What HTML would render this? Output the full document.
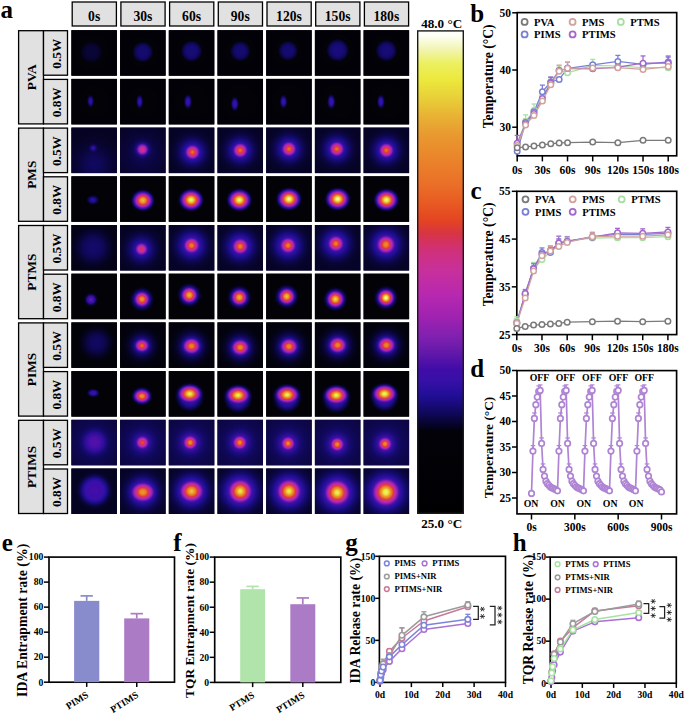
<!DOCTYPE html>
<html><head><meta charset="utf-8"><title>figure</title>
<style>
html,body{margin:0;padding:0;background:#fff;width:685px;height:714px;overflow:hidden}
svg{display:block}
text{font-family:"Liberation Serif",serif;font-weight:bold}
</style></head><body>
<svg width="685" height="714" viewBox="0 0 685 714">
<defs><radialGradient id="g1" gradientUnits="userSpaceOnUse" cx="91.42" cy="52.04" r="26.40"><stop offset="0.000" stop-color="#090537"/><stop offset="0.056" stop-color="#090537"/><stop offset="0.111" stop-color="#090536"/><stop offset="0.167" stop-color="#090535"/><stop offset="0.222" stop-color="#080433"/><stop offset="0.278" stop-color="#07042d"/><stop offset="0.333" stop-color="#050323"/><stop offset="0.389" stop-color="#030211"/><stop offset="0.444" stop-color="#020208"/><stop offset="0.500" stop-color="#020208"/><stop offset="0.556" stop-color="#020207"/><stop offset="0.611" stop-color="#020207"/><stop offset="0.667" stop-color="#010107"/><stop offset="0.722" stop-color="#010107"/><stop offset="0.778" stop-color="#010107"/><stop offset="0.833" stop-color="#010107"/><stop offset="0.889" stop-color="#010107"/><stop offset="0.944" stop-color="#010107"/><stop offset="1.000" stop-color="#010107"/></radialGradient><radialGradient id="g2" gradientUnits="userSpaceOnUse" cx="142.85" cy="52.04" r="21.12"><stop offset="0.000" stop-color="#150a70"/><stop offset="0.056" stop-color="#150a70"/><stop offset="0.111" stop-color="#150a70"/><stop offset="0.167" stop-color="#150a6e"/><stop offset="0.222" stop-color="#140a6b"/><stop offset="0.278" stop-color="#120965"/><stop offset="0.333" stop-color="#0f0859"/><stop offset="0.389" stop-color="#0b0644"/><stop offset="0.444" stop-color="#060429"/><stop offset="0.500" stop-color="#020208"/><stop offset="0.556" stop-color="#020207"/><stop offset="0.611" stop-color="#020207"/><stop offset="0.667" stop-color="#020207"/><stop offset="0.722" stop-color="#010107"/><stop offset="0.778" stop-color="#010107"/><stop offset="0.833" stop-color="#010107"/><stop offset="0.889" stop-color="#010107"/><stop offset="0.944" stop-color="#010107"/><stop offset="1.000" stop-color="#010107"/></radialGradient><radialGradient id="g3" gradientUnits="userSpaceOnUse" cx="191.55" cy="51.13" r="21.56"><stop offset="0.000" stop-color="#170b77"/><stop offset="0.056" stop-color="#170b76"/><stop offset="0.111" stop-color="#170b76"/><stop offset="0.167" stop-color="#170b75"/><stop offset="0.222" stop-color="#160a72"/><stop offset="0.278" stop-color="#140a6b"/><stop offset="0.333" stop-color="#11085f"/><stop offset="0.389" stop-color="#0d064b"/><stop offset="0.444" stop-color="#07042e"/><stop offset="0.500" stop-color="#020208"/><stop offset="0.556" stop-color="#020208"/><stop offset="0.611" stop-color="#020207"/><stop offset="0.667" stop-color="#020207"/><stop offset="0.722" stop-color="#010107"/><stop offset="0.778" stop-color="#010107"/><stop offset="0.833" stop-color="#010107"/><stop offset="0.889" stop-color="#010107"/><stop offset="0.944" stop-color="#010107"/><stop offset="1.000" stop-color="#010107"/></radialGradient><radialGradient id="g4" gradientUnits="userSpaceOnUse" cx="240.25" cy="51.13" r="20.68"><stop offset="0.000" stop-color="#150a70"/><stop offset="0.056" stop-color="#150a70"/><stop offset="0.111" stop-color="#150a70"/><stop offset="0.167" stop-color="#150a6e"/><stop offset="0.222" stop-color="#140a6b"/><stop offset="0.278" stop-color="#120965"/><stop offset="0.333" stop-color="#0f0859"/><stop offset="0.389" stop-color="#0b0644"/><stop offset="0.444" stop-color="#060429"/><stop offset="0.500" stop-color="#020208"/><stop offset="0.556" stop-color="#020207"/><stop offset="0.611" stop-color="#020207"/><stop offset="0.667" stop-color="#020207"/><stop offset="0.722" stop-color="#010107"/><stop offset="0.778" stop-color="#010107"/><stop offset="0.833" stop-color="#010107"/><stop offset="0.889" stop-color="#010107"/><stop offset="0.944" stop-color="#010107"/><stop offset="1.000" stop-color="#010107"/></radialGradient><radialGradient id="g5" gradientUnits="userSpaceOnUse" cx="288.04" cy="50.67" r="20.24"><stop offset="0.000" stop-color="#150a70"/><stop offset="0.056" stop-color="#150a70"/><stop offset="0.111" stop-color="#150a70"/><stop offset="0.167" stop-color="#150a6e"/><stop offset="0.222" stop-color="#140a6b"/><stop offset="0.278" stop-color="#120965"/><stop offset="0.333" stop-color="#0f0859"/><stop offset="0.389" stop-color="#0b0644"/><stop offset="0.444" stop-color="#060429"/><stop offset="0.500" stop-color="#020208"/><stop offset="0.556" stop-color="#020207"/><stop offset="0.611" stop-color="#020207"/><stop offset="0.667" stop-color="#020207"/><stop offset="0.722" stop-color="#010107"/><stop offset="0.778" stop-color="#010107"/><stop offset="0.833" stop-color="#010107"/><stop offset="0.889" stop-color="#010107"/><stop offset="0.944" stop-color="#010107"/><stop offset="1.000" stop-color="#010107"/></radialGradient><radialGradient id="g6" gradientUnits="userSpaceOnUse" cx="337.65" cy="50.22" r="22.66"><stop offset="0.000" stop-color="#190b7b"/><stop offset="0.056" stop-color="#190b7b"/><stop offset="0.111" stop-color="#190b7b"/><stop offset="0.167" stop-color="#180b7a"/><stop offset="0.222" stop-color="#170b76"/><stop offset="0.278" stop-color="#150a70"/><stop offset="0.333" stop-color="#120964"/><stop offset="0.389" stop-color="#0e074f"/><stop offset="0.444" stop-color="#080432"/><stop offset="0.500" stop-color="#02020c"/><stop offset="0.556" stop-color="#020208"/><stop offset="0.611" stop-color="#020207"/><stop offset="0.667" stop-color="#020207"/><stop offset="0.722" stop-color="#010107"/><stop offset="0.778" stop-color="#010107"/><stop offset="0.833" stop-color="#010107"/><stop offset="0.889" stop-color="#010107"/><stop offset="0.944" stop-color="#010107"/><stop offset="1.000" stop-color="#010107"/></radialGradient><radialGradient id="g7" gradientUnits="userSpaceOnUse" cx="386.35" cy="50.67" r="21.56"><stop offset="0.000" stop-color="#170b77"/><stop offset="0.056" stop-color="#170b76"/><stop offset="0.111" stop-color="#170b76"/><stop offset="0.167" stop-color="#170b75"/><stop offset="0.222" stop-color="#160a72"/><stop offset="0.278" stop-color="#140a6b"/><stop offset="0.333" stop-color="#11085f"/><stop offset="0.389" stop-color="#0d064b"/><stop offset="0.444" stop-color="#07042e"/><stop offset="0.500" stop-color="#020208"/><stop offset="0.556" stop-color="#020208"/><stop offset="0.611" stop-color="#020207"/><stop offset="0.667" stop-color="#020207"/><stop offset="0.722" stop-color="#010107"/><stop offset="0.778" stop-color="#010107"/><stop offset="0.833" stop-color="#010107"/><stop offset="0.889" stop-color="#010107"/><stop offset="0.944" stop-color="#010107"/><stop offset="1.000" stop-color="#010107"/></radialGradient><radialGradient id="g8" gradientUnits="userSpaceOnUse" cx="94.15" cy="101.65" r="28.60"><stop offset="0.000" stop-color="#020207"/><stop offset="0.056" stop-color="#020207"/><stop offset="0.111" stop-color="#020207"/><stop offset="0.167" stop-color="#020207"/><stop offset="0.222" stop-color="#020207"/><stop offset="0.278" stop-color="#020207"/><stop offset="0.333" stop-color="#020207"/><stop offset="0.389" stop-color="#020207"/><stop offset="0.444" stop-color="#020207"/><stop offset="0.500" stop-color="#020207"/><stop offset="0.556" stop-color="#010107"/><stop offset="0.611" stop-color="#010107"/><stop offset="0.667" stop-color="#010107"/><stop offset="0.722" stop-color="#010107"/><stop offset="0.778" stop-color="#010107"/><stop offset="0.833" stop-color="#010107"/><stop offset="0.889" stop-color="#010107"/><stop offset="0.944" stop-color="#010107"/><stop offset="1.000" stop-color="#010107"/></radialGradient><radialGradient id="g9" gradientUnits="userSpaceOnUse" cx="90.51" cy="101.20" r="13.44" gradientTransform="translate(90.51 101.20) scale(0.55 1) translate(-90.51 -101.20)"><stop offset="0.000" stop-color="#3310a4"/><stop offset="0.056" stop-color="#320fa3"/><stop offset="0.111" stop-color="#2d0fa0"/><stop offset="0.167" stop-color="#270f9b"/><stop offset="0.222" stop-color="#1f0e92"/><stop offset="0.278" stop-color="#190b7c" stop-opacity="0.97"/><stop offset="0.333" stop-color="#120965" stop-opacity="0.82"/><stop offset="0.389" stop-color="#0d064a" stop-opacity="0.67"/><stop offset="0.444" stop-color="#080430" stop-opacity="0.53"/><stop offset="0.500" stop-color="#040316" stop-opacity="0.40"/><stop offset="0.556" stop-color="#020208" stop-opacity="0.30"/><stop offset="0.611" stop-color="#020208" stop-opacity="0.21"/><stop offset="0.667" stop-color="#020207" stop-opacity="0.15"/><stop offset="0.722" stop-color="#020207" stop-opacity="0.10"/><stop offset="0.778" stop-color="#020207" stop-opacity="0.07"/><stop offset="0.833" stop-color="#020207" stop-opacity="0.04"/><stop offset="0.889" stop-color="#020207" stop-opacity="0.03"/><stop offset="0.944" stop-color="#020207" stop-opacity="0.02"/><stop offset="1.000" stop-color="#020207" stop-opacity="0.01"/></radialGradient><radialGradient id="g10" gradientUnits="userSpaceOnUse" cx="142.85" cy="101.65" r="28.60"><stop offset="0.000" stop-color="#020207"/><stop offset="0.056" stop-color="#020207"/><stop offset="0.111" stop-color="#020207"/><stop offset="0.167" stop-color="#020207"/><stop offset="0.222" stop-color="#020207"/><stop offset="0.278" stop-color="#020207"/><stop offset="0.333" stop-color="#020207"/><stop offset="0.389" stop-color="#020207"/><stop offset="0.444" stop-color="#020207"/><stop offset="0.500" stop-color="#020207"/><stop offset="0.556" stop-color="#010107"/><stop offset="0.611" stop-color="#010107"/><stop offset="0.667" stop-color="#010107"/><stop offset="0.722" stop-color="#010107"/><stop offset="0.778" stop-color="#010107"/><stop offset="0.833" stop-color="#010107"/><stop offset="0.889" stop-color="#010107"/><stop offset="0.944" stop-color="#010107"/><stop offset="1.000" stop-color="#010107"/></radialGradient><radialGradient id="g11" gradientUnits="userSpaceOnUse" cx="139.67" cy="101.65" r="14.40" gradientTransform="translate(139.67 101.65) scale(0.5 1) translate(-139.67 -101.65)"><stop offset="0.000" stop-color="#3a0fa8"/><stop offset="0.056" stop-color="#390fa8"/><stop offset="0.111" stop-color="#3510a6"/><stop offset="0.167" stop-color="#2e0fa1"/><stop offset="0.222" stop-color="#250e9a"/><stop offset="0.278" stop-color="#1d0d8b"/><stop offset="0.333" stop-color="#160a71" stop-opacity="0.88"/><stop offset="0.389" stop-color="#0f0858" stop-opacity="0.72"/><stop offset="0.444" stop-color="#0a053c" stop-opacity="0.57"/><stop offset="0.500" stop-color="#050322" stop-opacity="0.43"/><stop offset="0.556" stop-color="#020208" stop-opacity="0.32"/><stop offset="0.611" stop-color="#020208" stop-opacity="0.23"/><stop offset="0.667" stop-color="#020208" stop-opacity="0.16"/><stop offset="0.722" stop-color="#020207" stop-opacity="0.11"/><stop offset="0.778" stop-color="#020207" stop-opacity="0.07"/><stop offset="0.833" stop-color="#020207" stop-opacity="0.04"/><stop offset="0.889" stop-color="#020207" stop-opacity="0.03"/><stop offset="0.944" stop-color="#020207" stop-opacity="0.02"/><stop offset="1.000" stop-color="#020207" stop-opacity="0.01"/></radialGradient><radialGradient id="g12" gradientUnits="userSpaceOnUse" cx="191.55" cy="101.65" r="28.60"><stop offset="0.000" stop-color="#020207"/><stop offset="0.056" stop-color="#020207"/><stop offset="0.111" stop-color="#020207"/><stop offset="0.167" stop-color="#020207"/><stop offset="0.222" stop-color="#020207"/><stop offset="0.278" stop-color="#020207"/><stop offset="0.333" stop-color="#020207"/><stop offset="0.389" stop-color="#020207"/><stop offset="0.444" stop-color="#020207"/><stop offset="0.500" stop-color="#020207"/><stop offset="0.556" stop-color="#020207"/><stop offset="0.611" stop-color="#010107"/><stop offset="0.667" stop-color="#010107"/><stop offset="0.722" stop-color="#010107"/><stop offset="0.778" stop-color="#010107"/><stop offset="0.833" stop-color="#010107"/><stop offset="0.889" stop-color="#010107"/><stop offset="0.944" stop-color="#010107"/><stop offset="1.000" stop-color="#010107"/></radialGradient><radialGradient id="g13" gradientUnits="userSpaceOnUse" cx="187.91" cy="101.65" r="14.72" gradientTransform="translate(187.91 101.65) scale(0.55 1) translate(-187.91 -101.65)"><stop offset="0.000" stop-color="#3d0ea8"/><stop offset="0.056" stop-color="#3c0ea8"/><stop offset="0.111" stop-color="#3a0fa8"/><stop offset="0.167" stop-color="#3410a5"/><stop offset="0.222" stop-color="#2a0f9e"/><stop offset="0.278" stop-color="#200e95"/><stop offset="0.333" stop-color="#190b7b" stop-opacity="0.91"/><stop offset="0.389" stop-color="#110961" stop-opacity="0.74"/><stop offset="0.444" stop-color="#0c0645" stop-opacity="0.59"/><stop offset="0.500" stop-color="#07042a" stop-opacity="0.45"/><stop offset="0.556" stop-color="#030210" stop-opacity="0.33"/><stop offset="0.611" stop-color="#020208" stop-opacity="0.24"/><stop offset="0.667" stop-color="#020208" stop-opacity="0.17"/><stop offset="0.722" stop-color="#020207" stop-opacity="0.11"/><stop offset="0.778" stop-color="#020207" stop-opacity="0.07"/><stop offset="0.833" stop-color="#020207" stop-opacity="0.05"/><stop offset="0.889" stop-color="#020207" stop-opacity="0.03"/><stop offset="0.944" stop-color="#020207" stop-opacity="0.02"/><stop offset="1.000" stop-color="#020207" stop-opacity="0.01"/></radialGradient><radialGradient id="g14" gradientUnits="userSpaceOnUse" cx="240.25" cy="101.65" r="28.60"><stop offset="0.000" stop-color="#020207"/><stop offset="0.056" stop-color="#020207"/><stop offset="0.111" stop-color="#020207"/><stop offset="0.167" stop-color="#020207"/><stop offset="0.222" stop-color="#020207"/><stop offset="0.278" stop-color="#020207"/><stop offset="0.333" stop-color="#020207"/><stop offset="0.389" stop-color="#020207"/><stop offset="0.444" stop-color="#020207"/><stop offset="0.500" stop-color="#020207"/><stop offset="0.556" stop-color="#020207"/><stop offset="0.611" stop-color="#010107"/><stop offset="0.667" stop-color="#010107"/><stop offset="0.722" stop-color="#010107"/><stop offset="0.778" stop-color="#010107"/><stop offset="0.833" stop-color="#010107"/><stop offset="0.889" stop-color="#010107"/><stop offset="0.944" stop-color="#010107"/><stop offset="1.000" stop-color="#010107"/></radialGradient><radialGradient id="g15" gradientUnits="userSpaceOnUse" cx="234.79" cy="103.93" r="14.72" gradientTransform="translate(234.79 103.93) scale(0.55 1) translate(-234.79 -103.93)"><stop offset="0.000" stop-color="#3d0ea8"/><stop offset="0.056" stop-color="#3c0ea8"/><stop offset="0.111" stop-color="#390fa8"/><stop offset="0.167" stop-color="#3310a4"/><stop offset="0.222" stop-color="#2a0f9d"/><stop offset="0.278" stop-color="#1f0e94"/><stop offset="0.333" stop-color="#180b79" stop-opacity="0.91"/><stop offset="0.389" stop-color="#110860" stop-opacity="0.74"/><stop offset="0.444" stop-color="#0b0642" stop-opacity="0.59"/><stop offset="0.500" stop-color="#060328" stop-opacity="0.45"/><stop offset="0.556" stop-color="#02020c" stop-opacity="0.33"/><stop offset="0.611" stop-color="#020208" stop-opacity="0.24"/><stop offset="0.667" stop-color="#020208" stop-opacity="0.17"/><stop offset="0.722" stop-color="#020207" stop-opacity="0.11"/><stop offset="0.778" stop-color="#020207" stop-opacity="0.07"/><stop offset="0.833" stop-color="#020207" stop-opacity="0.05"/><stop offset="0.889" stop-color="#020207" stop-opacity="0.03"/><stop offset="0.944" stop-color="#020207" stop-opacity="0.02"/><stop offset="1.000" stop-color="#020207" stop-opacity="0.01"/></radialGradient><radialGradient id="g16" gradientUnits="userSpaceOnUse" cx="288.95" cy="101.65" r="28.60"><stop offset="0.000" stop-color="#020207"/><stop offset="0.056" stop-color="#020207"/><stop offset="0.111" stop-color="#020207"/><stop offset="0.167" stop-color="#020207"/><stop offset="0.222" stop-color="#020207"/><stop offset="0.278" stop-color="#020207"/><stop offset="0.333" stop-color="#020207"/><stop offset="0.389" stop-color="#020207"/><stop offset="0.444" stop-color="#020207"/><stop offset="0.500" stop-color="#020207"/><stop offset="0.556" stop-color="#020207"/><stop offset="0.611" stop-color="#010107"/><stop offset="0.667" stop-color="#010107"/><stop offset="0.722" stop-color="#010107"/><stop offset="0.778" stop-color="#010107"/><stop offset="0.833" stop-color="#010107"/><stop offset="0.889" stop-color="#010107"/><stop offset="0.944" stop-color="#010107"/><stop offset="1.000" stop-color="#010107"/></radialGradient><radialGradient id="g17" gradientUnits="userSpaceOnUse" cx="283.49" cy="101.65" r="14.08" gradientTransform="translate(283.49 101.65) scale(0.55 1) translate(-283.49 -101.65)"><stop offset="0.000" stop-color="#3b0fa8"/><stop offset="0.056" stop-color="#3a0fa8"/><stop offset="0.111" stop-color="#3710a7"/><stop offset="0.167" stop-color="#300fa2"/><stop offset="0.222" stop-color="#270f9b"/><stop offset="0.278" stop-color="#1e0d8f"/><stop offset="0.333" stop-color="#170b75" stop-opacity="0.88"/><stop offset="0.389" stop-color="#10085c" stop-opacity="0.72"/><stop offset="0.444" stop-color="#0b0640" stop-opacity="0.57"/><stop offset="0.500" stop-color="#060326" stop-opacity="0.43"/><stop offset="0.556" stop-color="#02020b" stop-opacity="0.32"/><stop offset="0.611" stop-color="#020208" stop-opacity="0.23"/><stop offset="0.667" stop-color="#020208" stop-opacity="0.16"/><stop offset="0.722" stop-color="#020207" stop-opacity="0.11"/><stop offset="0.778" stop-color="#020207" stop-opacity="0.07"/><stop offset="0.833" stop-color="#020207" stop-opacity="0.04"/><stop offset="0.889" stop-color="#020207" stop-opacity="0.03"/><stop offset="0.944" stop-color="#020207" stop-opacity="0.02"/><stop offset="1.000" stop-color="#020207" stop-opacity="0.01"/></radialGradient><radialGradient id="g18" gradientUnits="userSpaceOnUse" cx="337.65" cy="101.65" r="28.60"><stop offset="0.000" stop-color="#020207"/><stop offset="0.056" stop-color="#020207"/><stop offset="0.111" stop-color="#020207"/><stop offset="0.167" stop-color="#020207"/><stop offset="0.222" stop-color="#020207"/><stop offset="0.278" stop-color="#020207"/><stop offset="0.333" stop-color="#020207"/><stop offset="0.389" stop-color="#020207"/><stop offset="0.444" stop-color="#020207"/><stop offset="0.500" stop-color="#020207"/><stop offset="0.556" stop-color="#020207"/><stop offset="0.611" stop-color="#010107"/><stop offset="0.667" stop-color="#010107"/><stop offset="0.722" stop-color="#010107"/><stop offset="0.778" stop-color="#010107"/><stop offset="0.833" stop-color="#010107"/><stop offset="0.889" stop-color="#010107"/><stop offset="0.944" stop-color="#010107"/><stop offset="1.000" stop-color="#010107"/></radialGradient><radialGradient id="g19" gradientUnits="userSpaceOnUse" cx="331.28" cy="101.65" r="14.72" gradientTransform="translate(331.28 101.65) scale(0.55 1) translate(-331.28 -101.65)"><stop offset="0.000" stop-color="#3f0da8"/><stop offset="0.056" stop-color="#3e0da8"/><stop offset="0.111" stop-color="#3b0ea8"/><stop offset="0.167" stop-color="#3610a7"/><stop offset="0.222" stop-color="#2d0fa0"/><stop offset="0.278" stop-color="#220e98"/><stop offset="0.333" stop-color="#1a0c81" stop-opacity="0.91"/><stop offset="0.389" stop-color="#130967" stop-opacity="0.74"/><stop offset="0.444" stop-color="#0d074b" stop-opacity="0.59"/><stop offset="0.500" stop-color="#080430" stop-opacity="0.45"/><stop offset="0.556" stop-color="#040317" stop-opacity="0.33"/><stop offset="0.611" stop-color="#020208" stop-opacity="0.24"/><stop offset="0.667" stop-color="#020208" stop-opacity="0.17"/><stop offset="0.722" stop-color="#020207" stop-opacity="0.11"/><stop offset="0.778" stop-color="#020207" stop-opacity="0.07"/><stop offset="0.833" stop-color="#020207" stop-opacity="0.05"/><stop offset="0.889" stop-color="#020207" stop-opacity="0.03"/><stop offset="0.944" stop-color="#020207" stop-opacity="0.02"/><stop offset="1.000" stop-color="#020207" stop-opacity="0.01"/></radialGradient><radialGradient id="g20" gradientUnits="userSpaceOnUse" cx="386.35" cy="101.65" r="28.60"><stop offset="0.000" stop-color="#020207"/><stop offset="0.056" stop-color="#020207"/><stop offset="0.111" stop-color="#020207"/><stop offset="0.167" stop-color="#020207"/><stop offset="0.222" stop-color="#020207"/><stop offset="0.278" stop-color="#020207"/><stop offset="0.333" stop-color="#020207"/><stop offset="0.389" stop-color="#020207"/><stop offset="0.444" stop-color="#020207"/><stop offset="0.500" stop-color="#020207"/><stop offset="0.556" stop-color="#020207"/><stop offset="0.611" stop-color="#010107"/><stop offset="0.667" stop-color="#010107"/><stop offset="0.722" stop-color="#010107"/><stop offset="0.778" stop-color="#010107"/><stop offset="0.833" stop-color="#010107"/><stop offset="0.889" stop-color="#010107"/><stop offset="0.944" stop-color="#010107"/><stop offset="1.000" stop-color="#010107"/></radialGradient><radialGradient id="g21" gradientUnits="userSpaceOnUse" cx="380.89" cy="101.65" r="14.08" gradientTransform="translate(380.89 101.65) scale(0.55 1) translate(-380.89 -101.65)"><stop offset="0.000" stop-color="#3d0ea8"/><stop offset="0.056" stop-color="#3c0ea8"/><stop offset="0.111" stop-color="#390fa8"/><stop offset="0.167" stop-color="#3410a5"/><stop offset="0.222" stop-color="#2b0f9e"/><stop offset="0.278" stop-color="#200e96"/><stop offset="0.333" stop-color="#190b7d" stop-opacity="0.88"/><stop offset="0.389" stop-color="#120964" stop-opacity="0.72"/><stop offset="0.444" stop-color="#0c0649" stop-opacity="0.57"/><stop offset="0.500" stop-color="#08042f" stop-opacity="0.43"/><stop offset="0.556" stop-color="#040317" stop-opacity="0.32"/><stop offset="0.611" stop-color="#020208" stop-opacity="0.23"/><stop offset="0.667" stop-color="#020208" stop-opacity="0.16"/><stop offset="0.722" stop-color="#020208" stop-opacity="0.11"/><stop offset="0.778" stop-color="#020207" stop-opacity="0.07"/><stop offset="0.833" stop-color="#020207" stop-opacity="0.04"/><stop offset="0.889" stop-color="#020207" stop-opacity="0.03"/><stop offset="0.944" stop-color="#020207" stop-opacity="0.02"/><stop offset="1.000" stop-color="#020207" stop-opacity="0.01"/></radialGradient><radialGradient id="g22" gradientUnits="userSpaceOnUse" cx="94.15" cy="164.00" r="38.40"><stop offset="0.000" stop-color="#11085f"/><stop offset="0.056" stop-color="#11085f"/><stop offset="0.111" stop-color="#10085c"/><stop offset="0.167" stop-color="#0f0858"/><stop offset="0.222" stop-color="#0e0752"/><stop offset="0.278" stop-color="#0d074c"/><stop offset="0.333" stop-color="#0c0645"/><stop offset="0.389" stop-color="#0a053f"/><stop offset="0.444" stop-color="#090539"/><stop offset="0.500" stop-color="#080433"/><stop offset="0.556" stop-color="#07042f"/><stop offset="0.611" stop-color="#07042b"/><stop offset="0.667" stop-color="#060428"/><stop offset="0.722" stop-color="#060326"/><stop offset="0.778" stop-color="#060325"/><stop offset="0.833" stop-color="#050324"/><stop offset="0.889" stop-color="#050323"/><stop offset="0.944" stop-color="#050323"/><stop offset="1.000" stop-color="#050322"/></radialGradient><radialGradient id="g23" gradientUnits="userSpaceOnUse" cx="93.24" cy="148.08" r="8.32"><stop offset="0.000" stop-color="#3a0fa8"/><stop offset="0.056" stop-color="#3a0fa8" stop-opacity="0.98"/><stop offset="0.111" stop-color="#3810a8" stop-opacity="0.94"/><stop offset="0.167" stop-color="#3310a5" stop-opacity="0.87"/><stop offset="0.222" stop-color="#2e0fa0" stop-opacity="0.78"/><stop offset="0.278" stop-color="#270f9b" stop-opacity="0.67"/><stop offset="0.333" stop-color="#200e96" stop-opacity="0.57"/><stop offset="0.389" stop-color="#1c0c87" stop-opacity="0.46"/><stop offset="0.444" stop-color="#180b78" stop-opacity="0.36"/><stop offset="0.500" stop-color="#140a6b" stop-opacity="0.28"/><stop offset="0.556" stop-color="#110861" stop-opacity="0.21"/><stop offset="0.611" stop-color="#0f0857" stop-opacity="0.15"/><stop offset="0.667" stop-color="#0d074e" stop-opacity="0.10"/><stop offset="0.722" stop-color="#0c0648" stop-opacity="0.07"/><stop offset="0.778" stop-color="#0b0644" stop-opacity="0.05"/><stop offset="0.833" stop-color="#0b0640" stop-opacity="0.03"/><stop offset="0.889" stop-color="#0a053e" stop-opacity="0.02"/><stop offset="0.944" stop-color="#0a053d" stop-opacity="0.01"/><stop offset="1.000" stop-color="#0a053c" stop-opacity="0.01"/></radialGradient><radialGradient id="g24" gradientUnits="userSpaceOnUse" cx="142.85" cy="154.90" r="51.20"><stop offset="0.000" stop-color="#0d074b"/><stop offset="0.056" stop-color="#0d074b"/><stop offset="0.111" stop-color="#0c0649"/><stop offset="0.167" stop-color="#0c0646"/><stop offset="0.222" stop-color="#0b0642"/><stop offset="0.278" stop-color="#0a053e"/><stop offset="0.333" stop-color="#090539"/><stop offset="0.389" stop-color="#090535"/><stop offset="0.444" stop-color="#080431"/><stop offset="0.500" stop-color="#07042e"/><stop offset="0.556" stop-color="#07042b"/><stop offset="0.611" stop-color="#060428"/><stop offset="0.667" stop-color="#060326"/><stop offset="0.722" stop-color="#060325"/><stop offset="0.778" stop-color="#050324"/><stop offset="0.833" stop-color="#050323"/><stop offset="0.889" stop-color="#050323"/><stop offset="0.944" stop-color="#050322"/><stop offset="1.000" stop-color="#050322"/></radialGradient><radialGradient id="g25" gradientUnits="userSpaceOnUse" cx="142.40" cy="149.44" r="22.40"><stop offset="0.000" stop-color="#3210a4" stop-opacity="0.78"/><stop offset="0.056" stop-color="#310fa3" stop-opacity="0.77"/><stop offset="0.111" stop-color="#2f0fa1" stop-opacity="0.73"/><stop offset="0.167" stop-color="#2b0f9f" stop-opacity="0.67"/><stop offset="0.222" stop-color="#270f9b" stop-opacity="0.60"/><stop offset="0.278" stop-color="#210e97" stop-opacity="0.52"/><stop offset="0.333" stop-color="#1d0d8b" stop-opacity="0.44"/><stop offset="0.389" stop-color="#190c7e" stop-opacity="0.36"/><stop offset="0.444" stop-color="#160a72" stop-opacity="0.28"/><stop offset="0.500" stop-color="#130967" stop-opacity="0.22"/><stop offset="0.556" stop-color="#10085d" stop-opacity="0.16"/><stop offset="0.611" stop-color="#0e0753" stop-opacity="0.11"/><stop offset="0.667" stop-color="#0d074b" stop-opacity="0.08"/><stop offset="0.722" stop-color="#0b0644" stop-opacity="0.05"/><stop offset="0.778" stop-color="#0a053f" stop-opacity="0.04"/><stop offset="0.833" stop-color="#0a053b" stop-opacity="0.02"/><stop offset="0.889" stop-color="#090537" stop-opacity="0.01"/><stop offset="0.944" stop-color="#090535" stop-opacity="0.01"/><stop offset="1.000" stop-color="#080432" stop-opacity="0.00"/></radialGradient><radialGradient id="g26" gradientUnits="userSpaceOnUse" cx="142.40" cy="149.44" r="10.24"><stop offset="0.000" stop-color="#cf307f"/><stop offset="0.056" stop-color="#ce3082"/><stop offset="0.111" stop-color="#cb308d"/><stop offset="0.167" stop-color="#c72f9c"/><stop offset="0.222" stop-color="#bf2ba7"/><stop offset="0.278" stop-color="#b427b0"/><stop offset="0.333" stop-color="#a223b0"/><stop offset="0.389" stop-color="#8d21b0"/><stop offset="0.444" stop-color="#741dad"/><stop offset="0.500" stop-color="#5c16a8" stop-opacity="0.83"/><stop offset="0.556" stop-color="#460ea8" stop-opacity="0.62"/><stop offset="0.611" stop-color="#3b0fa8" stop-opacity="0.44"/><stop offset="0.667" stop-color="#3210a4" stop-opacity="0.31"/><stop offset="0.722" stop-color="#290f9d" stop-opacity="0.21"/><stop offset="0.778" stop-color="#220e97" stop-opacity="0.14"/><stop offset="0.833" stop-color="#1d0d8d" stop-opacity="0.09"/><stop offset="0.889" stop-color="#1b0c82" stop-opacity="0.05"/><stop offset="0.944" stop-color="#180b79" stop-opacity="0.03"/><stop offset="1.000" stop-color="#160a72" stop-opacity="0.02"/></radialGradient><radialGradient id="g27" gradientUnits="userSpaceOnUse" cx="192.46" cy="152.17" r="25.60"><stop offset="0.000" stop-color="#420da8"/><stop offset="0.056" stop-color="#400ca8"/><stop offset="0.111" stop-color="#3e0da8"/><stop offset="0.167" stop-color="#3b0fa8"/><stop offset="0.222" stop-color="#3510a6"/><stop offset="0.278" stop-color="#2d0f9f"/><stop offset="0.333" stop-color="#230e99"/><stop offset="0.389" stop-color="#1c0d89"/><stop offset="0.444" stop-color="#170b76"/><stop offset="0.500" stop-color="#120965"/><stop offset="0.556" stop-color="#0f0755"/><stop offset="0.611" stop-color="#0c0647"/><stop offset="0.667" stop-color="#0a053c"/><stop offset="0.722" stop-color="#080433"/><stop offset="0.778" stop-color="#07042d"/><stop offset="0.833" stop-color="#060429"/><stop offset="0.889" stop-color="#060326"/><stop offset="0.944" stop-color="#050325"/><stop offset="1.000" stop-color="#050323"/></radialGradient><radialGradient id="g28" gradientUnits="userSpaceOnUse" cx="192.46" cy="152.17" r="11.20"><stop offset="0.000" stop-color="#ea6e27"/><stop offset="0.056" stop-color="#ea6a27"/><stop offset="0.111" stop-color="#e96124"/><stop offset="0.167" stop-color="#e65022"/><stop offset="0.222" stop-color="#dc3a38"/><stop offset="0.278" stop-color="#d13077"/><stop offset="0.333" stop-color="#c7309b"/><stop offset="0.389" stop-color="#ba29ae"/><stop offset="0.444" stop-color="#a424b0"/><stop offset="0.500" stop-color="#8b21b0"/><stop offset="0.556" stop-color="#6f1cac" stop-opacity="0.87"/><stop offset="0.611" stop-color="#5514a8" stop-opacity="0.62"/><stop offset="0.667" stop-color="#3f0ca8" stop-opacity="0.43"/><stop offset="0.722" stop-color="#3810a8" stop-opacity="0.29"/><stop offset="0.778" stop-color="#2e0fa1" stop-opacity="0.19"/><stop offset="0.833" stop-color="#260f9b" stop-opacity="0.12"/><stop offset="0.889" stop-color="#200e94" stop-opacity="0.07"/><stop offset="0.944" stop-color="#1c0c87" stop-opacity="0.04"/><stop offset="1.000" stop-color="#190b7c" stop-opacity="0.03"/></radialGradient><radialGradient id="g29" gradientUnits="userSpaceOnUse" cx="240.25" cy="150.35" r="25.60"><stop offset="0.000" stop-color="#420da8"/><stop offset="0.056" stop-color="#400ca8"/><stop offset="0.111" stop-color="#3e0da8"/><stop offset="0.167" stop-color="#3b0fa8"/><stop offset="0.222" stop-color="#3510a6"/><stop offset="0.278" stop-color="#2d0f9f"/><stop offset="0.333" stop-color="#230e99"/><stop offset="0.389" stop-color="#1c0d89"/><stop offset="0.444" stop-color="#170b76"/><stop offset="0.500" stop-color="#120965"/><stop offset="0.556" stop-color="#0f0755"/><stop offset="0.611" stop-color="#0c0647"/><stop offset="0.667" stop-color="#0a053c"/><stop offset="0.722" stop-color="#080433"/><stop offset="0.778" stop-color="#07042d"/><stop offset="0.833" stop-color="#060429"/><stop offset="0.889" stop-color="#060326"/><stop offset="0.944" stop-color="#050325"/><stop offset="1.000" stop-color="#050323"/></radialGradient><radialGradient id="g30" gradientUnits="userSpaceOnUse" cx="240.25" cy="150.35" r="11.20"><stop offset="0.000" stop-color="#ea6e27"/><stop offset="0.056" stop-color="#ea6a27"/><stop offset="0.111" stop-color="#e96124"/><stop offset="0.167" stop-color="#e65022"/><stop offset="0.222" stop-color="#dc3a38"/><stop offset="0.278" stop-color="#d13077"/><stop offset="0.333" stop-color="#c7309b"/><stop offset="0.389" stop-color="#ba29ae"/><stop offset="0.444" stop-color="#a424b0"/><stop offset="0.500" stop-color="#8b21b0"/><stop offset="0.556" stop-color="#6f1cac" stop-opacity="0.87"/><stop offset="0.611" stop-color="#5514a8" stop-opacity="0.62"/><stop offset="0.667" stop-color="#3f0ca8" stop-opacity="0.43"/><stop offset="0.722" stop-color="#3810a8" stop-opacity="0.29"/><stop offset="0.778" stop-color="#2e0fa1" stop-opacity="0.19"/><stop offset="0.833" stop-color="#260f9b" stop-opacity="0.12"/><stop offset="0.889" stop-color="#200e94" stop-opacity="0.07"/><stop offset="0.944" stop-color="#1c0c87" stop-opacity="0.04"/><stop offset="1.000" stop-color="#190b7c" stop-opacity="0.03"/></radialGradient><radialGradient id="g31" gradientUnits="userSpaceOnUse" cx="288.95" cy="148.99" r="25.60"><stop offset="0.000" stop-color="#420da8"/><stop offset="0.056" stop-color="#400ca8"/><stop offset="0.111" stop-color="#3e0da8"/><stop offset="0.167" stop-color="#3b0fa8"/><stop offset="0.222" stop-color="#3510a6"/><stop offset="0.278" stop-color="#2d0f9f"/><stop offset="0.333" stop-color="#230e99"/><stop offset="0.389" stop-color="#1c0d89"/><stop offset="0.444" stop-color="#170b76"/><stop offset="0.500" stop-color="#120965"/><stop offset="0.556" stop-color="#0f0755"/><stop offset="0.611" stop-color="#0c0647"/><stop offset="0.667" stop-color="#0a053c"/><stop offset="0.722" stop-color="#080433"/><stop offset="0.778" stop-color="#07042d"/><stop offset="0.833" stop-color="#060429"/><stop offset="0.889" stop-color="#060326"/><stop offset="0.944" stop-color="#050325"/><stop offset="1.000" stop-color="#050323"/></radialGradient><radialGradient id="g32" gradientUnits="userSpaceOnUse" cx="288.95" cy="148.99" r="11.20"><stop offset="0.000" stop-color="#ea6e27"/><stop offset="0.056" stop-color="#ea6a27"/><stop offset="0.111" stop-color="#e96124"/><stop offset="0.167" stop-color="#e65022"/><stop offset="0.222" stop-color="#dc3a38"/><stop offset="0.278" stop-color="#d13077"/><stop offset="0.333" stop-color="#c7309b"/><stop offset="0.389" stop-color="#ba29ae"/><stop offset="0.444" stop-color="#a424b0"/><stop offset="0.500" stop-color="#8b21b0"/><stop offset="0.556" stop-color="#6f1cac" stop-opacity="0.87"/><stop offset="0.611" stop-color="#5514a8" stop-opacity="0.62"/><stop offset="0.667" stop-color="#3f0ca8" stop-opacity="0.43"/><stop offset="0.722" stop-color="#3810a8" stop-opacity="0.29"/><stop offset="0.778" stop-color="#2e0fa1" stop-opacity="0.19"/><stop offset="0.833" stop-color="#260f9b" stop-opacity="0.12"/><stop offset="0.889" stop-color="#200e94" stop-opacity="0.07"/><stop offset="0.944" stop-color="#1c0c87" stop-opacity="0.04"/><stop offset="1.000" stop-color="#190b7c" stop-opacity="0.03"/></radialGradient><radialGradient id="g33" gradientUnits="userSpaceOnUse" cx="336.74" cy="148.99" r="25.60"><stop offset="0.000" stop-color="#420da8"/><stop offset="0.056" stop-color="#400ca8"/><stop offset="0.111" stop-color="#3e0da8"/><stop offset="0.167" stop-color="#3b0fa8"/><stop offset="0.222" stop-color="#3510a6"/><stop offset="0.278" stop-color="#2d0f9f"/><stop offset="0.333" stop-color="#230e99"/><stop offset="0.389" stop-color="#1c0d89"/><stop offset="0.444" stop-color="#170b76"/><stop offset="0.500" stop-color="#120965"/><stop offset="0.556" stop-color="#0f0755"/><stop offset="0.611" stop-color="#0c0647"/><stop offset="0.667" stop-color="#0a053c"/><stop offset="0.722" stop-color="#080433"/><stop offset="0.778" stop-color="#07042d"/><stop offset="0.833" stop-color="#060429"/><stop offset="0.889" stop-color="#060326"/><stop offset="0.944" stop-color="#050325"/><stop offset="1.000" stop-color="#050323"/></radialGradient><radialGradient id="g34" gradientUnits="userSpaceOnUse" cx="336.74" cy="148.99" r="11.20"><stop offset="0.000" stop-color="#ea6e27"/><stop offset="0.056" stop-color="#ea6a27"/><stop offset="0.111" stop-color="#e96124"/><stop offset="0.167" stop-color="#e65022"/><stop offset="0.222" stop-color="#dc3a38"/><stop offset="0.278" stop-color="#d13077"/><stop offset="0.333" stop-color="#c7309b"/><stop offset="0.389" stop-color="#ba29ae"/><stop offset="0.444" stop-color="#a424b0"/><stop offset="0.500" stop-color="#8b21b0"/><stop offset="0.556" stop-color="#6f1cac" stop-opacity="0.87"/><stop offset="0.611" stop-color="#5514a8" stop-opacity="0.62"/><stop offset="0.667" stop-color="#3f0ca8" stop-opacity="0.43"/><stop offset="0.722" stop-color="#3810a8" stop-opacity="0.29"/><stop offset="0.778" stop-color="#2e0fa1" stop-opacity="0.19"/><stop offset="0.833" stop-color="#260f9b" stop-opacity="0.12"/><stop offset="0.889" stop-color="#200e94" stop-opacity="0.07"/><stop offset="0.944" stop-color="#1c0c87" stop-opacity="0.04"/><stop offset="1.000" stop-color="#190b7c" stop-opacity="0.03"/></radialGradient><radialGradient id="g35" gradientUnits="userSpaceOnUse" cx="386.35" cy="150.35" r="25.60"><stop offset="0.000" stop-color="#420da8"/><stop offset="0.056" stop-color="#400ca8"/><stop offset="0.111" stop-color="#3e0da8"/><stop offset="0.167" stop-color="#3b0fa8"/><stop offset="0.222" stop-color="#3510a6"/><stop offset="0.278" stop-color="#2d0f9f"/><stop offset="0.333" stop-color="#230e99"/><stop offset="0.389" stop-color="#1c0d89"/><stop offset="0.444" stop-color="#170b76"/><stop offset="0.500" stop-color="#120965"/><stop offset="0.556" stop-color="#0f0755"/><stop offset="0.611" stop-color="#0c0647"/><stop offset="0.667" stop-color="#0a053c"/><stop offset="0.722" stop-color="#080433"/><stop offset="0.778" stop-color="#07042d"/><stop offset="0.833" stop-color="#060429"/><stop offset="0.889" stop-color="#060326"/><stop offset="0.944" stop-color="#050325"/><stop offset="1.000" stop-color="#050323"/></radialGradient><radialGradient id="g36" gradientUnits="userSpaceOnUse" cx="386.35" cy="150.35" r="11.20"><stop offset="0.000" stop-color="#ea6e27"/><stop offset="0.056" stop-color="#ea6a27"/><stop offset="0.111" stop-color="#e96124"/><stop offset="0.167" stop-color="#e65022"/><stop offset="0.222" stop-color="#dc3a38"/><stop offset="0.278" stop-color="#d13077"/><stop offset="0.333" stop-color="#c7309b"/><stop offset="0.389" stop-color="#ba29ae"/><stop offset="0.444" stop-color="#a424b0"/><stop offset="0.500" stop-color="#8b21b0"/><stop offset="0.556" stop-color="#6f1cac" stop-opacity="0.87"/><stop offset="0.611" stop-color="#5514a8" stop-opacity="0.62"/><stop offset="0.667" stop-color="#3f0ca8" stop-opacity="0.43"/><stop offset="0.722" stop-color="#3810a8" stop-opacity="0.29"/><stop offset="0.778" stop-color="#2e0fa1" stop-opacity="0.19"/><stop offset="0.833" stop-color="#260f9b" stop-opacity="0.12"/><stop offset="0.889" stop-color="#200e94" stop-opacity="0.07"/><stop offset="0.944" stop-color="#1c0c87" stop-opacity="0.04"/><stop offset="1.000" stop-color="#190b7c" stop-opacity="0.03"/></radialGradient><radialGradient id="g37" gradientUnits="userSpaceOnUse" cx="92.78" cy="199.96" r="9.60" gradientTransform="translate(92.78 199.96) scale(1.3 1) translate(-92.78 -199.96)"><stop offset="0.000" stop-color="#2c0f9f"/><stop offset="0.056" stop-color="#2b0f9e"/><stop offset="0.111" stop-color="#270f9b"/><stop offset="0.167" stop-color="#210e97"/><stop offset="0.222" stop-color="#1c0c86"/><stop offset="0.278" stop-color="#160a71"/><stop offset="0.333" stop-color="#10085c"/><stop offset="0.389" stop-color="#0b0642"/><stop offset="0.444" stop-color="#06042a"/><stop offset="0.500" stop-color="#030211"/><stop offset="0.556" stop-color="#020208"/><stop offset="0.611" stop-color="#020208"/><stop offset="0.667" stop-color="#020207"/><stop offset="0.722" stop-color="#020207"/><stop offset="0.778" stop-color="#020207"/><stop offset="0.833" stop-color="#020207"/><stop offset="0.889" stop-color="#020207"/><stop offset="0.944" stop-color="#020207"/><stop offset="1.000" stop-color="#020207"/></radialGradient><radialGradient id="g38" gradientUnits="userSpaceOnUse" cx="142.85" cy="200.42" r="25.60"><stop offset="0.000" stop-color="#150a70"/><stop offset="0.056" stop-color="#150a6e"/><stop offset="0.111" stop-color="#130968"/><stop offset="0.167" stop-color="#11085e"/><stop offset="0.222" stop-color="#0e0750"/><stop offset="0.278" stop-color="#0a053f"/><stop offset="0.333" stop-color="#07042d"/><stop offset="0.389" stop-color="#04031a"/><stop offset="0.444" stop-color="#020208"/><stop offset="0.500" stop-color="#020208"/><stop offset="0.556" stop-color="#020208"/><stop offset="0.611" stop-color="#020207"/><stop offset="0.667" stop-color="#020207"/><stop offset="0.722" stop-color="#020207"/><stop offset="0.778" stop-color="#020207"/><stop offset="0.833" stop-color="#020207"/><stop offset="0.889" stop-color="#020207"/><stop offset="0.944" stop-color="#020207"/><stop offset="1.000" stop-color="#020207"/></radialGradient><radialGradient id="g39" gradientUnits="userSpaceOnUse" cx="142.85" cy="200.42" r="13.76" gradientTransform="translate(142.85 200.42) scale(1.1 1) translate(-142.85 -200.42)"><stop offset="0.000" stop-color="#e8bf36"/><stop offset="0.056" stop-color="#e8b735"/><stop offset="0.111" stop-color="#e8a332"/><stop offset="0.167" stop-color="#ea8c2c"/><stop offset="0.222" stop-color="#ea7529"/><stop offset="0.278" stop-color="#e75122"/><stop offset="0.333" stop-color="#d33166"/><stop offset="0.389" stop-color="#c32da1"/><stop offset="0.444" stop-color="#a825b0"/><stop offset="0.500" stop-color="#8020b0"/><stop offset="0.556" stop-color="#5113a8"/><stop offset="0.611" stop-color="#3710a7"/><stop offset="0.667" stop-color="#200e95" stop-opacity="0.71"/><stop offset="0.722" stop-color="#140a6b" stop-opacity="0.48"/><stop offset="0.778" stop-color="#0c0647" stop-opacity="0.31"/><stop offset="0.833" stop-color="#060429" stop-opacity="0.20"/><stop offset="0.889" stop-color="#030210" stop-opacity="0.12"/><stop offset="0.944" stop-color="#020208" stop-opacity="0.07"/><stop offset="1.000" stop-color="#020208" stop-opacity="0.04"/></radialGradient><radialGradient id="g40" gradientUnits="userSpaceOnUse" cx="191.09" cy="199.96" r="25.60"><stop offset="0.000" stop-color="#150a70"/><stop offset="0.056" stop-color="#150a6e"/><stop offset="0.111" stop-color="#130968"/><stop offset="0.167" stop-color="#11085e"/><stop offset="0.222" stop-color="#0e0750"/><stop offset="0.278" stop-color="#0a053f"/><stop offset="0.333" stop-color="#07042d"/><stop offset="0.389" stop-color="#04031a"/><stop offset="0.444" stop-color="#020208"/><stop offset="0.500" stop-color="#020208"/><stop offset="0.556" stop-color="#020208"/><stop offset="0.611" stop-color="#020207"/><stop offset="0.667" stop-color="#020207"/><stop offset="0.722" stop-color="#020207"/><stop offset="0.778" stop-color="#020207"/><stop offset="0.833" stop-color="#020207"/><stop offset="0.889" stop-color="#020207"/><stop offset="0.944" stop-color="#020207"/><stop offset="1.000" stop-color="#020207"/></radialGradient><radialGradient id="g41" gradientUnits="userSpaceOnUse" cx="191.09" cy="199.96" r="14.40" gradientTransform="translate(191.09 199.96) scale(1.12 1) translate(-191.09 -199.96)"><stop offset="0.000" stop-color="#edf174"/><stop offset="0.056" stop-color="#ecef5b"/><stop offset="0.111" stop-color="#ece53c"/><stop offset="0.167" stop-color="#e8c036"/><stop offset="0.222" stop-color="#e9942e"/><stop offset="0.278" stop-color="#ea7429"/><stop offset="0.333" stop-color="#e54822"/><stop offset="0.389" stop-color="#ce3084"/><stop offset="0.444" stop-color="#b929ae"/><stop offset="0.500" stop-color="#9321b0"/><stop offset="0.556" stop-color="#6319a9"/><stop offset="0.611" stop-color="#3c0ea8"/><stop offset="0.667" stop-color="#250e99" stop-opacity="0.82"/><stop offset="0.722" stop-color="#160a71" stop-opacity="0.55"/><stop offset="0.778" stop-color="#0d064a" stop-opacity="0.36"/><stop offset="0.833" stop-color="#060429" stop-opacity="0.23"/><stop offset="0.889" stop-color="#02020c" stop-opacity="0.14"/><stop offset="0.944" stop-color="#020208" stop-opacity="0.08"/><stop offset="1.000" stop-color="#020208" stop-opacity="0.05"/></radialGradient><radialGradient id="g42" gradientUnits="userSpaceOnUse" cx="239.34" cy="199.96" r="25.60"><stop offset="0.000" stop-color="#150a70"/><stop offset="0.056" stop-color="#150a6e"/><stop offset="0.111" stop-color="#130968"/><stop offset="0.167" stop-color="#11085e"/><stop offset="0.222" stop-color="#0e0750"/><stop offset="0.278" stop-color="#0a053f"/><stop offset="0.333" stop-color="#07042d"/><stop offset="0.389" stop-color="#04031a"/><stop offset="0.444" stop-color="#020208"/><stop offset="0.500" stop-color="#020208"/><stop offset="0.556" stop-color="#020208"/><stop offset="0.611" stop-color="#020207"/><stop offset="0.667" stop-color="#020207"/><stop offset="0.722" stop-color="#020207"/><stop offset="0.778" stop-color="#020207"/><stop offset="0.833" stop-color="#020207"/><stop offset="0.889" stop-color="#020207"/><stop offset="0.944" stop-color="#020207"/><stop offset="1.000" stop-color="#020207"/></radialGradient><radialGradient id="g43" gradientUnits="userSpaceOnUse" cx="239.34" cy="199.96" r="14.40" gradientTransform="translate(239.34 199.96) scale(1.12 1) translate(-239.34 -199.96)"><stop offset="0.000" stop-color="#f0f291"/><stop offset="0.056" stop-color="#edf16f"/><stop offset="0.111" stop-color="#ece942"/><stop offset="0.167" stop-color="#e8c737"/><stop offset="0.222" stop-color="#e8972f"/><stop offset="0.278" stop-color="#ea7729"/><stop offset="0.333" stop-color="#e54b22"/><stop offset="0.389" stop-color="#ce3080"/><stop offset="0.444" stop-color="#bb29ac"/><stop offset="0.500" stop-color="#9622b0"/><stop offset="0.556" stop-color="#6419a9"/><stop offset="0.611" stop-color="#3c0ea8"/><stop offset="0.667" stop-color="#250e9a" stop-opacity="0.83"/><stop offset="0.722" stop-color="#160a72" stop-opacity="0.56"/><stop offset="0.778" stop-color="#0d064b" stop-opacity="0.37"/><stop offset="0.833" stop-color="#060429" stop-opacity="0.23"/><stop offset="0.889" stop-color="#03020d" stop-opacity="0.14"/><stop offset="0.944" stop-color="#020208" stop-opacity="0.08"/><stop offset="1.000" stop-color="#020208" stop-opacity="0.05"/></radialGradient><radialGradient id="g44" gradientUnits="userSpaceOnUse" cx="288.95" cy="199.05" r="25.60"><stop offset="0.000" stop-color="#150a70"/><stop offset="0.056" stop-color="#150a6e"/><stop offset="0.111" stop-color="#130968"/><stop offset="0.167" stop-color="#11085e"/><stop offset="0.222" stop-color="#0e0750"/><stop offset="0.278" stop-color="#0a053f"/><stop offset="0.333" stop-color="#07042d"/><stop offset="0.389" stop-color="#04031a"/><stop offset="0.444" stop-color="#020208"/><stop offset="0.500" stop-color="#020208"/><stop offset="0.556" stop-color="#020208"/><stop offset="0.611" stop-color="#020207"/><stop offset="0.667" stop-color="#020207"/><stop offset="0.722" stop-color="#020207"/><stop offset="0.778" stop-color="#020207"/><stop offset="0.833" stop-color="#020207"/><stop offset="0.889" stop-color="#020207"/><stop offset="0.944" stop-color="#020207"/><stop offset="1.000" stop-color="#020207"/></radialGradient><radialGradient id="g45" gradientUnits="userSpaceOnUse" cx="288.95" cy="199.05" r="14.40" gradientTransform="translate(288.95 199.05) scale(1.12 1) translate(-288.95 -199.05)"><stop offset="0.000" stop-color="#f5f7c5"/><stop offset="0.056" stop-color="#f1f4a7"/><stop offset="0.111" stop-color="#ecee55"/><stop offset="0.167" stop-color="#e9d339"/><stop offset="0.222" stop-color="#e8a031"/><stop offset="0.278" stop-color="#ea7c2a"/><stop offset="0.333" stop-color="#e75222"/><stop offset="0.389" stop-color="#d03078"/><stop offset="0.444" stop-color="#bd2aa9"/><stop offset="0.500" stop-color="#9a22b0"/><stop offset="0.556" stop-color="#681aaa"/><stop offset="0.611" stop-color="#3d0da8"/><stop offset="0.667" stop-color="#270f9b" stop-opacity="0.86"/><stop offset="0.722" stop-color="#170b75" stop-opacity="0.58"/><stop offset="0.778" stop-color="#0d074c" stop-opacity="0.38"/><stop offset="0.833" stop-color="#07042a" stop-opacity="0.24"/><stop offset="0.889" stop-color="#03020e" stop-opacity="0.15"/><stop offset="0.944" stop-color="#020208" stop-opacity="0.09"/><stop offset="1.000" stop-color="#020208" stop-opacity="0.05"/></radialGradient><radialGradient id="g46" gradientUnits="userSpaceOnUse" cx="337.65" cy="199.05" r="25.60"><stop offset="0.000" stop-color="#150a70"/><stop offset="0.056" stop-color="#150a6e"/><stop offset="0.111" stop-color="#130968"/><stop offset="0.167" stop-color="#11085e"/><stop offset="0.222" stop-color="#0e0750"/><stop offset="0.278" stop-color="#0a053f"/><stop offset="0.333" stop-color="#07042d"/><stop offset="0.389" stop-color="#04031a"/><stop offset="0.444" stop-color="#020208"/><stop offset="0.500" stop-color="#020208"/><stop offset="0.556" stop-color="#020208"/><stop offset="0.611" stop-color="#020207"/><stop offset="0.667" stop-color="#020207"/><stop offset="0.722" stop-color="#020207"/><stop offset="0.778" stop-color="#020207"/><stop offset="0.833" stop-color="#020207"/><stop offset="0.889" stop-color="#020207"/><stop offset="0.944" stop-color="#020207"/><stop offset="1.000" stop-color="#020207"/></radialGradient><radialGradient id="g47" gradientUnits="userSpaceOnUse" cx="337.65" cy="199.05" r="14.40" gradientTransform="translate(337.65 199.05) scale(1.12 1) translate(-337.65 -199.05)"><stop offset="0.000" stop-color="#f5f7c5"/><stop offset="0.056" stop-color="#f1f4a7"/><stop offset="0.111" stop-color="#ecee55"/><stop offset="0.167" stop-color="#e9d339"/><stop offset="0.222" stop-color="#e8a031"/><stop offset="0.278" stop-color="#ea7c2a"/><stop offset="0.333" stop-color="#e75222"/><stop offset="0.389" stop-color="#d03078"/><stop offset="0.444" stop-color="#bd2aa9"/><stop offset="0.500" stop-color="#9a22b0"/><stop offset="0.556" stop-color="#681aaa"/><stop offset="0.611" stop-color="#3d0da8"/><stop offset="0.667" stop-color="#270f9b" stop-opacity="0.86"/><stop offset="0.722" stop-color="#170b75" stop-opacity="0.58"/><stop offset="0.778" stop-color="#0d074c" stop-opacity="0.38"/><stop offset="0.833" stop-color="#07042a" stop-opacity="0.24"/><stop offset="0.889" stop-color="#03020e" stop-opacity="0.15"/><stop offset="0.944" stop-color="#020208" stop-opacity="0.09"/><stop offset="1.000" stop-color="#020208" stop-opacity="0.05"/></radialGradient><radialGradient id="g48" gradientUnits="userSpaceOnUse" cx="386.35" cy="199.96" r="25.60"><stop offset="0.000" stop-color="#150a70"/><stop offset="0.056" stop-color="#150a6e"/><stop offset="0.111" stop-color="#130968"/><stop offset="0.167" stop-color="#11085e"/><stop offset="0.222" stop-color="#0e0750"/><stop offset="0.278" stop-color="#0a053f"/><stop offset="0.333" stop-color="#07042d"/><stop offset="0.389" stop-color="#04031a"/><stop offset="0.444" stop-color="#020208"/><stop offset="0.500" stop-color="#020208"/><stop offset="0.556" stop-color="#020208"/><stop offset="0.611" stop-color="#020207"/><stop offset="0.667" stop-color="#020207"/><stop offset="0.722" stop-color="#020207"/><stop offset="0.778" stop-color="#020207"/><stop offset="0.833" stop-color="#020207"/><stop offset="0.889" stop-color="#020207"/><stop offset="0.944" stop-color="#020207"/><stop offset="1.000" stop-color="#020207"/></radialGradient><radialGradient id="g49" gradientUnits="userSpaceOnUse" cx="386.35" cy="199.96" r="14.40" gradientTransform="translate(386.35 199.96) scale(1.12 1) translate(-386.35 -199.96)"><stop offset="0.000" stop-color="#f0f291"/><stop offset="0.056" stop-color="#edf16f"/><stop offset="0.111" stop-color="#ece942"/><stop offset="0.167" stop-color="#e8c737"/><stop offset="0.222" stop-color="#e8972f"/><stop offset="0.278" stop-color="#ea7729"/><stop offset="0.333" stop-color="#e54b22"/><stop offset="0.389" stop-color="#ce3080"/><stop offset="0.444" stop-color="#bb29ac"/><stop offset="0.500" stop-color="#9622b0"/><stop offset="0.556" stop-color="#6419a9"/><stop offset="0.611" stop-color="#3c0ea8"/><stop offset="0.667" stop-color="#250e9a" stop-opacity="0.83"/><stop offset="0.722" stop-color="#160a72" stop-opacity="0.56"/><stop offset="0.778" stop-color="#0d064b" stop-opacity="0.37"/><stop offset="0.833" stop-color="#060429" stop-opacity="0.23"/><stop offset="0.889" stop-color="#03020d" stop-opacity="0.14"/><stop offset="0.944" stop-color="#020208" stop-opacity="0.08"/><stop offset="1.000" stop-color="#020208" stop-opacity="0.05"/></radialGradient><radialGradient id="g50" gradientUnits="userSpaceOnUse" cx="93.24" cy="247.29" r="26.40"><stop offset="0.000" stop-color="#130968"/><stop offset="0.056" stop-color="#130968"/><stop offset="0.111" stop-color="#130967"/><stop offset="0.167" stop-color="#130966"/><stop offset="0.222" stop-color="#120964"/><stop offset="0.278" stop-color="#110860"/><stop offset="0.333" stop-color="#10085c"/><stop offset="0.389" stop-color="#0f0754"/><stop offset="0.444" stop-color="#0d074c"/><stop offset="0.500" stop-color="#0b0642"/><stop offset="0.556" stop-color="#090539"/><stop offset="0.611" stop-color="#080430"/><stop offset="0.667" stop-color="#060429"/><stop offset="0.722" stop-color="#050323"/><stop offset="0.778" stop-color="#04031d"/><stop offset="0.833" stop-color="#04031a"/><stop offset="0.889" stop-color="#040317"/><stop offset="0.944" stop-color="#040316"/><stop offset="1.000" stop-color="#040316"/></radialGradient><radialGradient id="g51" gradientUnits="userSpaceOnUse" cx="141.49" cy="249.12" r="25.60"><stop offset="0.000" stop-color="#390fa8"/><stop offset="0.056" stop-color="#3910a8"/><stop offset="0.111" stop-color="#3610a6"/><stop offset="0.167" stop-color="#310fa3"/><stop offset="0.222" stop-color="#2a0f9e"/><stop offset="0.278" stop-color="#230e98"/><stop offset="0.333" stop-color="#1d0d8b"/><stop offset="0.389" stop-color="#180b7a"/><stop offset="0.444" stop-color="#14096a"/><stop offset="0.500" stop-color="#10085c"/><stop offset="0.556" stop-color="#0d074d"/><stop offset="0.611" stop-color="#0b0641"/><stop offset="0.667" stop-color="#090537"/><stop offset="0.722" stop-color="#080430"/><stop offset="0.778" stop-color="#07042b"/><stop offset="0.833" stop-color="#060428"/><stop offset="0.889" stop-color="#060326"/><stop offset="0.944" stop-color="#050324"/><stop offset="1.000" stop-color="#050323"/></radialGradient><radialGradient id="g52" gradientUnits="userSpaceOnUse" cx="141.49" cy="249.12" r="10.24"><stop offset="0.000" stop-color="#d83444"/><stop offset="0.056" stop-color="#d7334c"/><stop offset="0.111" stop-color="#d43262"/><stop offset="0.167" stop-color="#cf3080"/><stop offset="0.222" stop-color="#c93097"/><stop offset="0.278" stop-color="#bf2ca6"/><stop offset="0.333" stop-color="#b127b0"/><stop offset="0.389" stop-color="#9f23b0"/><stop offset="0.444" stop-color="#8620b0"/><stop offset="0.500" stop-color="#6d1bab" stop-opacity="0.93"/><stop offset="0.556" stop-color="#5514a8" stop-opacity="0.69"/><stop offset="0.611" stop-color="#400ca8" stop-opacity="0.49"/><stop offset="0.667" stop-color="#390fa8" stop-opacity="0.34"/><stop offset="0.722" stop-color="#300fa2" stop-opacity="0.23"/><stop offset="0.778" stop-color="#280f9c" stop-opacity="0.15"/><stop offset="0.833" stop-color="#220e97" stop-opacity="0.10"/><stop offset="0.889" stop-color="#1e0d8d" stop-opacity="0.06"/><stop offset="0.944" stop-color="#1b0c83" stop-opacity="0.03"/><stop offset="1.000" stop-color="#180b7a" stop-opacity="0.02"/></radialGradient><radialGradient id="g53" gradientUnits="userSpaceOnUse" cx="191.55" cy="245.47" r="27.20"><stop offset="0.000" stop-color="#5514a8"/><stop offset="0.056" stop-color="#5313a8"/><stop offset="0.111" stop-color="#4d11a8"/><stop offset="0.167" stop-color="#430da8"/><stop offset="0.222" stop-color="#3c0ea8"/><stop offset="0.278" stop-color="#3610a7"/><stop offset="0.333" stop-color="#2b0f9f"/><stop offset="0.389" stop-color="#210e97"/><stop offset="0.444" stop-color="#1a0c82"/><stop offset="0.500" stop-color="#150a6e"/><stop offset="0.556" stop-color="#10085d"/><stop offset="0.611" stop-color="#0d074d"/><stop offset="0.667" stop-color="#0b0640"/><stop offset="0.722" stop-color="#090536"/><stop offset="0.778" stop-color="#07042f"/><stop offset="0.833" stop-color="#07042a"/><stop offset="0.889" stop-color="#060327"/><stop offset="0.944" stop-color="#060325"/><stop offset="1.000" stop-color="#050324"/></radialGradient><radialGradient id="g54" gradientUnits="userSpaceOnUse" cx="191.55" cy="245.47" r="11.52"><stop offset="0.000" stop-color="#ea7e2a"/><stop offset="0.056" stop-color="#ea7c2a"/><stop offset="0.111" stop-color="#ea7429"/><stop offset="0.167" stop-color="#e96525"/><stop offset="0.222" stop-color="#e64f22"/><stop offset="0.278" stop-color="#d83444"/><stop offset="0.333" stop-color="#ce3084"/><stop offset="0.389" stop-color="#c22da2"/><stop offset="0.444" stop-color="#b227b0"/><stop offset="0.500" stop-color="#9c22b0"/><stop offset="0.556" stop-color="#8120b0" stop-opacity="0.92"/><stop offset="0.611" stop-color="#671aaa" stop-opacity="0.66"/><stop offset="0.667" stop-color="#5012a8" stop-opacity="0.46"/><stop offset="0.722" stop-color="#3f0da8" stop-opacity="0.31"/><stop offset="0.778" stop-color="#3910a8" stop-opacity="0.20"/><stop offset="0.833" stop-color="#300fa2" stop-opacity="0.13"/><stop offset="0.889" stop-color="#280f9c" stop-opacity="0.08"/><stop offset="0.944" stop-color="#220e98" stop-opacity="0.05"/><stop offset="1.000" stop-color="#1e0d8e" stop-opacity="0.03"/></radialGradient><radialGradient id="g55" gradientUnits="userSpaceOnUse" cx="240.25" cy="246.38" r="27.20"><stop offset="0.000" stop-color="#5514a8"/><stop offset="0.056" stop-color="#5313a8"/><stop offset="0.111" stop-color="#4d11a8"/><stop offset="0.167" stop-color="#430da8"/><stop offset="0.222" stop-color="#3c0ea8"/><stop offset="0.278" stop-color="#3610a7"/><stop offset="0.333" stop-color="#2b0f9f"/><stop offset="0.389" stop-color="#210e97"/><stop offset="0.444" stop-color="#1a0c82"/><stop offset="0.500" stop-color="#150a6e"/><stop offset="0.556" stop-color="#10085d"/><stop offset="0.611" stop-color="#0d074d"/><stop offset="0.667" stop-color="#0b0640"/><stop offset="0.722" stop-color="#090536"/><stop offset="0.778" stop-color="#07042f"/><stop offset="0.833" stop-color="#07042a"/><stop offset="0.889" stop-color="#060327"/><stop offset="0.944" stop-color="#060325"/><stop offset="1.000" stop-color="#050324"/></radialGradient><radialGradient id="g56" gradientUnits="userSpaceOnUse" cx="240.25" cy="246.38" r="11.52"><stop offset="0.000" stop-color="#ea7e2a"/><stop offset="0.056" stop-color="#ea7c2a"/><stop offset="0.111" stop-color="#ea7429"/><stop offset="0.167" stop-color="#e96525"/><stop offset="0.222" stop-color="#e64f22"/><stop offset="0.278" stop-color="#d83444"/><stop offset="0.333" stop-color="#ce3084"/><stop offset="0.389" stop-color="#c22da2"/><stop offset="0.444" stop-color="#b227b0"/><stop offset="0.500" stop-color="#9c22b0"/><stop offset="0.556" stop-color="#8120b0" stop-opacity="0.92"/><stop offset="0.611" stop-color="#671aaa" stop-opacity="0.66"/><stop offset="0.667" stop-color="#5012a8" stop-opacity="0.46"/><stop offset="0.722" stop-color="#3f0da8" stop-opacity="0.31"/><stop offset="0.778" stop-color="#3910a8" stop-opacity="0.20"/><stop offset="0.833" stop-color="#300fa2" stop-opacity="0.13"/><stop offset="0.889" stop-color="#280f9c" stop-opacity="0.08"/><stop offset="0.944" stop-color="#220e98" stop-opacity="0.05"/><stop offset="1.000" stop-color="#1e0d8e" stop-opacity="0.03"/></radialGradient><radialGradient id="g57" gradientUnits="userSpaceOnUse" cx="288.04" cy="245.47" r="27.20"><stop offset="0.000" stop-color="#5514a8"/><stop offset="0.056" stop-color="#5313a8"/><stop offset="0.111" stop-color="#4d11a8"/><stop offset="0.167" stop-color="#430da8"/><stop offset="0.222" stop-color="#3c0ea8"/><stop offset="0.278" stop-color="#3610a7"/><stop offset="0.333" stop-color="#2b0f9f"/><stop offset="0.389" stop-color="#210e97"/><stop offset="0.444" stop-color="#1a0c82"/><stop offset="0.500" stop-color="#150a6e"/><stop offset="0.556" stop-color="#10085d"/><stop offset="0.611" stop-color="#0d074d"/><stop offset="0.667" stop-color="#0b0640"/><stop offset="0.722" stop-color="#090536"/><stop offset="0.778" stop-color="#07042f"/><stop offset="0.833" stop-color="#07042a"/><stop offset="0.889" stop-color="#060327"/><stop offset="0.944" stop-color="#060325"/><stop offset="1.000" stop-color="#050324"/></radialGradient><radialGradient id="g58" gradientUnits="userSpaceOnUse" cx="288.04" cy="245.47" r="11.52"><stop offset="0.000" stop-color="#ea7e2a"/><stop offset="0.056" stop-color="#ea7c2a"/><stop offset="0.111" stop-color="#ea7429"/><stop offset="0.167" stop-color="#e96525"/><stop offset="0.222" stop-color="#e64f22"/><stop offset="0.278" stop-color="#d83444"/><stop offset="0.333" stop-color="#ce3084"/><stop offset="0.389" stop-color="#c22da2"/><stop offset="0.444" stop-color="#b227b0"/><stop offset="0.500" stop-color="#9c22b0"/><stop offset="0.556" stop-color="#8120b0" stop-opacity="0.92"/><stop offset="0.611" stop-color="#671aaa" stop-opacity="0.66"/><stop offset="0.667" stop-color="#5012a8" stop-opacity="0.46"/><stop offset="0.722" stop-color="#3f0da8" stop-opacity="0.31"/><stop offset="0.778" stop-color="#3910a8" stop-opacity="0.20"/><stop offset="0.833" stop-color="#300fa2" stop-opacity="0.13"/><stop offset="0.889" stop-color="#280f9c" stop-opacity="0.08"/><stop offset="0.944" stop-color="#220e98" stop-opacity="0.05"/><stop offset="1.000" stop-color="#1e0d8e" stop-opacity="0.03"/></radialGradient><radialGradient id="g59" gradientUnits="userSpaceOnUse" cx="335.83" cy="243.66" r="27.20"><stop offset="0.000" stop-color="#5514a8"/><stop offset="0.056" stop-color="#5313a8"/><stop offset="0.111" stop-color="#4d11a8"/><stop offset="0.167" stop-color="#430da8"/><stop offset="0.222" stop-color="#3c0ea8"/><stop offset="0.278" stop-color="#3610a7"/><stop offset="0.333" stop-color="#2b0f9f"/><stop offset="0.389" stop-color="#210e97"/><stop offset="0.444" stop-color="#1a0c82"/><stop offset="0.500" stop-color="#150a6e"/><stop offset="0.556" stop-color="#10085d"/><stop offset="0.611" stop-color="#0d074d"/><stop offset="0.667" stop-color="#0b0640"/><stop offset="0.722" stop-color="#090536"/><stop offset="0.778" stop-color="#07042f"/><stop offset="0.833" stop-color="#07042a"/><stop offset="0.889" stop-color="#060327"/><stop offset="0.944" stop-color="#060325"/><stop offset="1.000" stop-color="#050324"/></radialGradient><radialGradient id="g60" gradientUnits="userSpaceOnUse" cx="335.83" cy="243.66" r="11.52"><stop offset="0.000" stop-color="#ea7e2a"/><stop offset="0.056" stop-color="#ea7c2a"/><stop offset="0.111" stop-color="#ea7429"/><stop offset="0.167" stop-color="#e96525"/><stop offset="0.222" stop-color="#e64f22"/><stop offset="0.278" stop-color="#d83444"/><stop offset="0.333" stop-color="#ce3084"/><stop offset="0.389" stop-color="#c22da2"/><stop offset="0.444" stop-color="#b227b0"/><stop offset="0.500" stop-color="#9c22b0"/><stop offset="0.556" stop-color="#8120b0" stop-opacity="0.92"/><stop offset="0.611" stop-color="#671aaa" stop-opacity="0.66"/><stop offset="0.667" stop-color="#5012a8" stop-opacity="0.46"/><stop offset="0.722" stop-color="#3f0da8" stop-opacity="0.31"/><stop offset="0.778" stop-color="#3910a8" stop-opacity="0.20"/><stop offset="0.833" stop-color="#300fa2" stop-opacity="0.13"/><stop offset="0.889" stop-color="#280f9c" stop-opacity="0.08"/><stop offset="0.944" stop-color="#220e98" stop-opacity="0.05"/><stop offset="1.000" stop-color="#1e0d8e" stop-opacity="0.03"/></radialGradient><radialGradient id="g61" gradientUnits="userSpaceOnUse" cx="385.90" cy="244.56" r="28.80"><stop offset="0.000" stop-color="#5f18a8"/><stop offset="0.056" stop-color="#5d17a8"/><stop offset="0.111" stop-color="#5614a8"/><stop offset="0.167" stop-color="#4c10a8"/><stop offset="0.222" stop-color="#3f0ca8"/><stop offset="0.278" stop-color="#3a0fa8"/><stop offset="0.333" stop-color="#2f0fa2"/><stop offset="0.389" stop-color="#240e99"/><stop offset="0.444" stop-color="#1c0d88"/><stop offset="0.500" stop-color="#160a73"/><stop offset="0.556" stop-color="#110861"/><stop offset="0.611" stop-color="#0e0750"/><stop offset="0.667" stop-color="#0b0642"/><stop offset="0.722" stop-color="#090538"/><stop offset="0.778" stop-color="#080430"/><stop offset="0.833" stop-color="#07042b"/><stop offset="0.889" stop-color="#060327"/><stop offset="0.944" stop-color="#060325"/><stop offset="1.000" stop-color="#050324"/></radialGradient><radialGradient id="g62" gradientUnits="userSpaceOnUse" cx="385.90" cy="244.56" r="13.44"><stop offset="0.000" stop-color="#ea8a2c"/><stop offset="0.056" stop-color="#ea882b"/><stop offset="0.111" stop-color="#ea7f2a"/><stop offset="0.167" stop-color="#ea7228"/><stop offset="0.222" stop-color="#e85d23"/><stop offset="0.278" stop-color="#e1402a"/><stop offset="0.333" stop-color="#d13172"/><stop offset="0.389" stop-color="#c72f9c"/><stop offset="0.444" stop-color="#b828b0"/><stop offset="0.500" stop-color="#a123b0"/><stop offset="0.556" stop-color="#8520b0" stop-opacity="0.96"/><stop offset="0.611" stop-color="#691aaa" stop-opacity="0.69"/><stop offset="0.667" stop-color="#5012a8" stop-opacity="0.48"/><stop offset="0.722" stop-color="#3e0da8" stop-opacity="0.32"/><stop offset="0.778" stop-color="#3710a7" stop-opacity="0.21"/><stop offset="0.833" stop-color="#2d0fa0" stop-opacity="0.13"/><stop offset="0.889" stop-color="#250e99" stop-opacity="0.08"/><stop offset="0.944" stop-color="#1f0d91" stop-opacity="0.05"/><stop offset="1.000" stop-color="#1b0c83" stop-opacity="0.03"/></radialGradient><radialGradient id="g63" gradientUnits="userSpaceOnUse" cx="94.15" cy="298.72" r="26.40"><stop offset="0.000" stop-color="#020208"/><stop offset="0.056" stop-color="#020208"/><stop offset="0.111" stop-color="#020208"/><stop offset="0.167" stop-color="#020208"/><stop offset="0.222" stop-color="#020208"/><stop offset="0.278" stop-color="#020208"/><stop offset="0.333" stop-color="#020208"/><stop offset="0.389" stop-color="#020208"/><stop offset="0.444" stop-color="#020208"/><stop offset="0.500" stop-color="#020207"/><stop offset="0.556" stop-color="#020207"/><stop offset="0.611" stop-color="#020207"/><stop offset="0.667" stop-color="#020207"/><stop offset="0.722" stop-color="#020207"/><stop offset="0.778" stop-color="#020207"/><stop offset="0.833" stop-color="#020207"/><stop offset="0.889" stop-color="#020207"/><stop offset="0.944" stop-color="#020207"/><stop offset="1.000" stop-color="#020207"/></radialGradient><radialGradient id="g64" gradientUnits="userSpaceOnUse" cx="90.97" cy="299.63" r="11.20"><stop offset="0.000" stop-color="#6419a9"/><stop offset="0.056" stop-color="#6118a8"/><stop offset="0.111" stop-color="#5a16a8"/><stop offset="0.167" stop-color="#4e11a8"/><stop offset="0.222" stop-color="#400ca8"/><stop offset="0.278" stop-color="#3910a8"/><stop offset="0.333" stop-color="#2c0f9f"/><stop offset="0.389" stop-color="#200e95" stop-opacity="0.87"/><stop offset="0.444" stop-color="#180b79" stop-opacity="0.69"/><stop offset="0.500" stop-color="#110861" stop-opacity="0.53"/><stop offset="0.556" stop-color="#0c0648" stop-opacity="0.39"/><stop offset="0.611" stop-color="#080432" stop-opacity="0.28"/><stop offset="0.667" stop-color="#050320" stop-opacity="0.19"/><stop offset="0.722" stop-color="#030210" stop-opacity="0.13"/><stop offset="0.778" stop-color="#020208" stop-opacity="0.09"/><stop offset="0.833" stop-color="#020208" stop-opacity="0.05"/><stop offset="0.889" stop-color="#020208" stop-opacity="0.03"/><stop offset="0.944" stop-color="#020208" stop-opacity="0.02"/><stop offset="1.000" stop-color="#020208" stop-opacity="0.01"/></radialGradient><radialGradient id="g65" gradientUnits="userSpaceOnUse" cx="141.94" cy="299.18" r="20.80"><stop offset="0.000" stop-color="#5514a8"/><stop offset="0.056" stop-color="#5313a8"/><stop offset="0.111" stop-color="#4b10a8"/><stop offset="0.167" stop-color="#3f0ca8"/><stop offset="0.222" stop-color="#390fa8"/><stop offset="0.278" stop-color="#2d0fa0"/><stop offset="0.333" stop-color="#200e94"/><stop offset="0.389" stop-color="#170b75"/><stop offset="0.444" stop-color="#0f0857"/><stop offset="0.500" stop-color="#090537"/><stop offset="0.556" stop-color="#04031a"/><stop offset="0.611" stop-color="#020208"/><stop offset="0.667" stop-color="#020208"/><stop offset="0.722" stop-color="#020207"/><stop offset="0.778" stop-color="#020207"/><stop offset="0.833" stop-color="#020207"/><stop offset="0.889" stop-color="#020207"/><stop offset="0.944" stop-color="#020207"/><stop offset="1.000" stop-color="#020207"/></radialGradient><radialGradient id="g66" gradientUnits="userSpaceOnUse" cx="141.94" cy="299.18" r="11.52"><stop offset="0.000" stop-color="#e9932e"/><stop offset="0.056" stop-color="#e9902d"/><stop offset="0.111" stop-color="#ea862b"/><stop offset="0.167" stop-color="#ea7729"/><stop offset="0.222" stop-color="#e96124"/><stop offset="0.278" stop-color="#e24128"/><stop offset="0.333" stop-color="#d03079"/><stop offset="0.389" stop-color="#c32ea1"/><stop offset="0.444" stop-color="#ae26b0"/><stop offset="0.500" stop-color="#9021b0"/><stop offset="0.556" stop-color="#6b1bab"/><stop offset="0.611" stop-color="#480fa8" stop-opacity="0.74"/><stop offset="0.667" stop-color="#3710a7" stop-opacity="0.51"/><stop offset="0.722" stop-color="#250e9a" stop-opacity="0.35"/><stop offset="0.778" stop-color="#1a0c80" stop-opacity="0.23"/><stop offset="0.833" stop-color="#120965" stop-opacity="0.14"/><stop offset="0.889" stop-color="#0d074b" stop-opacity="0.09"/><stop offset="0.944" stop-color="#090535" stop-opacity="0.05"/><stop offset="1.000" stop-color="#050322" stop-opacity="0.03"/></radialGradient><radialGradient id="g67" gradientUnits="userSpaceOnUse" cx="189.28" cy="295.08" r="20.80"><stop offset="0.000" stop-color="#5514a8"/><stop offset="0.056" stop-color="#5313a8"/><stop offset="0.111" stop-color="#4b10a8"/><stop offset="0.167" stop-color="#3f0ca8"/><stop offset="0.222" stop-color="#390fa8"/><stop offset="0.278" stop-color="#2d0fa0"/><stop offset="0.333" stop-color="#200e94"/><stop offset="0.389" stop-color="#170b75"/><stop offset="0.444" stop-color="#0f0857"/><stop offset="0.500" stop-color="#090537"/><stop offset="0.556" stop-color="#04031a"/><stop offset="0.611" stop-color="#020208"/><stop offset="0.667" stop-color="#020208"/><stop offset="0.722" stop-color="#020207"/><stop offset="0.778" stop-color="#020207"/><stop offset="0.833" stop-color="#020207"/><stop offset="0.889" stop-color="#020207"/><stop offset="0.944" stop-color="#020207"/><stop offset="1.000" stop-color="#020207"/></radialGradient><radialGradient id="g68" gradientUnits="userSpaceOnUse" cx="189.28" cy="295.08" r="12.16"><stop offset="0.000" stop-color="#e8af34"/><stop offset="0.056" stop-color="#e8aa33"/><stop offset="0.111" stop-color="#e89a30"/><stop offset="0.167" stop-color="#ea882b"/><stop offset="0.222" stop-color="#ea7429"/><stop offset="0.278" stop-color="#e75522"/><stop offset="0.333" stop-color="#d63351"/><stop offset="0.389" stop-color="#c93097"/><stop offset="0.444" stop-color="#b628b0"/><stop offset="0.500" stop-color="#9722b0"/><stop offset="0.556" stop-color="#6f1cac"/><stop offset="0.611" stop-color="#490fa8" stop-opacity="0.82"/><stop offset="0.667" stop-color="#3610a6" stop-opacity="0.57"/><stop offset="0.722" stop-color="#230e98" stop-opacity="0.38"/><stop offset="0.778" stop-color="#180b78" stop-opacity="0.25"/><stop offset="0.833" stop-color="#10085b" stop-opacity="0.16"/><stop offset="0.889" stop-color="#0a053f" stop-opacity="0.10"/><stop offset="0.944" stop-color="#060428" stop-opacity="0.06"/><stop offset="1.000" stop-color="#030213" stop-opacity="0.03"/></radialGradient><radialGradient id="g69" gradientUnits="userSpaceOnUse" cx="239.34" cy="297.36" r="20.80"><stop offset="0.000" stop-color="#5514a8"/><stop offset="0.056" stop-color="#5313a8"/><stop offset="0.111" stop-color="#4b10a8"/><stop offset="0.167" stop-color="#3f0ca8"/><stop offset="0.222" stop-color="#390fa8"/><stop offset="0.278" stop-color="#2d0fa0"/><stop offset="0.333" stop-color="#200e94"/><stop offset="0.389" stop-color="#170b75"/><stop offset="0.444" stop-color="#0f0857"/><stop offset="0.500" stop-color="#090537"/><stop offset="0.556" stop-color="#04031a"/><stop offset="0.611" stop-color="#020208"/><stop offset="0.667" stop-color="#020208"/><stop offset="0.722" stop-color="#020207"/><stop offset="0.778" stop-color="#020207"/><stop offset="0.833" stop-color="#020207"/><stop offset="0.889" stop-color="#020207"/><stop offset="0.944" stop-color="#020207"/><stop offset="1.000" stop-color="#020207"/></radialGradient><radialGradient id="g70" gradientUnits="userSpaceOnUse" cx="239.34" cy="297.36" r="12.16"><stop offset="0.000" stop-color="#e8af34"/><stop offset="0.056" stop-color="#e8aa33"/><stop offset="0.111" stop-color="#e89a30"/><stop offset="0.167" stop-color="#ea882b"/><stop offset="0.222" stop-color="#ea7429"/><stop offset="0.278" stop-color="#e75522"/><stop offset="0.333" stop-color="#d63351"/><stop offset="0.389" stop-color="#c93097"/><stop offset="0.444" stop-color="#b628b0"/><stop offset="0.500" stop-color="#9722b0"/><stop offset="0.556" stop-color="#6f1cac"/><stop offset="0.611" stop-color="#490fa8" stop-opacity="0.82"/><stop offset="0.667" stop-color="#3610a6" stop-opacity="0.57"/><stop offset="0.722" stop-color="#230e98" stop-opacity="0.38"/><stop offset="0.778" stop-color="#180b78" stop-opacity="0.25"/><stop offset="0.833" stop-color="#10085b" stop-opacity="0.16"/><stop offset="0.889" stop-color="#0a053f" stop-opacity="0.10"/><stop offset="0.944" stop-color="#060428" stop-opacity="0.06"/><stop offset="1.000" stop-color="#030213" stop-opacity="0.03"/></radialGradient><radialGradient id="g71" gradientUnits="userSpaceOnUse" cx="286.68" cy="296.45" r="20.80"><stop offset="0.000" stop-color="#5514a8"/><stop offset="0.056" stop-color="#5313a8"/><stop offset="0.111" stop-color="#4b10a8"/><stop offset="0.167" stop-color="#3f0ca8"/><stop offset="0.222" stop-color="#390fa8"/><stop offset="0.278" stop-color="#2d0fa0"/><stop offset="0.333" stop-color="#200e94"/><stop offset="0.389" stop-color="#170b75"/><stop offset="0.444" stop-color="#0f0857"/><stop offset="0.500" stop-color="#090537"/><stop offset="0.556" stop-color="#04031a"/><stop offset="0.611" stop-color="#020208"/><stop offset="0.667" stop-color="#020208"/><stop offset="0.722" stop-color="#020207"/><stop offset="0.778" stop-color="#020207"/><stop offset="0.833" stop-color="#020207"/><stop offset="0.889" stop-color="#020207"/><stop offset="0.944" stop-color="#020207"/><stop offset="1.000" stop-color="#020207"/></radialGradient><radialGradient id="g72" gradientUnits="userSpaceOnUse" cx="286.68" cy="296.45" r="12.16"><stop offset="0.000" stop-color="#e8c737"/><stop offset="0.056" stop-color="#e8c036"/><stop offset="0.111" stop-color="#e8ab33"/><stop offset="0.167" stop-color="#e9942e"/><stop offset="0.222" stop-color="#ea7d2a"/><stop offset="0.278" stop-color="#e96024"/><stop offset="0.333" stop-color="#dc393a"/><stop offset="0.389" stop-color="#cb308c"/><stop offset="0.444" stop-color="#ba29ad"/><stop offset="0.500" stop-color="#9d22b0"/><stop offset="0.556" stop-color="#751dad"/><stop offset="0.611" stop-color="#4e11a8" stop-opacity="0.87"/><stop offset="0.667" stop-color="#3810a8" stop-opacity="0.61"/><stop offset="0.722" stop-color="#240e99" stop-opacity="0.41"/><stop offset="0.778" stop-color="#180b7a" stop-opacity="0.27"/><stop offset="0.833" stop-color="#10085d" stop-opacity="0.17"/><stop offset="0.889" stop-color="#0b0640" stop-opacity="0.10"/><stop offset="0.944" stop-color="#060429" stop-opacity="0.06"/><stop offset="1.000" stop-color="#030214" stop-opacity="0.04"/></radialGradient><radialGradient id="g73" gradientUnits="userSpaceOnUse" cx="335.38" cy="299.18" r="20.80"><stop offset="0.000" stop-color="#5514a8"/><stop offset="0.056" stop-color="#5313a8"/><stop offset="0.111" stop-color="#4b10a8"/><stop offset="0.167" stop-color="#3f0ca8"/><stop offset="0.222" stop-color="#390fa8"/><stop offset="0.278" stop-color="#2d0fa0"/><stop offset="0.333" stop-color="#200e94"/><stop offset="0.389" stop-color="#170b75"/><stop offset="0.444" stop-color="#0f0857"/><stop offset="0.500" stop-color="#090537"/><stop offset="0.556" stop-color="#04031a"/><stop offset="0.611" stop-color="#020208"/><stop offset="0.667" stop-color="#020208"/><stop offset="0.722" stop-color="#020207"/><stop offset="0.778" stop-color="#020207"/><stop offset="0.833" stop-color="#020207"/><stop offset="0.889" stop-color="#020207"/><stop offset="0.944" stop-color="#020207"/><stop offset="1.000" stop-color="#020207"/></radialGradient><radialGradient id="g74" gradientUnits="userSpaceOnUse" cx="335.38" cy="299.18" r="12.80"><stop offset="0.000" stop-color="#eadc3a"/><stop offset="0.056" stop-color="#e9d539"/><stop offset="0.111" stop-color="#e8c036"/><stop offset="0.167" stop-color="#e8a031"/><stop offset="0.222" stop-color="#ea862b"/><stop offset="0.278" stop-color="#e96a26"/><stop offset="0.333" stop-color="#e24128"/><stop offset="0.389" stop-color="#cd3084"/><stop offset="0.444" stop-color="#bc2aaa"/><stop offset="0.500" stop-color="#9f23b0"/><stop offset="0.556" stop-color="#751dad"/><stop offset="0.611" stop-color="#4c10a8" stop-opacity="0.92"/><stop offset="0.667" stop-color="#3610a6" stop-opacity="0.64"/><stop offset="0.722" stop-color="#210e97" stop-opacity="0.43"/><stop offset="0.778" stop-color="#160a72" stop-opacity="0.28"/><stop offset="0.833" stop-color="#0e0751" stop-opacity="0.18"/><stop offset="0.889" stop-color="#080534" stop-opacity="0.11"/><stop offset="0.944" stop-color="#04031c" stop-opacity="0.06"/><stop offset="1.000" stop-color="#020208" stop-opacity="0.04"/></radialGradient><radialGradient id="g75" gradientUnits="userSpaceOnUse" cx="385.90" cy="297.81" r="20.80"><stop offset="0.000" stop-color="#5514a8"/><stop offset="0.056" stop-color="#5313a8"/><stop offset="0.111" stop-color="#4b10a8"/><stop offset="0.167" stop-color="#3f0ca8"/><stop offset="0.222" stop-color="#390fa8"/><stop offset="0.278" stop-color="#2d0fa0"/><stop offset="0.333" stop-color="#200e94"/><stop offset="0.389" stop-color="#170b75"/><stop offset="0.444" stop-color="#0f0857"/><stop offset="0.500" stop-color="#090537"/><stop offset="0.556" stop-color="#04031a"/><stop offset="0.611" stop-color="#020208"/><stop offset="0.667" stop-color="#020208"/><stop offset="0.722" stop-color="#020207"/><stop offset="0.778" stop-color="#020207"/><stop offset="0.833" stop-color="#020207"/><stop offset="0.889" stop-color="#020207"/><stop offset="0.944" stop-color="#020207"/><stop offset="1.000" stop-color="#020207"/></radialGradient><radialGradient id="g76" gradientUnits="userSpaceOnUse" cx="385.90" cy="297.81" r="12.16"><stop offset="0.000" stop-color="#f5f7c5"/><stop offset="0.056" stop-color="#f2f4aa"/><stop offset="0.111" stop-color="#ecee59"/><stop offset="0.167" stop-color="#ead93a"/><stop offset="0.222" stop-color="#e8a933"/><stop offset="0.278" stop-color="#ea842b"/><stop offset="0.333" stop-color="#e96124"/><stop offset="0.389" stop-color="#d73447"/><stop offset="0.444" stop-color="#c8309b"/><stop offset="0.500" stop-color="#af26b0"/><stop offset="0.556" stop-color="#8a21b0"/><stop offset="0.611" stop-color="#5f18a8"/><stop offset="0.667" stop-color="#3d0ea8" stop-opacity="0.74"/><stop offset="0.722" stop-color="#2a0f9e" stop-opacity="0.50"/><stop offset="0.778" stop-color="#1b0c83" stop-opacity="0.33"/><stop offset="0.833" stop-color="#120963" stop-opacity="0.21"/><stop offset="0.889" stop-color="#0b0644" stop-opacity="0.13"/><stop offset="0.944" stop-color="#07042b" stop-opacity="0.08"/><stop offset="1.000" stop-color="#040315" stop-opacity="0.04"/></radialGradient><radialGradient id="g77" gradientUnits="userSpaceOnUse" cx="96.43" cy="342.88" r="22.00"><stop offset="0.000" stop-color="#11085f"/><stop offset="0.056" stop-color="#11085f"/><stop offset="0.111" stop-color="#11085f"/><stop offset="0.167" stop-color="#10085e"/><stop offset="0.222" stop-color="#10085b"/><stop offset="0.278" stop-color="#0f0857"/><stop offset="0.333" stop-color="#0e0751"/><stop offset="0.389" stop-color="#0d064a"/><stop offset="0.444" stop-color="#0b0641"/><stop offset="0.500" stop-color="#090538"/><stop offset="0.556" stop-color="#07042f"/><stop offset="0.611" stop-color="#060326"/><stop offset="0.667" stop-color="#04031d"/><stop offset="0.722" stop-color="#040316"/><stop offset="0.778" stop-color="#030210"/><stop offset="0.833" stop-color="#03020d"/><stop offset="0.889" stop-color="#02020a"/><stop offset="0.944" stop-color="#020209"/><stop offset="1.000" stop-color="#020209"/></radialGradient><radialGradient id="g78" gradientUnits="userSpaceOnUse" cx="141.94" cy="345.61" r="22.40"><stop offset="0.000" stop-color="#3310a4"/><stop offset="0.056" stop-color="#320fa3"/><stop offset="0.111" stop-color="#2f0fa1"/><stop offset="0.167" stop-color="#2a0f9d"/><stop offset="0.222" stop-color="#230e98"/><stop offset="0.278" stop-color="#1d0d8d"/><stop offset="0.333" stop-color="#190b7b"/><stop offset="0.389" stop-color="#140969"/><stop offset="0.444" stop-color="#0f0859"/><stop offset="0.500" stop-color="#0c0647"/><stop offset="0.556" stop-color="#090538"/><stop offset="0.611" stop-color="#07042c"/><stop offset="0.667" stop-color="#050323"/><stop offset="0.722" stop-color="#04031a"/><stop offset="0.778" stop-color="#030214"/><stop offset="0.833" stop-color="#03020f"/><stop offset="0.889" stop-color="#03020d"/><stop offset="0.944" stop-color="#02020b"/><stop offset="1.000" stop-color="#02020a"/></radialGradient><radialGradient id="g79" gradientUnits="userSpaceOnUse" cx="141.94" cy="345.61" r="10.24" gradientTransform="translate(141.94 345.61) scale(1.1 1) translate(-141.94 -345.61)"><stop offset="0.000" stop-color="#e96926"/><stop offset="0.056" stop-color="#e96525"/><stop offset="0.111" stop-color="#e85b23"/><stop offset="0.167" stop-color="#e54822"/><stop offset="0.222" stop-color="#d7334c"/><stop offset="0.278" stop-color="#cd3085"/><stop offset="0.333" stop-color="#c22da3"/><stop offset="0.389" stop-color="#b026b0"/><stop offset="0.444" stop-color="#9622b0"/><stop offset="0.500" stop-color="#771eae"/><stop offset="0.556" stop-color="#5715a8" stop-opacity="0.92"/><stop offset="0.611" stop-color="#3e0da8" stop-opacity="0.66"/><stop offset="0.667" stop-color="#3310a4" stop-opacity="0.46"/><stop offset="0.722" stop-color="#260f9b" stop-opacity="0.31"/><stop offset="0.778" stop-color="#1d0d8c" stop-opacity="0.20"/><stop offset="0.833" stop-color="#180b79" stop-opacity="0.13"/><stop offset="0.889" stop-color="#14096a" stop-opacity="0.08"/><stop offset="0.944" stop-color="#10085e" stop-opacity="0.05"/><stop offset="1.000" stop-color="#0e0752" stop-opacity="0.03"/></radialGradient><radialGradient id="g80" gradientUnits="userSpaceOnUse" cx="191.55" cy="346.06" r="24.00"><stop offset="0.000" stop-color="#3d0ea8"/><stop offset="0.056" stop-color="#3c0ea8"/><stop offset="0.111" stop-color="#3a0fa8"/><stop offset="0.167" stop-color="#3610a6"/><stop offset="0.222" stop-color="#2e0fa1"/><stop offset="0.278" stop-color="#260e9a"/><stop offset="0.333" stop-color="#1e0d8e"/><stop offset="0.389" stop-color="#180b79"/><stop offset="0.444" stop-color="#130965"/><stop offset="0.500" stop-color="#0e0752"/><stop offset="0.556" stop-color="#0b0640"/><stop offset="0.611" stop-color="#080432"/><stop offset="0.667" stop-color="#060327"/><stop offset="0.722" stop-color="#04031e"/><stop offset="0.778" stop-color="#040316"/><stop offset="0.833" stop-color="#030211"/><stop offset="0.889" stop-color="#03020d"/><stop offset="0.944" stop-color="#02020b"/><stop offset="1.000" stop-color="#02020a"/></radialGradient><radialGradient id="g81" gradientUnits="userSpaceOnUse" cx="191.55" cy="346.06" r="12.16" gradientTransform="translate(191.55 346.06) scale(1.1 1) translate(-191.55 -346.06)"><stop offset="0.000" stop-color="#ea862b"/><stop offset="0.056" stop-color="#ea832b"/><stop offset="0.111" stop-color="#ea7b2a"/><stop offset="0.167" stop-color="#ea6c27"/><stop offset="0.222" stop-color="#e75322"/><stop offset="0.278" stop-color="#d83443"/><stop offset="0.333" stop-color="#cc3088"/><stop offset="0.389" stop-color="#be2ba7"/><stop offset="0.444" stop-color="#a825b0"/><stop offset="0.500" stop-color="#8a21b0"/><stop offset="0.556" stop-color="#681aaa"/><stop offset="0.611" stop-color="#480fa8" stop-opacity="0.74"/><stop offset="0.667" stop-color="#3910a8" stop-opacity="0.51"/><stop offset="0.722" stop-color="#2a0f9e" stop-opacity="0.35"/><stop offset="0.778" stop-color="#1f0e91" stop-opacity="0.23"/><stop offset="0.833" stop-color="#190b7b" stop-opacity="0.14"/><stop offset="0.889" stop-color="#140969" stop-opacity="0.09"/><stop offset="0.944" stop-color="#10085b" stop-opacity="0.05"/><stop offset="1.000" stop-color="#0d074d" stop-opacity="0.03"/></radialGradient><radialGradient id="g82" gradientUnits="userSpaceOnUse" cx="240.25" cy="347.43" r="24.00"><stop offset="0.000" stop-color="#3d0ea8"/><stop offset="0.056" stop-color="#3c0ea8"/><stop offset="0.111" stop-color="#3a0fa8"/><stop offset="0.167" stop-color="#3610a6"/><stop offset="0.222" stop-color="#2e0fa1"/><stop offset="0.278" stop-color="#260e9a"/><stop offset="0.333" stop-color="#1e0d8e"/><stop offset="0.389" stop-color="#180b79"/><stop offset="0.444" stop-color="#130965"/><stop offset="0.500" stop-color="#0e0752"/><stop offset="0.556" stop-color="#0b0640"/><stop offset="0.611" stop-color="#080432"/><stop offset="0.667" stop-color="#060327"/><stop offset="0.722" stop-color="#04031e"/><stop offset="0.778" stop-color="#040316"/><stop offset="0.833" stop-color="#030211"/><stop offset="0.889" stop-color="#03020d"/><stop offset="0.944" stop-color="#02020b"/><stop offset="1.000" stop-color="#02020a"/></radialGradient><radialGradient id="g83" gradientUnits="userSpaceOnUse" cx="240.25" cy="347.43" r="12.16" gradientTransform="translate(240.25 347.43) scale(1.1 1) translate(-240.25 -347.43)"><stop offset="0.000" stop-color="#ea862b"/><stop offset="0.056" stop-color="#ea832b"/><stop offset="0.111" stop-color="#ea7b2a"/><stop offset="0.167" stop-color="#ea6c27"/><stop offset="0.222" stop-color="#e75322"/><stop offset="0.278" stop-color="#d83443"/><stop offset="0.333" stop-color="#cc3088"/><stop offset="0.389" stop-color="#be2ba7"/><stop offset="0.444" stop-color="#a825b0"/><stop offset="0.500" stop-color="#8a21b0"/><stop offset="0.556" stop-color="#681aaa"/><stop offset="0.611" stop-color="#480fa8" stop-opacity="0.74"/><stop offset="0.667" stop-color="#3910a8" stop-opacity="0.51"/><stop offset="0.722" stop-color="#2a0f9e" stop-opacity="0.35"/><stop offset="0.778" stop-color="#1f0e91" stop-opacity="0.23"/><stop offset="0.833" stop-color="#190b7b" stop-opacity="0.14"/><stop offset="0.889" stop-color="#140969" stop-opacity="0.09"/><stop offset="0.944" stop-color="#10085b" stop-opacity="0.05"/><stop offset="1.000" stop-color="#0d074d" stop-opacity="0.03"/></radialGradient><radialGradient id="g84" gradientUnits="userSpaceOnUse" cx="288.95" cy="346.52" r="24.00"><stop offset="0.000" stop-color="#3d0ea8"/><stop offset="0.056" stop-color="#3c0ea8"/><stop offset="0.111" stop-color="#3a0fa8"/><stop offset="0.167" stop-color="#3610a6"/><stop offset="0.222" stop-color="#2e0fa1"/><stop offset="0.278" stop-color="#260e9a"/><stop offset="0.333" stop-color="#1e0d8e"/><stop offset="0.389" stop-color="#180b79"/><stop offset="0.444" stop-color="#130965"/><stop offset="0.500" stop-color="#0e0752"/><stop offset="0.556" stop-color="#0b0640"/><stop offset="0.611" stop-color="#080432"/><stop offset="0.667" stop-color="#060327"/><stop offset="0.722" stop-color="#04031e"/><stop offset="0.778" stop-color="#040316"/><stop offset="0.833" stop-color="#030211"/><stop offset="0.889" stop-color="#03020d"/><stop offset="0.944" stop-color="#02020b"/><stop offset="1.000" stop-color="#02020a"/></radialGradient><radialGradient id="g85" gradientUnits="userSpaceOnUse" cx="288.95" cy="346.52" r="12.16" gradientTransform="translate(288.95 346.52) scale(1.1 1) translate(-288.95 -346.52)"><stop offset="0.000" stop-color="#ea862b"/><stop offset="0.056" stop-color="#ea832b"/><stop offset="0.111" stop-color="#ea7b2a"/><stop offset="0.167" stop-color="#ea6c27"/><stop offset="0.222" stop-color="#e75322"/><stop offset="0.278" stop-color="#d83443"/><stop offset="0.333" stop-color="#cc3088"/><stop offset="0.389" stop-color="#be2ba7"/><stop offset="0.444" stop-color="#a825b0"/><stop offset="0.500" stop-color="#8a21b0"/><stop offset="0.556" stop-color="#681aaa"/><stop offset="0.611" stop-color="#480fa8" stop-opacity="0.74"/><stop offset="0.667" stop-color="#3910a8" stop-opacity="0.51"/><stop offset="0.722" stop-color="#2a0f9e" stop-opacity="0.35"/><stop offset="0.778" stop-color="#1f0e91" stop-opacity="0.23"/><stop offset="0.833" stop-color="#190b7b" stop-opacity="0.14"/><stop offset="0.889" stop-color="#140969" stop-opacity="0.09"/><stop offset="0.944" stop-color="#10085b" stop-opacity="0.05"/><stop offset="1.000" stop-color="#0d074d" stop-opacity="0.03"/></radialGradient><radialGradient id="g86" gradientUnits="userSpaceOnUse" cx="337.65" cy="345.15" r="24.00"><stop offset="0.000" stop-color="#3d0ea8"/><stop offset="0.056" stop-color="#3c0ea8"/><stop offset="0.111" stop-color="#3a0fa8"/><stop offset="0.167" stop-color="#3610a6"/><stop offset="0.222" stop-color="#2e0fa1"/><stop offset="0.278" stop-color="#260e9a"/><stop offset="0.333" stop-color="#1e0d8e"/><stop offset="0.389" stop-color="#180b79"/><stop offset="0.444" stop-color="#130965"/><stop offset="0.500" stop-color="#0e0752"/><stop offset="0.556" stop-color="#0b0640"/><stop offset="0.611" stop-color="#080432"/><stop offset="0.667" stop-color="#060327"/><stop offset="0.722" stop-color="#04031e"/><stop offset="0.778" stop-color="#040316"/><stop offset="0.833" stop-color="#030211"/><stop offset="0.889" stop-color="#03020d"/><stop offset="0.944" stop-color="#02020b"/><stop offset="1.000" stop-color="#02020a"/></radialGradient><radialGradient id="g87" gradientUnits="userSpaceOnUse" cx="337.65" cy="345.15" r="12.16" gradientTransform="translate(337.65 345.15) scale(1.1 1) translate(-337.65 -345.15)"><stop offset="0.000" stop-color="#ea862b"/><stop offset="0.056" stop-color="#ea832b"/><stop offset="0.111" stop-color="#ea7b2a"/><stop offset="0.167" stop-color="#ea6c27"/><stop offset="0.222" stop-color="#e75322"/><stop offset="0.278" stop-color="#d83443"/><stop offset="0.333" stop-color="#cc3088"/><stop offset="0.389" stop-color="#be2ba7"/><stop offset="0.444" stop-color="#a825b0"/><stop offset="0.500" stop-color="#8a21b0"/><stop offset="0.556" stop-color="#681aaa"/><stop offset="0.611" stop-color="#480fa8" stop-opacity="0.74"/><stop offset="0.667" stop-color="#3910a8" stop-opacity="0.51"/><stop offset="0.722" stop-color="#2a0f9e" stop-opacity="0.35"/><stop offset="0.778" stop-color="#1f0e91" stop-opacity="0.23"/><stop offset="0.833" stop-color="#190b7b" stop-opacity="0.14"/><stop offset="0.889" stop-color="#140969" stop-opacity="0.09"/><stop offset="0.944" stop-color="#10085b" stop-opacity="0.05"/><stop offset="1.000" stop-color="#0d074d" stop-opacity="0.03"/></radialGradient><radialGradient id="g88" gradientUnits="userSpaceOnUse" cx="386.35" cy="345.15" r="24.00"><stop offset="0.000" stop-color="#3d0ea8"/><stop offset="0.056" stop-color="#3c0ea8"/><stop offset="0.111" stop-color="#3a0fa8"/><stop offset="0.167" stop-color="#3610a6"/><stop offset="0.222" stop-color="#2e0fa1"/><stop offset="0.278" stop-color="#260e9a"/><stop offset="0.333" stop-color="#1e0d8e"/><stop offset="0.389" stop-color="#180b79"/><stop offset="0.444" stop-color="#130965"/><stop offset="0.500" stop-color="#0e0752"/><stop offset="0.556" stop-color="#0b0640"/><stop offset="0.611" stop-color="#080432"/><stop offset="0.667" stop-color="#060327"/><stop offset="0.722" stop-color="#04031e"/><stop offset="0.778" stop-color="#040316"/><stop offset="0.833" stop-color="#030211"/><stop offset="0.889" stop-color="#03020d"/><stop offset="0.944" stop-color="#02020b"/><stop offset="1.000" stop-color="#02020a"/></radialGradient><radialGradient id="g89" gradientUnits="userSpaceOnUse" cx="386.35" cy="345.15" r="12.16" gradientTransform="translate(386.35 345.15) scale(1.1 1) translate(-386.35 -345.15)"><stop offset="0.000" stop-color="#ea862b"/><stop offset="0.056" stop-color="#ea832b"/><stop offset="0.111" stop-color="#ea7b2a"/><stop offset="0.167" stop-color="#ea6c27"/><stop offset="0.222" stop-color="#e75322"/><stop offset="0.278" stop-color="#d83443"/><stop offset="0.333" stop-color="#cc3088"/><stop offset="0.389" stop-color="#be2ba7"/><stop offset="0.444" stop-color="#a825b0"/><stop offset="0.500" stop-color="#8a21b0"/><stop offset="0.556" stop-color="#681aaa"/><stop offset="0.611" stop-color="#480fa8" stop-opacity="0.74"/><stop offset="0.667" stop-color="#3910a8" stop-opacity="0.51"/><stop offset="0.722" stop-color="#2a0f9e" stop-opacity="0.35"/><stop offset="0.778" stop-color="#1f0e91" stop-opacity="0.23"/><stop offset="0.833" stop-color="#190b7b" stop-opacity="0.14"/><stop offset="0.889" stop-color="#140969" stop-opacity="0.09"/><stop offset="0.944" stop-color="#10085b" stop-opacity="0.05"/><stop offset="1.000" stop-color="#0d074d" stop-opacity="0.03"/></radialGradient><radialGradient id="g90" gradientUnits="userSpaceOnUse" cx="93.24" cy="392.94" r="7.68" gradientTransform="translate(93.24 392.94) scale(1.5 1) translate(-93.24 -392.94)"><stop offset="0.000" stop-color="#420da8"/><stop offset="0.056" stop-color="#400ca8"/><stop offset="0.111" stop-color="#3d0da8"/><stop offset="0.167" stop-color="#3910a8"/><stop offset="0.222" stop-color="#2f0fa1"/><stop offset="0.278" stop-color="#230e99"/><stop offset="0.333" stop-color="#1a0c81"/><stop offset="0.389" stop-color="#130966"/><stop offset="0.444" stop-color="#0c0648"/><stop offset="0.500" stop-color="#07042b"/><stop offset="0.556" stop-color="#030210"/><stop offset="0.611" stop-color="#020208"/><stop offset="0.667" stop-color="#020208"/><stop offset="0.722" stop-color="#020207"/><stop offset="0.778" stop-color="#020207"/><stop offset="0.833" stop-color="#020207"/><stop offset="0.889" stop-color="#020207"/><stop offset="0.944" stop-color="#020207"/><stop offset="1.000" stop-color="#020207"/></radialGradient><radialGradient id="g91" gradientUnits="userSpaceOnUse" cx="141.94" cy="396.12" r="19.20"><stop offset="0.000" stop-color="#2c0f9f"/><stop offset="0.056" stop-color="#2b0f9e"/><stop offset="0.111" stop-color="#270f9b"/><stop offset="0.167" stop-color="#210e97"/><stop offset="0.222" stop-color="#1c0c86"/><stop offset="0.278" stop-color="#160a71"/><stop offset="0.333" stop-color="#10085c"/><stop offset="0.389" stop-color="#0b0642"/><stop offset="0.444" stop-color="#06042a"/><stop offset="0.500" stop-color="#030211"/><stop offset="0.556" stop-color="#020208"/><stop offset="0.611" stop-color="#020208"/><stop offset="0.667" stop-color="#020207"/><stop offset="0.722" stop-color="#020207"/><stop offset="0.778" stop-color="#020207"/><stop offset="0.833" stop-color="#020207"/><stop offset="0.889" stop-color="#020207"/><stop offset="0.944" stop-color="#020207"/><stop offset="1.000" stop-color="#020207"/></radialGradient><radialGradient id="g92" gradientUnits="userSpaceOnUse" cx="141.94" cy="396.12" r="10.88" gradientTransform="translate(141.94 396.12) scale(1.2 1) translate(-141.94 -396.12)"><stop offset="0.000" stop-color="#ea8f2d"/><stop offset="0.056" stop-color="#ea8b2c"/><stop offset="0.111" stop-color="#ea812a"/><stop offset="0.167" stop-color="#ea7128"/><stop offset="0.222" stop-color="#e85722"/><stop offset="0.278" stop-color="#d83445"/><stop offset="0.333" stop-color="#cb308f"/><stop offset="0.389" stop-color="#ba29ad"/><stop offset="0.444" stop-color="#9c22b0"/><stop offset="0.500" stop-color="#731dad"/><stop offset="0.556" stop-color="#4910a8"/><stop offset="0.611" stop-color="#3410a5" stop-opacity="0.82"/><stop offset="0.667" stop-color="#1f0e93" stop-opacity="0.57"/><stop offset="0.722" stop-color="#140a6b" stop-opacity="0.38"/><stop offset="0.778" stop-color="#0c0649" stop-opacity="0.25"/><stop offset="0.833" stop-color="#07042b" stop-opacity="0.16"/><stop offset="0.889" stop-color="#030212" stop-opacity="0.10"/><stop offset="0.944" stop-color="#020208" stop-opacity="0.06"/><stop offset="1.000" stop-color="#020208" stop-opacity="0.03"/></radialGradient><radialGradient id="g93" gradientUnits="userSpaceOnUse" cx="189.73" cy="397.49" r="24.00"><stop offset="0.000" stop-color="#681aaa"/><stop offset="0.056" stop-color="#6519a9"/><stop offset="0.111" stop-color="#5d17a8"/><stop offset="0.167" stop-color="#4f12a8"/><stop offset="0.222" stop-color="#3f0da8"/><stop offset="0.278" stop-color="#3610a7"/><stop offset="0.333" stop-color="#270f9b"/><stop offset="0.389" stop-color="#1b0c84"/><stop offset="0.444" stop-color="#120964"/><stop offset="0.500" stop-color="#0b0642"/><stop offset="0.556" stop-color="#050324"/><stop offset="0.611" stop-color="#020208"/><stop offset="0.667" stop-color="#020208"/><stop offset="0.722" stop-color="#020208"/><stop offset="0.778" stop-color="#020207"/><stop offset="0.833" stop-color="#020207"/><stop offset="0.889" stop-color="#020207"/><stop offset="0.944" stop-color="#020207"/><stop offset="1.000" stop-color="#020207"/></radialGradient><radialGradient id="g94" gradientUnits="userSpaceOnUse" cx="189.73" cy="393.85" r="12.80" gradientTransform="translate(189.73 393.85) scale(1.3 1) translate(-189.73 -393.85)"><stop offset="0.000" stop-color="#eced50"/><stop offset="0.056" stop-color="#ecea46"/><stop offset="0.111" stop-color="#eada3a"/><stop offset="0.167" stop-color="#e8b735"/><stop offset="0.222" stop-color="#e9922e"/><stop offset="0.278" stop-color="#ea7629"/><stop offset="0.333" stop-color="#e65022"/><stop offset="0.389" stop-color="#d2316e"/><stop offset="0.444" stop-color="#c12da3"/><stop offset="0.500" stop-color="#a724b0"/><stop offset="0.556" stop-color="#8120b0"/><stop offset="0.611" stop-color="#5614a8" stop-opacity="0.99"/><stop offset="0.667" stop-color="#3a0fa8" stop-opacity="0.68"/><stop offset="0.722" stop-color="#270f9b" stop-opacity="0.46"/><stop offset="0.778" stop-color="#1a0c80" stop-opacity="0.30"/><stop offset="0.833" stop-color="#110961" stop-opacity="0.19"/><stop offset="0.889" stop-color="#0b0644" stop-opacity="0.12"/><stop offset="0.944" stop-color="#07042d" stop-opacity="0.07"/><stop offset="1.000" stop-color="#040318" stop-opacity="0.04"/></radialGradient><radialGradient id="g95" gradientUnits="userSpaceOnUse" cx="237.98" cy="398.86" r="24.00"><stop offset="0.000" stop-color="#681aaa"/><stop offset="0.056" stop-color="#6519a9"/><stop offset="0.111" stop-color="#5d17a8"/><stop offset="0.167" stop-color="#4f12a8"/><stop offset="0.222" stop-color="#3f0da8"/><stop offset="0.278" stop-color="#3610a7"/><stop offset="0.333" stop-color="#270f9b"/><stop offset="0.389" stop-color="#1b0c84"/><stop offset="0.444" stop-color="#120964"/><stop offset="0.500" stop-color="#0b0642"/><stop offset="0.556" stop-color="#050324"/><stop offset="0.611" stop-color="#020208"/><stop offset="0.667" stop-color="#020208"/><stop offset="0.722" stop-color="#020208"/><stop offset="0.778" stop-color="#020207"/><stop offset="0.833" stop-color="#020207"/><stop offset="0.889" stop-color="#020207"/><stop offset="0.944" stop-color="#020207"/><stop offset="1.000" stop-color="#020207"/></radialGradient><radialGradient id="g96" gradientUnits="userSpaceOnUse" cx="237.98" cy="395.22" r="12.80" gradientTransform="translate(237.98 395.22) scale(1.3 1) translate(-237.98 -395.22)"><stop offset="0.000" stop-color="#eced50"/><stop offset="0.056" stop-color="#ecea46"/><stop offset="0.111" stop-color="#eada3a"/><stop offset="0.167" stop-color="#e8b735"/><stop offset="0.222" stop-color="#e9922e"/><stop offset="0.278" stop-color="#ea7629"/><stop offset="0.333" stop-color="#e65022"/><stop offset="0.389" stop-color="#d2316e"/><stop offset="0.444" stop-color="#c12da3"/><stop offset="0.500" stop-color="#a724b0"/><stop offset="0.556" stop-color="#8120b0"/><stop offset="0.611" stop-color="#5614a8" stop-opacity="0.99"/><stop offset="0.667" stop-color="#3a0fa8" stop-opacity="0.68"/><stop offset="0.722" stop-color="#270f9b" stop-opacity="0.46"/><stop offset="0.778" stop-color="#1a0c80" stop-opacity="0.30"/><stop offset="0.833" stop-color="#110961" stop-opacity="0.19"/><stop offset="0.889" stop-color="#0b0644" stop-opacity="0.12"/><stop offset="0.944" stop-color="#07042d" stop-opacity="0.07"/><stop offset="1.000" stop-color="#040318" stop-opacity="0.04"/></radialGradient><radialGradient id="g97" gradientUnits="userSpaceOnUse" cx="287.13" cy="398.40" r="24.00"><stop offset="0.000" stop-color="#681aaa"/><stop offset="0.056" stop-color="#6519a9"/><stop offset="0.111" stop-color="#5d17a8"/><stop offset="0.167" stop-color="#4f12a8"/><stop offset="0.222" stop-color="#3f0da8"/><stop offset="0.278" stop-color="#3610a7"/><stop offset="0.333" stop-color="#270f9b"/><stop offset="0.389" stop-color="#1b0c84"/><stop offset="0.444" stop-color="#120964"/><stop offset="0.500" stop-color="#0b0642"/><stop offset="0.556" stop-color="#050324"/><stop offset="0.611" stop-color="#020208"/><stop offset="0.667" stop-color="#020208"/><stop offset="0.722" stop-color="#020208"/><stop offset="0.778" stop-color="#020207"/><stop offset="0.833" stop-color="#020207"/><stop offset="0.889" stop-color="#020207"/><stop offset="0.944" stop-color="#020207"/><stop offset="1.000" stop-color="#020207"/></radialGradient><radialGradient id="g98" gradientUnits="userSpaceOnUse" cx="287.13" cy="394.76" r="12.80" gradientTransform="translate(287.13 394.76) scale(1.3 1) translate(-287.13 -394.76)"><stop offset="0.000" stop-color="#eced50"/><stop offset="0.056" stop-color="#ecea46"/><stop offset="0.111" stop-color="#eada3a"/><stop offset="0.167" stop-color="#e8b735"/><stop offset="0.222" stop-color="#e9922e"/><stop offset="0.278" stop-color="#ea7629"/><stop offset="0.333" stop-color="#e65022"/><stop offset="0.389" stop-color="#d2316e"/><stop offset="0.444" stop-color="#c12da3"/><stop offset="0.500" stop-color="#a724b0"/><stop offset="0.556" stop-color="#8120b0"/><stop offset="0.611" stop-color="#5614a8" stop-opacity="0.99"/><stop offset="0.667" stop-color="#3a0fa8" stop-opacity="0.68"/><stop offset="0.722" stop-color="#270f9b" stop-opacity="0.46"/><stop offset="0.778" stop-color="#1a0c80" stop-opacity="0.30"/><stop offset="0.833" stop-color="#110961" stop-opacity="0.19"/><stop offset="0.889" stop-color="#0b0644" stop-opacity="0.12"/><stop offset="0.944" stop-color="#07042d" stop-opacity="0.07"/><stop offset="1.000" stop-color="#040318" stop-opacity="0.04"/></radialGradient><radialGradient id="g99" gradientUnits="userSpaceOnUse" cx="336.28" cy="398.86" r="24.00"><stop offset="0.000" stop-color="#681aaa"/><stop offset="0.056" stop-color="#6519a9"/><stop offset="0.111" stop-color="#5d17a8"/><stop offset="0.167" stop-color="#4f12a8"/><stop offset="0.222" stop-color="#3f0da8"/><stop offset="0.278" stop-color="#3610a7"/><stop offset="0.333" stop-color="#270f9b"/><stop offset="0.389" stop-color="#1b0c84"/><stop offset="0.444" stop-color="#120964"/><stop offset="0.500" stop-color="#0b0642"/><stop offset="0.556" stop-color="#050324"/><stop offset="0.611" stop-color="#020208"/><stop offset="0.667" stop-color="#020208"/><stop offset="0.722" stop-color="#020208"/><stop offset="0.778" stop-color="#020207"/><stop offset="0.833" stop-color="#020207"/><stop offset="0.889" stop-color="#020207"/><stop offset="0.944" stop-color="#020207"/><stop offset="1.000" stop-color="#020207"/></radialGradient><radialGradient id="g100" gradientUnits="userSpaceOnUse" cx="336.28" cy="395.22" r="12.80" gradientTransform="translate(336.28 395.22) scale(1.3 1) translate(-336.28 -395.22)"><stop offset="0.000" stop-color="#eced50"/><stop offset="0.056" stop-color="#ecea46"/><stop offset="0.111" stop-color="#eada3a"/><stop offset="0.167" stop-color="#e8b735"/><stop offset="0.222" stop-color="#e9922e"/><stop offset="0.278" stop-color="#ea7629"/><stop offset="0.333" stop-color="#e65022"/><stop offset="0.389" stop-color="#d2316e"/><stop offset="0.444" stop-color="#c12da3"/><stop offset="0.500" stop-color="#a724b0"/><stop offset="0.556" stop-color="#8120b0"/><stop offset="0.611" stop-color="#5614a8" stop-opacity="0.99"/><stop offset="0.667" stop-color="#3a0fa8" stop-opacity="0.68"/><stop offset="0.722" stop-color="#270f9b" stop-opacity="0.46"/><stop offset="0.778" stop-color="#1a0c80" stop-opacity="0.30"/><stop offset="0.833" stop-color="#110961" stop-opacity="0.19"/><stop offset="0.889" stop-color="#0b0644" stop-opacity="0.12"/><stop offset="0.944" stop-color="#07042d" stop-opacity="0.07"/><stop offset="1.000" stop-color="#040318" stop-opacity="0.04"/></radialGradient><radialGradient id="g101" gradientUnits="userSpaceOnUse" cx="384.53" cy="397.49" r="24.00"><stop offset="0.000" stop-color="#681aaa"/><stop offset="0.056" stop-color="#6519a9"/><stop offset="0.111" stop-color="#5d17a8"/><stop offset="0.167" stop-color="#4f12a8"/><stop offset="0.222" stop-color="#3f0da8"/><stop offset="0.278" stop-color="#3610a7"/><stop offset="0.333" stop-color="#270f9b"/><stop offset="0.389" stop-color="#1b0c84"/><stop offset="0.444" stop-color="#120964"/><stop offset="0.500" stop-color="#0b0642"/><stop offset="0.556" stop-color="#050324"/><stop offset="0.611" stop-color="#020208"/><stop offset="0.667" stop-color="#020208"/><stop offset="0.722" stop-color="#020208"/><stop offset="0.778" stop-color="#020207"/><stop offset="0.833" stop-color="#020207"/><stop offset="0.889" stop-color="#020207"/><stop offset="0.944" stop-color="#020207"/><stop offset="1.000" stop-color="#020207"/></radialGradient><radialGradient id="g102" gradientUnits="userSpaceOnUse" cx="384.53" cy="393.85" r="12.80" gradientTransform="translate(384.53 393.85) scale(1.3 1) translate(-384.53 -393.85)"><stop offset="0.000" stop-color="#edf16e"/><stop offset="0.056" stop-color="#ecef5a"/><stop offset="0.111" stop-color="#ece73c"/><stop offset="0.167" stop-color="#e8c537"/><stop offset="0.222" stop-color="#e89930"/><stop offset="0.278" stop-color="#ea7b2a"/><stop offset="0.333" stop-color="#e85722"/><stop offset="0.389" stop-color="#d43260"/><stop offset="0.444" stop-color="#c42ea0"/><stop offset="0.500" stop-color="#aa25b0"/><stop offset="0.556" stop-color="#8420b0"/><stop offset="0.611" stop-color="#5915a8"/><stop offset="0.667" stop-color="#3b0ea8" stop-opacity="0.71"/><stop offset="0.722" stop-color="#280f9c" stop-opacity="0.48"/><stop offset="0.778" stop-color="#1a0c81" stop-opacity="0.31"/><stop offset="0.833" stop-color="#120962" stop-opacity="0.20"/><stop offset="0.889" stop-color="#0c0645" stop-opacity="0.12"/><stop offset="0.944" stop-color="#07042d" stop-opacity="0.07"/><stop offset="1.000" stop-color="#040318" stop-opacity="0.04"/></radialGradient><radialGradient id="g103" gradientUnits="userSpaceOnUse" cx="94.15" cy="442.55" r="51.20"><stop offset="0.000" stop-color="#130968"/><stop offset="0.056" stop-color="#130967"/><stop offset="0.111" stop-color="#120965"/><stop offset="0.167" stop-color="#120962"/><stop offset="0.222" stop-color="#11085e"/><stop offset="0.278" stop-color="#10085a"/><stop offset="0.333" stop-color="#0e0754"/><stop offset="0.389" stop-color="#0d074f"/><stop offset="0.444" stop-color="#0d064a"/><stop offset="0.500" stop-color="#0c0645"/><stop offset="0.556" stop-color="#0b0641"/><stop offset="0.611" stop-color="#0a053e"/><stop offset="0.667" stop-color="#0a053c"/><stop offset="0.722" stop-color="#0a053a"/><stop offset="0.778" stop-color="#090539"/><stop offset="0.833" stop-color="#090538"/><stop offset="0.889" stop-color="#090538"/><stop offset="0.944" stop-color="#090537"/><stop offset="1.000" stop-color="#090537"/></radialGradient><radialGradient id="g104" gradientUnits="userSpaceOnUse" cx="94.61" cy="442.10" r="22.00"><stop offset="0.000" stop-color="#5012a8"/><stop offset="0.056" stop-color="#5012a8"/><stop offset="0.111" stop-color="#4f12a8"/><stop offset="0.167" stop-color="#4d11a8"/><stop offset="0.222" stop-color="#4a10a8"/><stop offset="0.278" stop-color="#440ea8" stop-opacity="0.99"/><stop offset="0.333" stop-color="#3f0da8" stop-opacity="0.91"/><stop offset="0.389" stop-color="#3b0fa8" stop-opacity="0.81"/><stop offset="0.444" stop-color="#3510a6" stop-opacity="0.70"/><stop offset="0.500" stop-color="#2d0fa0" stop-opacity="0.57"/><stop offset="0.556" stop-color="#240e99" stop-opacity="0.45"/><stop offset="0.611" stop-color="#1d0d8c" stop-opacity="0.33"/><stop offset="0.667" stop-color="#190b7c" stop-opacity="0.23"/><stop offset="0.722" stop-color="#150a6e" stop-opacity="0.15"/><stop offset="0.778" stop-color="#120963" stop-opacity="0.09"/><stop offset="0.833" stop-color="#10085b" stop-opacity="0.05"/><stop offset="0.889" stop-color="#0f0754" stop-opacity="0.03"/><stop offset="0.944" stop-color="#0e074f" stop-opacity="0.01"/><stop offset="1.000" stop-color="#0d074c" stop-opacity="0.01"/></radialGradient><radialGradient id="g105" gradientUnits="userSpaceOnUse" cx="142.85" cy="442.55" r="51.20"><stop offset="0.000" stop-color="#130968"/><stop offset="0.056" stop-color="#130967"/><stop offset="0.111" stop-color="#120965"/><stop offset="0.167" stop-color="#120962"/><stop offset="0.222" stop-color="#11085e"/><stop offset="0.278" stop-color="#10085a"/><stop offset="0.333" stop-color="#0e0754"/><stop offset="0.389" stop-color="#0d074f"/><stop offset="0.444" stop-color="#0d064a"/><stop offset="0.500" stop-color="#0c0645"/><stop offset="0.556" stop-color="#0b0641"/><stop offset="0.611" stop-color="#0a053e"/><stop offset="0.667" stop-color="#0a053c"/><stop offset="0.722" stop-color="#0a053a"/><stop offset="0.778" stop-color="#090539"/><stop offset="0.833" stop-color="#090538"/><stop offset="0.889" stop-color="#090538"/><stop offset="0.944" stop-color="#090537"/><stop offset="1.000" stop-color="#090537"/></radialGradient><radialGradient id="g106" gradientUnits="userSpaceOnUse" cx="142.40" cy="442.55" r="25.60"><stop offset="0.000" stop-color="#5012a8"/><stop offset="0.056" stop-color="#4f12a8"/><stop offset="0.111" stop-color="#4a10a8"/><stop offset="0.167" stop-color="#430da8" stop-opacity="0.96"/><stop offset="0.222" stop-color="#3d0da8" stop-opacity="0.86"/><stop offset="0.278" stop-color="#390fa8" stop-opacity="0.75"/><stop offset="0.333" stop-color="#320fa3" stop-opacity="0.63"/><stop offset="0.389" stop-color="#2a0f9d" stop-opacity="0.51"/><stop offset="0.444" stop-color="#220e97" stop-opacity="0.40"/><stop offset="0.500" stop-color="#1d0d8a" stop-opacity="0.31"/><stop offset="0.556" stop-color="#190b7c" stop-opacity="0.23"/><stop offset="0.611" stop-color="#160a70" stop-opacity="0.16"/><stop offset="0.667" stop-color="#130967" stop-opacity="0.11"/><stop offset="0.722" stop-color="#11085f" stop-opacity="0.08"/><stop offset="0.778" stop-color="#0f0858" stop-opacity="0.05"/><stop offset="0.833" stop-color="#0e0752" stop-opacity="0.03"/><stop offset="0.889" stop-color="#0d074d" stop-opacity="0.02"/><stop offset="0.944" stop-color="#0c0649" stop-opacity="0.01"/><stop offset="1.000" stop-color="#0c0646" stop-opacity="0.01"/></radialGradient><radialGradient id="g107" gradientUnits="userSpaceOnUse" cx="142.40" cy="442.55" r="9.60"><stop offset="0.000" stop-color="#e75522"/><stop offset="0.056" stop-color="#e75222"/><stop offset="0.111" stop-color="#e54922"/><stop offset="0.167" stop-color="#dd3a37"/><stop offset="0.222" stop-color="#d33263"/><stop offset="0.278" stop-color="#cc308a"/><stop offset="0.333" stop-color="#c32da1"/><stop offset="0.389" stop-color="#b728b0"/><stop offset="0.444" stop-color="#a424b0"/><stop offset="0.500" stop-color="#9021b0" stop-opacity="0.99"/><stop offset="0.556" stop-color="#7a1faf" stop-opacity="0.73"/><stop offset="0.611" stop-color="#6619a9" stop-opacity="0.53"/><stop offset="0.667" stop-color="#5413a8" stop-opacity="0.37"/><stop offset="0.722" stop-color="#450ea8" stop-opacity="0.25"/><stop offset="0.778" stop-color="#3e0da8" stop-opacity="0.16"/><stop offset="0.833" stop-color="#3a0fa8" stop-opacity="0.10"/><stop offset="0.889" stop-color="#3610a6" stop-opacity="0.06"/><stop offset="0.944" stop-color="#310fa3" stop-opacity="0.04"/><stop offset="1.000" stop-color="#2d0fa0" stop-opacity="0.02"/></radialGradient><radialGradient id="g108" gradientUnits="userSpaceOnUse" cx="191.55" cy="442.55" r="51.20"><stop offset="0.000" stop-color="#130968"/><stop offset="0.056" stop-color="#130967"/><stop offset="0.111" stop-color="#120965"/><stop offset="0.167" stop-color="#120962"/><stop offset="0.222" stop-color="#11085e"/><stop offset="0.278" stop-color="#10085a"/><stop offset="0.333" stop-color="#0e0754"/><stop offset="0.389" stop-color="#0d074f"/><stop offset="0.444" stop-color="#0d064a"/><stop offset="0.500" stop-color="#0c0645"/><stop offset="0.556" stop-color="#0b0641"/><stop offset="0.611" stop-color="#0a053e"/><stop offset="0.667" stop-color="#0a053c"/><stop offset="0.722" stop-color="#0a053a"/><stop offset="0.778" stop-color="#090539"/><stop offset="0.833" stop-color="#090538"/><stop offset="0.889" stop-color="#090538"/><stop offset="0.944" stop-color="#090537"/><stop offset="1.000" stop-color="#090537"/></radialGradient><radialGradient id="g109" gradientUnits="userSpaceOnUse" cx="190.19" cy="442.55" r="25.60"><stop offset="0.000" stop-color="#6419a9"/><stop offset="0.056" stop-color="#6218a8"/><stop offset="0.111" stop-color="#5c17a8"/><stop offset="0.167" stop-color="#5413a8"/><stop offset="0.222" stop-color="#480fa8"/><stop offset="0.278" stop-color="#3e0da8" stop-opacity="0.90"/><stop offset="0.333" stop-color="#3910a8" stop-opacity="0.75"/><stop offset="0.389" stop-color="#300fa2" stop-opacity="0.61"/><stop offset="0.444" stop-color="#270f9b" stop-opacity="0.48"/><stop offset="0.500" stop-color="#1f0e93" stop-opacity="0.37"/><stop offset="0.556" stop-color="#1b0c83" stop-opacity="0.27"/><stop offset="0.611" stop-color="#170b75" stop-opacity="0.20"/><stop offset="0.667" stop-color="#14096a" stop-opacity="0.14"/><stop offset="0.722" stop-color="#110961" stop-opacity="0.09"/><stop offset="0.778" stop-color="#10085a" stop-opacity="0.06"/><stop offset="0.833" stop-color="#0e0753" stop-opacity="0.04"/><stop offset="0.889" stop-color="#0d074e" stop-opacity="0.02"/><stop offset="0.944" stop-color="#0d064a" stop-opacity="0.01"/><stop offset="1.000" stop-color="#0c0647" stop-opacity="0.01"/></radialGradient><radialGradient id="g110" gradientUnits="userSpaceOnUse" cx="190.19" cy="442.55" r="9.60"><stop offset="0.000" stop-color="#ea8c2c"/><stop offset="0.056" stop-color="#ea8a2c"/><stop offset="0.111" stop-color="#ea822b"/><stop offset="0.167" stop-color="#ea7529"/><stop offset="0.222" stop-color="#e96124"/><stop offset="0.278" stop-color="#e54722"/><stop offset="0.333" stop-color="#d4325e"/><stop offset="0.389" stop-color="#ca3092"/><stop offset="0.444" stop-color="#be2ba8"/><stop offset="0.500" stop-color="#ac25b0"/><stop offset="0.556" stop-color="#9722b0" stop-opacity="0.96"/><stop offset="0.611" stop-color="#8120b0" stop-opacity="0.69"/><stop offset="0.667" stop-color="#6b1bab" stop-opacity="0.48"/><stop offset="0.722" stop-color="#5916a8" stop-opacity="0.32"/><stop offset="0.778" stop-color="#4b10a8" stop-opacity="0.21"/><stop offset="0.833" stop-color="#400ca8" stop-opacity="0.13"/><stop offset="0.889" stop-color="#3c0ea8" stop-opacity="0.08"/><stop offset="0.944" stop-color="#3910a8" stop-opacity="0.05"/><stop offset="1.000" stop-color="#3410a5" stop-opacity="0.03"/></radialGradient><radialGradient id="g111" gradientUnits="userSpaceOnUse" cx="240.25" cy="442.55" r="51.20"><stop offset="0.000" stop-color="#130968"/><stop offset="0.056" stop-color="#130967"/><stop offset="0.111" stop-color="#120965"/><stop offset="0.167" stop-color="#120962"/><stop offset="0.222" stop-color="#11085e"/><stop offset="0.278" stop-color="#10085a"/><stop offset="0.333" stop-color="#0e0754"/><stop offset="0.389" stop-color="#0d074f"/><stop offset="0.444" stop-color="#0d064a"/><stop offset="0.500" stop-color="#0c0645"/><stop offset="0.556" stop-color="#0b0641"/><stop offset="0.611" stop-color="#0a053e"/><stop offset="0.667" stop-color="#0a053c"/><stop offset="0.722" stop-color="#0a053a"/><stop offset="0.778" stop-color="#090539"/><stop offset="0.833" stop-color="#090538"/><stop offset="0.889" stop-color="#090538"/><stop offset="0.944" stop-color="#090537"/><stop offset="1.000" stop-color="#090537"/></radialGradient><radialGradient id="g112" gradientUnits="userSpaceOnUse" cx="239.80" cy="442.55" r="25.60"><stop offset="0.000" stop-color="#6419a9"/><stop offset="0.056" stop-color="#6218a8"/><stop offset="0.111" stop-color="#5c17a8"/><stop offset="0.167" stop-color="#5413a8"/><stop offset="0.222" stop-color="#480fa8"/><stop offset="0.278" stop-color="#3e0da8" stop-opacity="0.90"/><stop offset="0.333" stop-color="#3910a8" stop-opacity="0.75"/><stop offset="0.389" stop-color="#300fa2" stop-opacity="0.61"/><stop offset="0.444" stop-color="#270f9b" stop-opacity="0.48"/><stop offset="0.500" stop-color="#1f0e94" stop-opacity="0.37"/><stop offset="0.556" stop-color="#1b0c83" stop-opacity="0.27"/><stop offset="0.611" stop-color="#170b75" stop-opacity="0.20"/><stop offset="0.667" stop-color="#14096a" stop-opacity="0.14"/><stop offset="0.722" stop-color="#110961" stop-opacity="0.09"/><stop offset="0.778" stop-color="#10085a" stop-opacity="0.06"/><stop offset="0.833" stop-color="#0e0753" stop-opacity="0.04"/><stop offset="0.889" stop-color="#0d074e" stop-opacity="0.02"/><stop offset="0.944" stop-color="#0d064a" stop-opacity="0.01"/><stop offset="1.000" stop-color="#0c0647" stop-opacity="0.01"/></radialGradient><radialGradient id="g113" gradientUnits="userSpaceOnUse" cx="239.80" cy="442.55" r="9.60"><stop offset="0.000" stop-color="#ea8c2c"/><stop offset="0.056" stop-color="#ea8a2c"/><stop offset="0.111" stop-color="#ea822b"/><stop offset="0.167" stop-color="#ea7529"/><stop offset="0.222" stop-color="#e96124"/><stop offset="0.278" stop-color="#e54722"/><stop offset="0.333" stop-color="#d4325e"/><stop offset="0.389" stop-color="#ca3092"/><stop offset="0.444" stop-color="#be2ba8"/><stop offset="0.500" stop-color="#ac25b0"/><stop offset="0.556" stop-color="#9822b0" stop-opacity="0.96"/><stop offset="0.611" stop-color="#8120b0" stop-opacity="0.69"/><stop offset="0.667" stop-color="#6b1bab" stop-opacity="0.48"/><stop offset="0.722" stop-color="#5916a8" stop-opacity="0.32"/><stop offset="0.778" stop-color="#4b10a8" stop-opacity="0.21"/><stop offset="0.833" stop-color="#400ca8" stop-opacity="0.13"/><stop offset="0.889" stop-color="#3c0ea8" stop-opacity="0.08"/><stop offset="0.944" stop-color="#3910a8" stop-opacity="0.05"/><stop offset="1.000" stop-color="#3410a5" stop-opacity="0.03"/></radialGradient><radialGradient id="g114" gradientUnits="userSpaceOnUse" cx="288.95" cy="442.55" r="51.20"><stop offset="0.000" stop-color="#130968"/><stop offset="0.056" stop-color="#130967"/><stop offset="0.111" stop-color="#120965"/><stop offset="0.167" stop-color="#120962"/><stop offset="0.222" stop-color="#11085e"/><stop offset="0.278" stop-color="#10085a"/><stop offset="0.333" stop-color="#0e0754"/><stop offset="0.389" stop-color="#0d074f"/><stop offset="0.444" stop-color="#0d064a"/><stop offset="0.500" stop-color="#0c0645"/><stop offset="0.556" stop-color="#0b0641"/><stop offset="0.611" stop-color="#0a053e"/><stop offset="0.667" stop-color="#0a053c"/><stop offset="0.722" stop-color="#0a053a"/><stop offset="0.778" stop-color="#090539"/><stop offset="0.833" stop-color="#090538"/><stop offset="0.889" stop-color="#090538"/><stop offset="0.944" stop-color="#090537"/><stop offset="1.000" stop-color="#090537"/></radialGradient><radialGradient id="g115" gradientUnits="userSpaceOnUse" cx="288.04" cy="443.46" r="25.60"><stop offset="0.000" stop-color="#6419a9"/><stop offset="0.056" stop-color="#6218a8"/><stop offset="0.111" stop-color="#5c17a8"/><stop offset="0.167" stop-color="#5413a8"/><stop offset="0.222" stop-color="#480fa8"/><stop offset="0.278" stop-color="#3e0da8" stop-opacity="0.90"/><stop offset="0.333" stop-color="#3910a8" stop-opacity="0.75"/><stop offset="0.389" stop-color="#300fa2" stop-opacity="0.61"/><stop offset="0.444" stop-color="#270f9b" stop-opacity="0.48"/><stop offset="0.500" stop-color="#1f0e93" stop-opacity="0.37"/><stop offset="0.556" stop-color="#1b0c83" stop-opacity="0.27"/><stop offset="0.611" stop-color="#170b75" stop-opacity="0.20"/><stop offset="0.667" stop-color="#14096a" stop-opacity="0.14"/><stop offset="0.722" stop-color="#110961" stop-opacity="0.09"/><stop offset="0.778" stop-color="#10085a" stop-opacity="0.06"/><stop offset="0.833" stop-color="#0e0753" stop-opacity="0.04"/><stop offset="0.889" stop-color="#0d074e" stop-opacity="0.02"/><stop offset="0.944" stop-color="#0d064a" stop-opacity="0.01"/><stop offset="1.000" stop-color="#0c0647" stop-opacity="0.01"/></radialGradient><radialGradient id="g116" gradientUnits="userSpaceOnUse" cx="288.04" cy="443.46" r="9.28"><stop offset="0.000" stop-color="#ea8c2c"/><stop offset="0.056" stop-color="#ea8a2c"/><stop offset="0.111" stop-color="#ea822b"/><stop offset="0.167" stop-color="#ea7529"/><stop offset="0.222" stop-color="#e96224"/><stop offset="0.278" stop-color="#e54722"/><stop offset="0.333" stop-color="#d4325d"/><stop offset="0.389" stop-color="#ca3091"/><stop offset="0.444" stop-color="#be2ba8"/><stop offset="0.500" stop-color="#ad26b0"/><stop offset="0.556" stop-color="#9922b0" stop-opacity="0.96"/><stop offset="0.611" stop-color="#8220b0" stop-opacity="0.69"/><stop offset="0.667" stop-color="#6d1bab" stop-opacity="0.48"/><stop offset="0.722" stop-color="#5c16a8" stop-opacity="0.32"/><stop offset="0.778" stop-color="#4d11a8" stop-opacity="0.21"/><stop offset="0.833" stop-color="#410da8" stop-opacity="0.13"/><stop offset="0.889" stop-color="#3d0ea8" stop-opacity="0.08"/><stop offset="0.944" stop-color="#3a0fa8" stop-opacity="0.05"/><stop offset="1.000" stop-color="#3610a7" stop-opacity="0.03"/></radialGradient><radialGradient id="g117" gradientUnits="userSpaceOnUse" cx="337.65" cy="442.55" r="51.20"><stop offset="0.000" stop-color="#130968"/><stop offset="0.056" stop-color="#130967"/><stop offset="0.111" stop-color="#120965"/><stop offset="0.167" stop-color="#120962"/><stop offset="0.222" stop-color="#11085e"/><stop offset="0.278" stop-color="#10085a"/><stop offset="0.333" stop-color="#0e0754"/><stop offset="0.389" stop-color="#0d074f"/><stop offset="0.444" stop-color="#0d064a"/><stop offset="0.500" stop-color="#0c0645"/><stop offset="0.556" stop-color="#0b0641"/><stop offset="0.611" stop-color="#0a053e"/><stop offset="0.667" stop-color="#0a053c"/><stop offset="0.722" stop-color="#0a053a"/><stop offset="0.778" stop-color="#090539"/><stop offset="0.833" stop-color="#090538"/><stop offset="0.889" stop-color="#090538"/><stop offset="0.944" stop-color="#090537"/><stop offset="1.000" stop-color="#090537"/></radialGradient><radialGradient id="g118" gradientUnits="userSpaceOnUse" cx="337.19" cy="444.37" r="25.60"><stop offset="0.000" stop-color="#6419a9"/><stop offset="0.056" stop-color="#6218a8"/><stop offset="0.111" stop-color="#5c17a8"/><stop offset="0.167" stop-color="#5313a8"/><stop offset="0.222" stop-color="#480fa8"/><stop offset="0.278" stop-color="#3e0da8" stop-opacity="0.90"/><stop offset="0.333" stop-color="#3910a8" stop-opacity="0.75"/><stop offset="0.389" stop-color="#300fa2" stop-opacity="0.61"/><stop offset="0.444" stop-color="#270f9b" stop-opacity="0.48"/><stop offset="0.500" stop-color="#1f0e93" stop-opacity="0.37"/><stop offset="0.556" stop-color="#1b0c83" stop-opacity="0.27"/><stop offset="0.611" stop-color="#170b75" stop-opacity="0.20"/><stop offset="0.667" stop-color="#14096a" stop-opacity="0.14"/><stop offset="0.722" stop-color="#110961" stop-opacity="0.09"/><stop offset="0.778" stop-color="#10085a" stop-opacity="0.06"/><stop offset="0.833" stop-color="#0e0753" stop-opacity="0.04"/><stop offset="0.889" stop-color="#0d074e" stop-opacity="0.02"/><stop offset="0.944" stop-color="#0d064a" stop-opacity="0.01"/><stop offset="1.000" stop-color="#0c0647" stop-opacity="0.01"/></radialGradient><radialGradient id="g119" gradientUnits="userSpaceOnUse" cx="337.19" cy="444.37" r="9.28"><stop offset="0.000" stop-color="#ea8c2c"/><stop offset="0.056" stop-color="#ea8a2c"/><stop offset="0.111" stop-color="#ea822b"/><stop offset="0.167" stop-color="#ea7529"/><stop offset="0.222" stop-color="#e96224"/><stop offset="0.278" stop-color="#e54722"/><stop offset="0.333" stop-color="#d4325d"/><stop offset="0.389" stop-color="#ca3091"/><stop offset="0.444" stop-color="#be2ba8"/><stop offset="0.500" stop-color="#ac26b0"/><stop offset="0.556" stop-color="#9922b0" stop-opacity="0.96"/><stop offset="0.611" stop-color="#8220b0" stop-opacity="0.69"/><stop offset="0.667" stop-color="#6d1bab" stop-opacity="0.48"/><stop offset="0.722" stop-color="#5b16a8" stop-opacity="0.32"/><stop offset="0.778" stop-color="#4d11a8" stop-opacity="0.21"/><stop offset="0.833" stop-color="#410ca8" stop-opacity="0.13"/><stop offset="0.889" stop-color="#3d0ea8" stop-opacity="0.08"/><stop offset="0.944" stop-color="#3a0fa8" stop-opacity="0.05"/><stop offset="1.000" stop-color="#3610a7" stop-opacity="0.03"/></radialGradient><radialGradient id="g120" gradientUnits="userSpaceOnUse" cx="386.35" cy="442.55" r="51.20"><stop offset="0.000" stop-color="#130968"/><stop offset="0.056" stop-color="#130967"/><stop offset="0.111" stop-color="#120965"/><stop offset="0.167" stop-color="#120962"/><stop offset="0.222" stop-color="#11085e"/><stop offset="0.278" stop-color="#10085a"/><stop offset="0.333" stop-color="#0e0754"/><stop offset="0.389" stop-color="#0d074f"/><stop offset="0.444" stop-color="#0d064a"/><stop offset="0.500" stop-color="#0c0645"/><stop offset="0.556" stop-color="#0b0641"/><stop offset="0.611" stop-color="#0a053e"/><stop offset="0.667" stop-color="#0a053c"/><stop offset="0.722" stop-color="#0a053a"/><stop offset="0.778" stop-color="#090539"/><stop offset="0.833" stop-color="#090538"/><stop offset="0.889" stop-color="#090538"/><stop offset="0.944" stop-color="#090537"/><stop offset="1.000" stop-color="#090537"/></radialGradient><radialGradient id="g121" gradientUnits="userSpaceOnUse" cx="384.99" cy="443.92" r="25.60"><stop offset="0.000" stop-color="#6319a9"/><stop offset="0.056" stop-color="#6218a8"/><stop offset="0.111" stop-color="#5c17a8"/><stop offset="0.167" stop-color="#5313a8"/><stop offset="0.222" stop-color="#480fa8"/><stop offset="0.278" stop-color="#3e0da8" stop-opacity="0.90"/><stop offset="0.333" stop-color="#3910a8" stop-opacity="0.75"/><stop offset="0.389" stop-color="#300fa2" stop-opacity="0.61"/><stop offset="0.444" stop-color="#270f9b" stop-opacity="0.48"/><stop offset="0.500" stop-color="#1f0e93" stop-opacity="0.37"/><stop offset="0.556" stop-color="#1b0c83" stop-opacity="0.27"/><stop offset="0.611" stop-color="#170b75" stop-opacity="0.20"/><stop offset="0.667" stop-color="#14096a" stop-opacity="0.14"/><stop offset="0.722" stop-color="#110961" stop-opacity="0.09"/><stop offset="0.778" stop-color="#10085a" stop-opacity="0.06"/><stop offset="0.833" stop-color="#0e0753" stop-opacity="0.04"/><stop offset="0.889" stop-color="#0d074e" stop-opacity="0.02"/><stop offset="0.944" stop-color="#0d064a" stop-opacity="0.01"/><stop offset="1.000" stop-color="#0c0647" stop-opacity="0.01"/></radialGradient><radialGradient id="g122" gradientUnits="userSpaceOnUse" cx="384.99" cy="443.92" r="9.28"><stop offset="0.000" stop-color="#ea8c2c"/><stop offset="0.056" stop-color="#ea8a2c"/><stop offset="0.111" stop-color="#ea822b"/><stop offset="0.167" stop-color="#ea7529"/><stop offset="0.222" stop-color="#e96224"/><stop offset="0.278" stop-color="#e54722"/><stop offset="0.333" stop-color="#d4325d"/><stop offset="0.389" stop-color="#ca3091"/><stop offset="0.444" stop-color="#be2ba8"/><stop offset="0.500" stop-color="#ac26b0"/><stop offset="0.556" stop-color="#9922b0" stop-opacity="0.96"/><stop offset="0.611" stop-color="#8220b0" stop-opacity="0.69"/><stop offset="0.667" stop-color="#6d1bab" stop-opacity="0.48"/><stop offset="0.722" stop-color="#5b16a8" stop-opacity="0.32"/><stop offset="0.778" stop-color="#4d11a8" stop-opacity="0.21"/><stop offset="0.833" stop-color="#410ca8" stop-opacity="0.13"/><stop offset="0.889" stop-color="#3d0ea8" stop-opacity="0.08"/><stop offset="0.944" stop-color="#3a0fa8" stop-opacity="0.05"/><stop offset="1.000" stop-color="#3610a7" stop-opacity="0.03"/></radialGradient><radialGradient id="g123" gradientUnits="userSpaceOnUse" cx="94.61" cy="490.34" r="24.20"><stop offset="0.000" stop-color="#420da8"/><stop offset="0.056" stop-color="#420da8"/><stop offset="0.111" stop-color="#420da8"/><stop offset="0.167" stop-color="#410ca8"/><stop offset="0.222" stop-color="#3f0ca8"/><stop offset="0.278" stop-color="#3e0da8"/><stop offset="0.333" stop-color="#3b0fa8"/><stop offset="0.389" stop-color="#3410a5"/><stop offset="0.444" stop-color="#290f9d"/><stop offset="0.500" stop-color="#1e0d8d"/><stop offset="0.556" stop-color="#150a6f"/><stop offset="0.611" stop-color="#0e0753"/><stop offset="0.667" stop-color="#0a053b"/><stop offset="0.722" stop-color="#07042c"/><stop offset="0.778" stop-color="#060325"/><stop offset="0.833" stop-color="#050323"/><stop offset="0.889" stop-color="#050322"/><stop offset="0.944" stop-color="#050322"/><stop offset="1.000" stop-color="#050322"/></radialGradient><radialGradient id="g124" gradientUnits="userSpaceOnUse" cx="142.85" cy="492.16" r="28.80"><stop offset="0.000" stop-color="#681aaa"/><stop offset="0.056" stop-color="#6619a9"/><stop offset="0.111" stop-color="#5f18a8"/><stop offset="0.167" stop-color="#5414a8"/><stop offset="0.222" stop-color="#460ea8"/><stop offset="0.278" stop-color="#3c0ea8"/><stop offset="0.333" stop-color="#3310a5"/><stop offset="0.389" stop-color="#280f9c"/><stop offset="0.444" stop-color="#1e0d8e"/><stop offset="0.500" stop-color="#180b77"/><stop offset="0.556" stop-color="#120964"/><stop offset="0.611" stop-color="#0e0753"/><stop offset="0.667" stop-color="#0b0644"/><stop offset="0.722" stop-color="#090539"/><stop offset="0.778" stop-color="#080431"/><stop offset="0.833" stop-color="#07042b"/><stop offset="0.889" stop-color="#060428"/><stop offset="0.944" stop-color="#060325"/><stop offset="1.000" stop-color="#050324"/></radialGradient><radialGradient id="g125" gradientUnits="userSpaceOnUse" cx="142.85" cy="492.16" r="14.40" gradientTransform="translate(142.85 492.16) scale(1.2 1) translate(-142.85 -492.16)"><stop offset="0.000" stop-color="#e8972f"/><stop offset="0.056" stop-color="#e9942e"/><stop offset="0.111" stop-color="#ea8a2c"/><stop offset="0.167" stop-color="#ea7c2a"/><stop offset="0.222" stop-color="#e96826"/><stop offset="0.278" stop-color="#e54b22"/><stop offset="0.333" stop-color="#d4325d"/><stop offset="0.389" stop-color="#c93097"/><stop offset="0.444" stop-color="#b929ae"/><stop offset="0.500" stop-color="#a123b0"/><stop offset="0.556" stop-color="#8320b0"/><stop offset="0.611" stop-color="#6319a9" stop-opacity="0.72"/><stop offset="0.667" stop-color="#470fa8" stop-opacity="0.50"/><stop offset="0.722" stop-color="#3a0fa8" stop-opacity="0.34"/><stop offset="0.778" stop-color="#2e0fa0" stop-opacity="0.22"/><stop offset="0.833" stop-color="#230e98" stop-opacity="0.14"/><stop offset="0.889" stop-color="#1c0d89" stop-opacity="0.09"/><stop offset="0.944" stop-color="#180b78" stop-opacity="0.05"/><stop offset="1.000" stop-color="#140a6b" stop-opacity="0.03"/></radialGradient><radialGradient id="g126" gradientUnits="userSpaceOnUse" cx="191.55" cy="491.25" r="30.40"><stop offset="0.000" stop-color="#7b1faf"/><stop offset="0.056" stop-color="#781eae"/><stop offset="0.111" stop-color="#701cac"/><stop offset="0.167" stop-color="#6519a9"/><stop offset="0.222" stop-color="#5514a8"/><stop offset="0.278" stop-color="#430da8"/><stop offset="0.333" stop-color="#3a0fa8"/><stop offset="0.389" stop-color="#2e0fa1"/><stop offset="0.444" stop-color="#220e97"/><stop offset="0.500" stop-color="#1a0c81"/><stop offset="0.556" stop-color="#140a6b"/><stop offset="0.611" stop-color="#0f0859"/><stop offset="0.667" stop-color="#0c0648"/><stop offset="0.722" stop-color="#0a053c"/><stop offset="0.778" stop-color="#080433"/><stop offset="0.833" stop-color="#07042d"/><stop offset="0.889" stop-color="#060429"/><stop offset="0.944" stop-color="#060326"/><stop offset="1.000" stop-color="#050324"/></radialGradient><radialGradient id="g127" gradientUnits="userSpaceOnUse" cx="191.55" cy="491.25" r="15.36" gradientTransform="translate(191.55 491.25) scale(1.1 1) translate(-191.55 -491.25)"><stop offset="0.000" stop-color="#e8c737"/><stop offset="0.056" stop-color="#e8c036"/><stop offset="0.111" stop-color="#e8ad34"/><stop offset="0.167" stop-color="#e9962f"/><stop offset="0.222" stop-color="#ea822b"/><stop offset="0.278" stop-color="#e96926"/><stop offset="0.333" stop-color="#e44622"/><stop offset="0.389" stop-color="#d13171"/><stop offset="0.444" stop-color="#c42e9f"/><stop offset="0.500" stop-color="#b227b0"/><stop offset="0.556" stop-color="#9722b0"/><stop offset="0.611" stop-color="#781eae" stop-opacity="0.80"/><stop offset="0.667" stop-color="#5a16a8" stop-opacity="0.56"/><stop offset="0.722" stop-color="#410ca8" stop-opacity="0.38"/><stop offset="0.778" stop-color="#3810a8" stop-opacity="0.25"/><stop offset="0.833" stop-color="#2c0f9f" stop-opacity="0.16"/><stop offset="0.889" stop-color="#220e98" stop-opacity="0.10"/><stop offset="0.944" stop-color="#1c0d89" stop-opacity="0.06"/><stop offset="1.000" stop-color="#180b79" stop-opacity="0.03"/></radialGradient><radialGradient id="g128" gradientUnits="userSpaceOnUse" cx="240.25" cy="491.25" r="32.00"><stop offset="0.000" stop-color="#8b21b0"/><stop offset="0.056" stop-color="#8821b0"/><stop offset="0.111" stop-color="#8120b0"/><stop offset="0.167" stop-color="#751dad"/><stop offset="0.222" stop-color="#6419a9"/><stop offset="0.278" stop-color="#5012a8"/><stop offset="0.333" stop-color="#3e0da8"/><stop offset="0.389" stop-color="#3510a5"/><stop offset="0.444" stop-color="#270f9b"/><stop offset="0.500" stop-color="#1d0d8a"/><stop offset="0.556" stop-color="#160a72"/><stop offset="0.611" stop-color="#11085f"/><stop offset="0.667" stop-color="#0d074d"/><stop offset="0.722" stop-color="#0a053f"/><stop offset="0.778" stop-color="#090535"/><stop offset="0.833" stop-color="#07042e"/><stop offset="0.889" stop-color="#060429"/><stop offset="0.944" stop-color="#060326"/><stop offset="1.000" stop-color="#050324"/></radialGradient><radialGradient id="g129" gradientUnits="userSpaceOnUse" cx="240.25" cy="491.25" r="16.64"><stop offset="0.000" stop-color="#ece83e"/><stop offset="0.056" stop-color="#ebe33b"/><stop offset="0.111" stop-color="#e9d239"/><stop offset="0.167" stop-color="#e8b234"/><stop offset="0.222" stop-color="#e9932e"/><stop offset="0.278" stop-color="#ea7a29"/><stop offset="0.333" stop-color="#e85c23"/><stop offset="0.389" stop-color="#d93542"/><stop offset="0.444" stop-color="#cb308d"/><stop offset="0.500" stop-color="#bc2aaa"/><stop offset="0.556" stop-color="#a524b0"/><stop offset="0.611" stop-color="#8821b0" stop-opacity="0.85"/><stop offset="0.667" stop-color="#6a1aaa" stop-opacity="0.59"/><stop offset="0.722" stop-color="#4f12a8" stop-opacity="0.40"/><stop offset="0.778" stop-color="#3d0ea8" stop-opacity="0.26"/><stop offset="0.833" stop-color="#3410a5" stop-opacity="0.17"/><stop offset="0.889" stop-color="#290f9d" stop-opacity="0.10"/><stop offset="0.944" stop-color="#200e96" stop-opacity="0.06"/><stop offset="1.000" stop-color="#1c0c86" stop-opacity="0.03"/></radialGradient><radialGradient id="g130" gradientUnits="userSpaceOnUse" cx="288.95" cy="491.25" r="32.00"><stop offset="0.000" stop-color="#8b21b0"/><stop offset="0.056" stop-color="#8821b0"/><stop offset="0.111" stop-color="#8120b0"/><stop offset="0.167" stop-color="#751dad"/><stop offset="0.222" stop-color="#6419a9"/><stop offset="0.278" stop-color="#5012a8"/><stop offset="0.333" stop-color="#3e0da8"/><stop offset="0.389" stop-color="#3510a5"/><stop offset="0.444" stop-color="#270f9b"/><stop offset="0.500" stop-color="#1d0d8a"/><stop offset="0.556" stop-color="#160a72"/><stop offset="0.611" stop-color="#11085f"/><stop offset="0.667" stop-color="#0d074d"/><stop offset="0.722" stop-color="#0a053f"/><stop offset="0.778" stop-color="#090535"/><stop offset="0.833" stop-color="#07042e"/><stop offset="0.889" stop-color="#060429"/><stop offset="0.944" stop-color="#060326"/><stop offset="1.000" stop-color="#050324"/></radialGradient><radialGradient id="g131" gradientUnits="userSpaceOnUse" cx="288.95" cy="491.25" r="16.64"><stop offset="0.000" stop-color="#eceb48"/><stop offset="0.056" stop-color="#ece93f"/><stop offset="0.111" stop-color="#ead83a"/><stop offset="0.167" stop-color="#e8b935"/><stop offset="0.222" stop-color="#e8972f"/><stop offset="0.278" stop-color="#ea7d2a"/><stop offset="0.333" stop-color="#e95f24"/><stop offset="0.389" stop-color="#db383c"/><stop offset="0.444" stop-color="#cc308a"/><stop offset="0.500" stop-color="#bd2aa9"/><stop offset="0.556" stop-color="#a624b0"/><stop offset="0.611" stop-color="#8921b0" stop-opacity="0.87"/><stop offset="0.667" stop-color="#6b1bab" stop-opacity="0.61"/><stop offset="0.722" stop-color="#4f12a8" stop-opacity="0.41"/><stop offset="0.778" stop-color="#3d0da8" stop-opacity="0.27"/><stop offset="0.833" stop-color="#3410a5" stop-opacity="0.17"/><stop offset="0.889" stop-color="#290f9d" stop-opacity="0.10"/><stop offset="0.944" stop-color="#200e96" stop-opacity="0.06"/><stop offset="1.000" stop-color="#1c0c86" stop-opacity="0.04"/></radialGradient><radialGradient id="g132" gradientUnits="userSpaceOnUse" cx="337.19" cy="492.62" r="33.60"><stop offset="0.000" stop-color="#8b21b0"/><stop offset="0.056" stop-color="#8821b0"/><stop offset="0.111" stop-color="#8120b0"/><stop offset="0.167" stop-color="#751dad"/><stop offset="0.222" stop-color="#6419a9"/><stop offset="0.278" stop-color="#5012a8"/><stop offset="0.333" stop-color="#3e0da8"/><stop offset="0.389" stop-color="#3510a5"/><stop offset="0.444" stop-color="#270f9b"/><stop offset="0.500" stop-color="#1d0d8a"/><stop offset="0.556" stop-color="#160a72"/><stop offset="0.611" stop-color="#11085f"/><stop offset="0.667" stop-color="#0d074d"/><stop offset="0.722" stop-color="#0a053f"/><stop offset="0.778" stop-color="#090535"/><stop offset="0.833" stop-color="#07042e"/><stop offset="0.889" stop-color="#060429"/><stop offset="0.944" stop-color="#060326"/><stop offset="1.000" stop-color="#050324"/></radialGradient><radialGradient id="g133" gradientUnits="userSpaceOnUse" cx="337.19" cy="492.62" r="17.60"><stop offset="0.000" stop-color="#eced53"/><stop offset="0.056" stop-color="#eceb49"/><stop offset="0.111" stop-color="#ebde3b"/><stop offset="0.167" stop-color="#e8c036"/><stop offset="0.222" stop-color="#e89a30"/><stop offset="0.278" stop-color="#ea802a"/><stop offset="0.333" stop-color="#e96224"/><stop offset="0.389" stop-color="#dd3a37"/><stop offset="0.444" stop-color="#cd3088"/><stop offset="0.500" stop-color="#be2ba8"/><stop offset="0.556" stop-color="#a624b0"/><stop offset="0.611" stop-color="#8921b0" stop-opacity="0.89"/><stop offset="0.667" stop-color="#6b1bab" stop-opacity="0.62"/><stop offset="0.722" stop-color="#4f12a8" stop-opacity="0.42"/><stop offset="0.778" stop-color="#3d0ea8" stop-opacity="0.27"/><stop offset="0.833" stop-color="#3410a5" stop-opacity="0.17"/><stop offset="0.889" stop-color="#290f9d" stop-opacity="0.11"/><stop offset="0.944" stop-color="#200e96" stop-opacity="0.06"/><stop offset="1.000" stop-color="#1b0c84" stop-opacity="0.04"/></radialGradient><radialGradient id="g134" gradientUnits="userSpaceOnUse" cx="385.90" cy="492.16" r="35.20"><stop offset="0.000" stop-color="#8b21b0"/><stop offset="0.056" stop-color="#8821b0"/><stop offset="0.111" stop-color="#8120b0"/><stop offset="0.167" stop-color="#751dad"/><stop offset="0.222" stop-color="#6419a9"/><stop offset="0.278" stop-color="#5012a8"/><stop offset="0.333" stop-color="#3e0da8"/><stop offset="0.389" stop-color="#3510a5"/><stop offset="0.444" stop-color="#270f9b"/><stop offset="0.500" stop-color="#1d0d8a"/><stop offset="0.556" stop-color="#160a72"/><stop offset="0.611" stop-color="#11085f"/><stop offset="0.667" stop-color="#0d074d"/><stop offset="0.722" stop-color="#0a053f"/><stop offset="0.778" stop-color="#090535"/><stop offset="0.833" stop-color="#07042e"/><stop offset="0.889" stop-color="#060429"/><stop offset="0.944" stop-color="#060326"/><stop offset="1.000" stop-color="#050324"/></radialGradient><radialGradient id="g135" gradientUnits="userSpaceOnUse" cx="385.90" cy="492.16" r="19.20"><stop offset="0.000" stop-color="#eef174"/><stop offset="0.056" stop-color="#ecef5d"/><stop offset="0.111" stop-color="#ece940"/><stop offset="0.167" stop-color="#e8cd38"/><stop offset="0.222" stop-color="#e8a332"/><stop offset="0.278" stop-color="#ea842b"/><stop offset="0.333" stop-color="#e96626"/><stop offset="0.389" stop-color="#e03e2f"/><stop offset="0.444" stop-color="#cd3085"/><stop offset="0.500" stop-color="#be2ba8"/><stop offset="0.556" stop-color="#a624b0"/><stop offset="0.611" stop-color="#8821b0" stop-opacity="0.92"/><stop offset="0.667" stop-color="#671aaa" stop-opacity="0.64"/><stop offset="0.722" stop-color="#4b10a8" stop-opacity="0.43"/><stop offset="0.778" stop-color="#3b0ea8" stop-opacity="0.28"/><stop offset="0.833" stop-color="#300fa2" stop-opacity="0.18"/><stop offset="0.889" stop-color="#250e9a" stop-opacity="0.11"/><stop offset="0.944" stop-color="#1d0d8c" stop-opacity="0.06"/><stop offset="1.000" stop-color="#190b7b" stop-opacity="0.04"/></radialGradient><linearGradient id="cbar" x1="0" y1="0" x2="0" y2="1"><stop offset="0.0000" stop-color="#fffffa"/><stop offset="0.0100" stop-color="#fdfff5"/><stop offset="0.0390" stop-color="#f2f4b0"/><stop offset="0.0670" stop-color="#ecf060"/><stop offset="0.1020" stop-color="#ece83c"/><stop offset="0.1440" stop-color="#e8cc38"/><stop offset="0.1790" stop-color="#e8b034"/><stop offset="0.2140" stop-color="#e89a30"/><stop offset="0.2460" stop-color="#ea8c2c"/><stop offset="0.3160" stop-color="#ea7028"/><stop offset="0.3610" stop-color="#e85822"/><stop offset="0.3930" stop-color="#e44422"/><stop offset="0.4200" stop-color="#d83444"/><stop offset="0.4550" stop-color="#d0307a"/><stop offset="0.4950" stop-color="#c8309a"/><stop offset="0.5470" stop-color="#b828b0"/><stop offset="0.5980" stop-color="#9c22b0"/><stop offset="0.6340" stop-color="#8020b0"/><stop offset="0.6690" stop-color="#6018a8"/><stop offset="0.7020" stop-color="#400ca8"/><stop offset="0.7230" stop-color="#3810a8"/><stop offset="0.7570" stop-color="#200e96"/><stop offset="0.7920" stop-color="#10085c"/><stop offset="0.8200" stop-color="#050322"/><stop offset="0.8300" stop-color="#020208"/><stop offset="1.0000" stop-color="#000003"/></linearGradient></defs>
<text x="0.50" y="18.40" font-size="25" text-anchor="start" fill="#000" >a</text>
<rect x="72.20" y="2.00" width="44.20" height="24.00" fill="#e0e1e0" stroke="#000" stroke-width="1.3" />
<text x="94.15" y="20.50" font-size="13.6" text-anchor="middle" fill="#000" >0s</text>
<rect x="120.90" y="2.00" width="44.20" height="24.00" fill="#e0e1e0" stroke="#000" stroke-width="1.3" />
<text x="142.85" y="20.50" font-size="13.6" text-anchor="middle" fill="#000" >30s</text>
<rect x="169.60" y="2.00" width="44.20" height="24.00" fill="#e0e1e0" stroke="#000" stroke-width="1.3" />
<text x="191.55" y="20.50" font-size="13.6" text-anchor="middle" fill="#000" >60s</text>
<rect x="218.30" y="2.00" width="44.20" height="24.00" fill="#e0e1e0" stroke="#000" stroke-width="1.3" />
<text x="240.25" y="20.50" font-size="13.6" text-anchor="middle" fill="#000" >90s</text>
<rect x="267.00" y="2.00" width="44.20" height="24.00" fill="#e0e1e0" stroke="#000" stroke-width="1.3" />
<text x="288.95" y="20.50" font-size="13.6" text-anchor="middle" fill="#000" >120s</text>
<rect x="315.70" y="2.00" width="44.20" height="24.00" fill="#e0e1e0" stroke="#000" stroke-width="1.3" />
<text x="337.65" y="20.50" font-size="13.6" text-anchor="middle" fill="#000" >150s</text>
<rect x="364.40" y="2.00" width="44.20" height="24.00" fill="#e0e1e0" stroke="#000" stroke-width="1.3" />
<text x="386.35" y="20.50" font-size="13.6" text-anchor="middle" fill="#000" >180s</text>
<rect x="18.60" y="30.70" width="24.90" height="93.20" fill="#e0e1e0" stroke="#000" stroke-width="1.3" />
<text x="31.80" y="77.30" font-size="13.4" text-anchor="middle" transform="rotate(-90 31.80 77.30)" dy="4.6">PVA</text>
<rect x="43.50" y="30.70" width="24.00" height="44.50" fill="#e0e1e0" stroke="#000" stroke-width="1.3" />
<text x="56.60" y="53.65" font-size="13.3" text-anchor="middle" transform="rotate(-90 56.60 53.65)" dy="4.6">0.5W</text>
<rect x="43.50" y="79.40" width="24.00" height="44.50" fill="#e0e1e0" stroke="#000" stroke-width="1.3" />
<text x="56.60" y="102.35" font-size="13.3" text-anchor="middle" transform="rotate(-90 56.60 102.35)" dy="4.6">0.8W</text>
<rect x="18.60" y="128.10" width="24.90" height="93.20" fill="#e0e1e0" stroke="#000" stroke-width="1.3" />
<text x="31.80" y="174.70" font-size="13.4" text-anchor="middle" transform="rotate(-90 31.80 174.70)" dy="4.6">PMS</text>
<rect x="43.50" y="128.10" width="24.00" height="44.50" fill="#e0e1e0" stroke="#000" stroke-width="1.3" />
<text x="56.60" y="151.05" font-size="13.3" text-anchor="middle" transform="rotate(-90 56.60 151.05)" dy="4.6">0.5W</text>
<rect x="43.50" y="176.80" width="24.00" height="44.50" fill="#e0e1e0" stroke="#000" stroke-width="1.3" />
<text x="56.60" y="199.75" font-size="13.3" text-anchor="middle" transform="rotate(-90 56.60 199.75)" dy="4.6">0.8W</text>
<rect x="18.60" y="225.50" width="24.90" height="93.20" fill="#e0e1e0" stroke="#000" stroke-width="1.3" />
<text x="31.80" y="272.10" font-size="13.4" text-anchor="middle" transform="rotate(-90 31.80 272.10)" dy="4.6">PTMS</text>
<rect x="43.50" y="225.50" width="24.00" height="44.50" fill="#e0e1e0" stroke="#000" stroke-width="1.3" />
<text x="56.60" y="248.45" font-size="13.3" text-anchor="middle" transform="rotate(-90 56.60 248.45)" dy="4.6">0.5W</text>
<rect x="43.50" y="274.20" width="24.00" height="44.50" fill="#e0e1e0" stroke="#000" stroke-width="1.3" />
<text x="56.60" y="297.15" font-size="13.3" text-anchor="middle" transform="rotate(-90 56.60 297.15)" dy="4.6">0.8W</text>
<rect x="18.60" y="322.90" width="24.90" height="93.20" fill="#e0e1e0" stroke="#000" stroke-width="1.3" />
<text x="31.80" y="369.50" font-size="13.4" text-anchor="middle" transform="rotate(-90 31.80 369.50)" dy="4.6">PIMS</text>
<rect x="43.50" y="322.90" width="24.00" height="44.50" fill="#e0e1e0" stroke="#000" stroke-width="1.3" />
<text x="56.60" y="345.85" font-size="13.3" text-anchor="middle" transform="rotate(-90 56.60 345.85)" dy="4.6">0.5W</text>
<rect x="43.50" y="371.60" width="24.00" height="44.50" fill="#e0e1e0" stroke="#000" stroke-width="1.3" />
<text x="56.60" y="394.55" font-size="13.3" text-anchor="middle" transform="rotate(-90 56.60 394.55)" dy="4.6">0.8W</text>
<rect x="18.60" y="420.30" width="24.90" height="93.20" fill="#e0e1e0" stroke="#000" stroke-width="1.3" />
<text x="31.80" y="466.90" font-size="13.4" text-anchor="middle" transform="rotate(-90 31.80 466.90)" dy="4.6">PTIMS</text>
<rect x="43.50" y="420.30" width="24.00" height="44.50" fill="#e0e1e0" stroke="#000" stroke-width="1.3" />
<text x="56.60" y="443.25" font-size="13.3" text-anchor="middle" transform="rotate(-90 56.60 443.25)" dy="4.6">0.5W</text>
<rect x="43.50" y="469.00" width="24.00" height="44.50" fill="#e0e1e0" stroke="#000" stroke-width="1.3" />
<text x="56.60" y="491.95" font-size="13.3" text-anchor="middle" transform="rotate(-90 56.60 491.95)" dy="4.6">0.8W</text>
<rect x="71.40" y="30.20" width="45.5" height="45.5" fill="#010107"/>
<rect x="71.40" y="30.20" width="45.5" height="45.5" fill="url(#g1)"/>
<rect x="120.10" y="30.20" width="45.5" height="45.5" fill="#010107"/>
<rect x="120.10" y="30.20" width="45.5" height="45.5" fill="url(#g2)"/>
<rect x="168.80" y="30.20" width="45.5" height="45.5" fill="#010107"/>
<rect x="168.80" y="30.20" width="45.5" height="45.5" fill="url(#g3)"/>
<rect x="217.50" y="30.20" width="45.5" height="45.5" fill="#010107"/>
<rect x="217.50" y="30.20" width="45.5" height="45.5" fill="url(#g4)"/>
<rect x="266.20" y="30.20" width="45.5" height="45.5" fill="#010107"/>
<rect x="266.20" y="30.20" width="45.5" height="45.5" fill="url(#g5)"/>
<rect x="314.90" y="30.20" width="45.5" height="45.5" fill="#010107"/>
<rect x="314.90" y="30.20" width="45.5" height="45.5" fill="url(#g6)"/>
<rect x="363.60" y="30.20" width="45.5" height="45.5" fill="#010107"/>
<rect x="363.60" y="30.20" width="45.5" height="45.5" fill="url(#g7)"/>
<rect x="71.40" y="78.90" width="45.5" height="45.5" fill="#010107"/>
<rect x="71.40" y="78.90" width="45.5" height="45.5" fill="url(#g8)"/>
<rect x="71.40" y="78.90" width="45.5" height="45.5" fill="url(#g9)"/>
<rect x="120.10" y="78.90" width="45.5" height="45.5" fill="#010107"/>
<rect x="120.10" y="78.90" width="45.5" height="45.5" fill="url(#g10)"/>
<rect x="120.10" y="78.90" width="45.5" height="45.5" fill="url(#g11)"/>
<rect x="168.80" y="78.90" width="45.5" height="45.5" fill="#010107"/>
<rect x="168.80" y="78.90" width="45.5" height="45.5" fill="url(#g12)"/>
<rect x="168.80" y="78.90" width="45.5" height="45.5" fill="url(#g13)"/>
<rect x="217.50" y="78.90" width="45.5" height="45.5" fill="#010107"/>
<rect x="217.50" y="78.90" width="45.5" height="45.5" fill="url(#g14)"/>
<rect x="217.50" y="78.90" width="45.5" height="45.5" fill="url(#g15)"/>
<rect x="266.20" y="78.90" width="45.5" height="45.5" fill="#010107"/>
<rect x="266.20" y="78.90" width="45.5" height="45.5" fill="url(#g16)"/>
<rect x="266.20" y="78.90" width="45.5" height="45.5" fill="url(#g17)"/>
<rect x="314.90" y="78.90" width="45.5" height="45.5" fill="#010107"/>
<rect x="314.90" y="78.90" width="45.5" height="45.5" fill="url(#g18)"/>
<rect x="314.90" y="78.90" width="45.5" height="45.5" fill="url(#g19)"/>
<rect x="363.60" y="78.90" width="45.5" height="45.5" fill="#010107"/>
<rect x="363.60" y="78.90" width="45.5" height="45.5" fill="url(#g20)"/>
<rect x="363.60" y="78.90" width="45.5" height="45.5" fill="url(#g21)"/>
<rect x="71.40" y="127.60" width="45.5" height="45.5" fill="#050322"/>
<rect x="71.40" y="127.60" width="45.5" height="45.5" fill="url(#g22)"/>
<rect x="71.40" y="127.60" width="45.5" height="45.5" fill="url(#g23)"/>
<rect x="120.10" y="127.60" width="45.5" height="45.5" fill="#050322"/>
<rect x="120.10" y="127.60" width="45.5" height="45.5" fill="url(#g24)"/>
<rect x="120.10" y="127.60" width="45.5" height="45.5" fill="url(#g25)"/>
<rect x="120.10" y="127.60" width="45.5" height="45.5" fill="url(#g26)"/>
<rect x="168.80" y="127.60" width="45.5" height="45.5" fill="#050322"/>
<rect x="168.80" y="127.60" width="45.5" height="45.5" fill="url(#g27)"/>
<rect x="168.80" y="127.60" width="45.5" height="45.5" fill="url(#g28)"/>
<rect x="217.50" y="127.60" width="45.5" height="45.5" fill="#050322"/>
<rect x="217.50" y="127.60" width="45.5" height="45.5" fill="url(#g29)"/>
<rect x="217.50" y="127.60" width="45.5" height="45.5" fill="url(#g30)"/>
<rect x="266.20" y="127.60" width="45.5" height="45.5" fill="#050322"/>
<rect x="266.20" y="127.60" width="45.5" height="45.5" fill="url(#g31)"/>
<rect x="266.20" y="127.60" width="45.5" height="45.5" fill="url(#g32)"/>
<rect x="314.90" y="127.60" width="45.5" height="45.5" fill="#050322"/>
<rect x="314.90" y="127.60" width="45.5" height="45.5" fill="url(#g33)"/>
<rect x="314.90" y="127.60" width="45.5" height="45.5" fill="url(#g34)"/>
<rect x="363.60" y="127.60" width="45.5" height="45.5" fill="#050322"/>
<rect x="363.60" y="127.60" width="45.5" height="45.5" fill="url(#g35)"/>
<rect x="363.60" y="127.60" width="45.5" height="45.5" fill="url(#g36)"/>
<rect x="71.40" y="176.30" width="45.5" height="45.5" fill="#020207"/>
<rect x="71.40" y="176.30" width="45.5" height="45.5" fill="url(#g37)"/>
<rect x="120.10" y="176.30" width="45.5" height="45.5" fill="#020207"/>
<rect x="120.10" y="176.30" width="45.5" height="45.5" fill="url(#g38)"/>
<rect x="120.10" y="176.30" width="45.5" height="45.5" fill="url(#g39)"/>
<rect x="168.80" y="176.30" width="45.5" height="45.5" fill="#020207"/>
<rect x="168.80" y="176.30" width="45.5" height="45.5" fill="url(#g40)"/>
<rect x="168.80" y="176.30" width="45.5" height="45.5" fill="url(#g41)"/>
<rect x="217.50" y="176.30" width="45.5" height="45.5" fill="#020207"/>
<rect x="217.50" y="176.30" width="45.5" height="45.5" fill="url(#g42)"/>
<rect x="217.50" y="176.30" width="45.5" height="45.5" fill="url(#g43)"/>
<rect x="266.20" y="176.30" width="45.5" height="45.5" fill="#020207"/>
<rect x="266.20" y="176.30" width="45.5" height="45.5" fill="url(#g44)"/>
<rect x="266.20" y="176.30" width="45.5" height="45.5" fill="url(#g45)"/>
<rect x="314.90" y="176.30" width="45.5" height="45.5" fill="#020207"/>
<rect x="314.90" y="176.30" width="45.5" height="45.5" fill="url(#g46)"/>
<rect x="314.90" y="176.30" width="45.5" height="45.5" fill="url(#g47)"/>
<rect x="363.60" y="176.30" width="45.5" height="45.5" fill="#020207"/>
<rect x="363.60" y="176.30" width="45.5" height="45.5" fill="url(#g48)"/>
<rect x="363.60" y="176.30" width="45.5" height="45.5" fill="url(#g49)"/>
<rect x="71.40" y="225.00" width="45.5" height="45.5" fill="#030215"/>
<rect x="71.40" y="225.00" width="45.5" height="45.5" fill="url(#g50)"/>
<rect x="120.10" y="225.00" width="45.5" height="45.5" fill="#050322"/>
<rect x="120.10" y="225.00" width="45.5" height="45.5" fill="url(#g51)"/>
<rect x="120.10" y="225.00" width="45.5" height="45.5" fill="url(#g52)"/>
<rect x="168.80" y="225.00" width="45.5" height="45.5" fill="#050322"/>
<rect x="168.80" y="225.00" width="45.5" height="45.5" fill="url(#g53)"/>
<rect x="168.80" y="225.00" width="45.5" height="45.5" fill="url(#g54)"/>
<rect x="217.50" y="225.00" width="45.5" height="45.5" fill="#050322"/>
<rect x="217.50" y="225.00" width="45.5" height="45.5" fill="url(#g55)"/>
<rect x="217.50" y="225.00" width="45.5" height="45.5" fill="url(#g56)"/>
<rect x="266.20" y="225.00" width="45.5" height="45.5" fill="#050322"/>
<rect x="266.20" y="225.00" width="45.5" height="45.5" fill="url(#g57)"/>
<rect x="266.20" y="225.00" width="45.5" height="45.5" fill="url(#g58)"/>
<rect x="314.90" y="225.00" width="45.5" height="45.5" fill="#050322"/>
<rect x="314.90" y="225.00" width="45.5" height="45.5" fill="url(#g59)"/>
<rect x="314.90" y="225.00" width="45.5" height="45.5" fill="url(#g60)"/>
<rect x="363.60" y="225.00" width="45.5" height="45.5" fill="#050322"/>
<rect x="363.60" y="225.00" width="45.5" height="45.5" fill="url(#g61)"/>
<rect x="363.60" y="225.00" width="45.5" height="45.5" fill="url(#g62)"/>
<rect x="71.40" y="273.70" width="45.5" height="45.5" fill="#020207"/>
<rect x="71.40" y="273.70" width="45.5" height="45.5" fill="url(#g63)"/>
<rect x="71.40" y="273.70" width="45.5" height="45.5" fill="url(#g64)"/>
<rect x="120.10" y="273.70" width="45.5" height="45.5" fill="#020207"/>
<rect x="120.10" y="273.70" width="45.5" height="45.5" fill="url(#g65)"/>
<rect x="120.10" y="273.70" width="45.5" height="45.5" fill="url(#g66)"/>
<rect x="168.80" y="273.70" width="45.5" height="45.5" fill="#020207"/>
<rect x="168.80" y="273.70" width="45.5" height="45.5" fill="url(#g67)"/>
<rect x="168.80" y="273.70" width="45.5" height="45.5" fill="url(#g68)"/>
<rect x="217.50" y="273.70" width="45.5" height="45.5" fill="#020207"/>
<rect x="217.50" y="273.70" width="45.5" height="45.5" fill="url(#g69)"/>
<rect x="217.50" y="273.70" width="45.5" height="45.5" fill="url(#g70)"/>
<rect x="266.20" y="273.70" width="45.5" height="45.5" fill="#020207"/>
<rect x="266.20" y="273.70" width="45.5" height="45.5" fill="url(#g71)"/>
<rect x="266.20" y="273.70" width="45.5" height="45.5" fill="url(#g72)"/>
<rect x="314.90" y="273.70" width="45.5" height="45.5" fill="#020207"/>
<rect x="314.90" y="273.70" width="45.5" height="45.5" fill="url(#g73)"/>
<rect x="314.90" y="273.70" width="45.5" height="45.5" fill="url(#g74)"/>
<rect x="363.60" y="273.70" width="45.5" height="45.5" fill="#020207"/>
<rect x="363.60" y="273.70" width="45.5" height="45.5" fill="url(#g75)"/>
<rect x="363.60" y="273.70" width="45.5" height="45.5" fill="url(#g76)"/>
<rect x="71.40" y="322.40" width="45.5" height="45.5" fill="#020208"/>
<rect x="71.40" y="322.40" width="45.5" height="45.5" fill="url(#g77)"/>
<rect x="120.10" y="322.40" width="45.5" height="45.5" fill="#020208"/>
<rect x="120.10" y="322.40" width="45.5" height="45.5" fill="url(#g78)"/>
<rect x="120.10" y="322.40" width="45.5" height="45.5" fill="url(#g79)"/>
<rect x="168.80" y="322.40" width="45.5" height="45.5" fill="#020208"/>
<rect x="168.80" y="322.40" width="45.5" height="45.5" fill="url(#g80)"/>
<rect x="168.80" y="322.40" width="45.5" height="45.5" fill="url(#g81)"/>
<rect x="217.50" y="322.40" width="45.5" height="45.5" fill="#020208"/>
<rect x="217.50" y="322.40" width="45.5" height="45.5" fill="url(#g82)"/>
<rect x="217.50" y="322.40" width="45.5" height="45.5" fill="url(#g83)"/>
<rect x="266.20" y="322.40" width="45.5" height="45.5" fill="#020208"/>
<rect x="266.20" y="322.40" width="45.5" height="45.5" fill="url(#g84)"/>
<rect x="266.20" y="322.40" width="45.5" height="45.5" fill="url(#g85)"/>
<rect x="314.90" y="322.40" width="45.5" height="45.5" fill="#020208"/>
<rect x="314.90" y="322.40" width="45.5" height="45.5" fill="url(#g86)"/>
<rect x="314.90" y="322.40" width="45.5" height="45.5" fill="url(#g87)"/>
<rect x="363.60" y="322.40" width="45.5" height="45.5" fill="#020208"/>
<rect x="363.60" y="322.40" width="45.5" height="45.5" fill="url(#g88)"/>
<rect x="363.60" y="322.40" width="45.5" height="45.5" fill="url(#g89)"/>
<rect x="71.40" y="371.10" width="45.5" height="45.5" fill="#020207"/>
<rect x="71.40" y="371.10" width="45.5" height="45.5" fill="url(#g90)"/>
<rect x="120.10" y="371.10" width="45.5" height="45.5" fill="#020207"/>
<rect x="120.10" y="371.10" width="45.5" height="45.5" fill="url(#g91)"/>
<rect x="120.10" y="371.10" width="45.5" height="45.5" fill="url(#g92)"/>
<rect x="168.80" y="371.10" width="45.5" height="45.5" fill="#020207"/>
<rect x="168.80" y="371.10" width="45.5" height="45.5" fill="url(#g93)"/>
<rect x="168.80" y="371.10" width="45.5" height="45.5" fill="url(#g94)"/>
<rect x="217.50" y="371.10" width="45.5" height="45.5" fill="#020207"/>
<rect x="217.50" y="371.10" width="45.5" height="45.5" fill="url(#g95)"/>
<rect x="217.50" y="371.10" width="45.5" height="45.5" fill="url(#g96)"/>
<rect x="266.20" y="371.10" width="45.5" height="45.5" fill="#020207"/>
<rect x="266.20" y="371.10" width="45.5" height="45.5" fill="url(#g97)"/>
<rect x="266.20" y="371.10" width="45.5" height="45.5" fill="url(#g98)"/>
<rect x="314.90" y="371.10" width="45.5" height="45.5" fill="#020207"/>
<rect x="314.90" y="371.10" width="45.5" height="45.5" fill="url(#g99)"/>
<rect x="314.90" y="371.10" width="45.5" height="45.5" fill="url(#g100)"/>
<rect x="363.60" y="371.10" width="45.5" height="45.5" fill="#020207"/>
<rect x="363.60" y="371.10" width="45.5" height="45.5" fill="url(#g101)"/>
<rect x="363.60" y="371.10" width="45.5" height="45.5" fill="url(#g102)"/>
<rect x="71.40" y="419.80" width="45.5" height="45.5" fill="#090537"/>
<rect x="71.40" y="419.80" width="45.5" height="45.5" fill="url(#g103)"/>
<rect x="71.40" y="419.80" width="45.5" height="45.5" fill="url(#g104)"/>
<rect x="120.10" y="419.80" width="45.5" height="45.5" fill="#090537"/>
<rect x="120.10" y="419.80" width="45.5" height="45.5" fill="url(#g105)"/>
<rect x="120.10" y="419.80" width="45.5" height="45.5" fill="url(#g106)"/>
<rect x="120.10" y="419.80" width="45.5" height="45.5" fill="url(#g107)"/>
<rect x="168.80" y="419.80" width="45.5" height="45.5" fill="#090537"/>
<rect x="168.80" y="419.80" width="45.5" height="45.5" fill="url(#g108)"/>
<rect x="168.80" y="419.80" width="45.5" height="45.5" fill="url(#g109)"/>
<rect x="168.80" y="419.80" width="45.5" height="45.5" fill="url(#g110)"/>
<rect x="217.50" y="419.80" width="45.5" height="45.5" fill="#090537"/>
<rect x="217.50" y="419.80" width="45.5" height="45.5" fill="url(#g111)"/>
<rect x="217.50" y="419.80" width="45.5" height="45.5" fill="url(#g112)"/>
<rect x="217.50" y="419.80" width="45.5" height="45.5" fill="url(#g113)"/>
<rect x="266.20" y="419.80" width="45.5" height="45.5" fill="#090537"/>
<rect x="266.20" y="419.80" width="45.5" height="45.5" fill="url(#g114)"/>
<rect x="266.20" y="419.80" width="45.5" height="45.5" fill="url(#g115)"/>
<rect x="266.20" y="419.80" width="45.5" height="45.5" fill="url(#g116)"/>
<rect x="314.90" y="419.80" width="45.5" height="45.5" fill="#090537"/>
<rect x="314.90" y="419.80" width="45.5" height="45.5" fill="url(#g117)"/>
<rect x="314.90" y="419.80" width="45.5" height="45.5" fill="url(#g118)"/>
<rect x="314.90" y="419.80" width="45.5" height="45.5" fill="url(#g119)"/>
<rect x="363.60" y="419.80" width="45.5" height="45.5" fill="#090537"/>
<rect x="363.60" y="419.80" width="45.5" height="45.5" fill="url(#g120)"/>
<rect x="363.60" y="419.80" width="45.5" height="45.5" fill="url(#g121)"/>
<rect x="363.60" y="419.80" width="45.5" height="45.5" fill="url(#g122)"/>
<rect x="71.40" y="468.50" width="45.5" height="45.5" fill="#050322"/>
<rect x="71.40" y="468.50" width="45.5" height="45.5" fill="url(#g123)"/>
<rect x="120.10" y="468.50" width="45.5" height="45.5" fill="#050322"/>
<rect x="120.10" y="468.50" width="45.5" height="45.5" fill="url(#g124)"/>
<rect x="120.10" y="468.50" width="45.5" height="45.5" fill="url(#g125)"/>
<rect x="168.80" y="468.50" width="45.5" height="45.5" fill="#050322"/>
<rect x="168.80" y="468.50" width="45.5" height="45.5" fill="url(#g126)"/>
<rect x="168.80" y="468.50" width="45.5" height="45.5" fill="url(#g127)"/>
<rect x="217.50" y="468.50" width="45.5" height="45.5" fill="#050322"/>
<rect x="217.50" y="468.50" width="45.5" height="45.5" fill="url(#g128)"/>
<rect x="217.50" y="468.50" width="45.5" height="45.5" fill="url(#g129)"/>
<rect x="266.20" y="468.50" width="45.5" height="45.5" fill="#050322"/>
<rect x="266.20" y="468.50" width="45.5" height="45.5" fill="url(#g130)"/>
<rect x="266.20" y="468.50" width="45.5" height="45.5" fill="url(#g131)"/>
<rect x="314.90" y="468.50" width="45.5" height="45.5" fill="#050322"/>
<rect x="314.90" y="468.50" width="45.5" height="45.5" fill="url(#g132)"/>
<rect x="314.90" y="468.50" width="45.5" height="45.5" fill="url(#g133)"/>
<rect x="363.60" y="468.50" width="45.5" height="45.5" fill="#050322"/>
<rect x="363.60" y="468.50" width="45.5" height="45.5" fill="url(#g134)"/>
<rect x="363.60" y="468.50" width="45.5" height="45.5" fill="url(#g135)"/>
<rect x="417.70" y="30.90" width="45.60" height="482.40" fill="url(#cbar)" stroke="#1a1a1a" stroke-width="1.4" />
<text x="441.70" y="28.40" font-size="13.1" text-anchor="middle" fill="#000" >48.0 °C</text>
<text x="441.70" y="527.60" font-size="13.1" text-anchor="middle" fill="#000" >25.0 °C</text>
<text x="470.30" y="22.20" font-size="25" text-anchor="start" fill="#000" >b</text>
<rect x="517.20" y="12.60" width="159.50" height="143.20" fill="none" stroke="#000" stroke-width="1.65"/>
<line x1="512.20" y1="12.80" x2="517.20" y2="12.80" stroke="#000" stroke-width="1.5" />
<text x="510.90" y="16.70" font-size="11.5" text-anchor="end" fill="#000" >50</text>
<line x1="512.20" y1="70.00" x2="517.20" y2="70.00" stroke="#000" stroke-width="1.5" />
<text x="510.90" y="73.90" font-size="11.5" text-anchor="end" fill="#000" >40</text>
<line x1="512.20" y1="127.20" x2="517.20" y2="127.20" stroke="#000" stroke-width="1.5" />
<text x="510.90" y="131.10" font-size="11.5" text-anchor="end" fill="#000" >30</text>
<line x1="517.20" y1="155.80" x2="517.20" y2="161.40" stroke="#000" stroke-width="1.5" />
<text x="517.20" y="174.00" font-size="11.5" text-anchor="middle" fill="#000" >0s</text>
<line x1="542.37" y1="155.80" x2="542.37" y2="161.40" stroke="#000" stroke-width="1.5" />
<text x="542.37" y="174.00" font-size="11.5" text-anchor="middle" fill="#000" >30s</text>
<line x1="567.53" y1="155.80" x2="567.53" y2="161.40" stroke="#000" stroke-width="1.5" />
<text x="567.53" y="174.00" font-size="11.5" text-anchor="middle" fill="#000" >60s</text>
<line x1="592.70" y1="155.80" x2="592.70" y2="161.40" stroke="#000" stroke-width="1.5" />
<text x="592.70" y="174.00" font-size="11.5" text-anchor="middle" fill="#000" >90s</text>
<line x1="617.87" y1="155.80" x2="617.87" y2="161.40" stroke="#000" stroke-width="1.5" />
<text x="617.87" y="174.00" font-size="11.5" text-anchor="middle" fill="#000" >120s</text>
<line x1="643.03" y1="155.80" x2="643.03" y2="161.40" stroke="#000" stroke-width="1.5" />
<text x="643.03" y="174.00" font-size="11.5" text-anchor="middle" fill="#000" >150s</text>
<line x1="668.20" y1="155.80" x2="668.20" y2="161.40" stroke="#000" stroke-width="1.5" />
<text x="668.20" y="174.00" font-size="11.5" text-anchor="middle" fill="#000" >180s</text>
<polyline points="517.20,147.79 525.59,146.93 533.98,146.08 542.37,144.93 550.76,143.79 559.14,142.93 567.53,142.64 592.70,142.07 617.87,142.64 643.03,140.36 668.20,140.36" fill="none" stroke="#7a7a7a" stroke-width="1.25" stroke-linejoin="round"/>
<line x1="525.59" y1="121.48" x2="525.59" y2="114.88" stroke="#a6e0a0" stroke-width="1.3" />
<line x1="523.09" y1="114.88" x2="528.09" y2="114.88" stroke="#a6e0a0" stroke-width="1.3" />
<line x1="533.98" y1="110.61" x2="533.98" y2="104.01" stroke="#a6e0a0" stroke-width="1.3" />
<line x1="531.48" y1="104.01" x2="536.48" y2="104.01" stroke="#a6e0a0" stroke-width="1.3" />
<line x1="542.37" y1="96.88" x2="542.37" y2="90.88" stroke="#a6e0a0" stroke-width="1.3" />
<line x1="539.87" y1="90.88" x2="544.87" y2="90.88" stroke="#a6e0a0" stroke-width="1.3" />
<line x1="550.76" y1="82.58" x2="550.76" y2="77.78" stroke="#a6e0a0" stroke-width="1.3" />
<line x1="548.26" y1="77.78" x2="553.26" y2="77.78" stroke="#a6e0a0" stroke-width="1.3" />
<line x1="559.14" y1="70.00" x2="559.14" y2="65.80" stroke="#a6e0a0" stroke-width="1.3" />
<line x1="556.64" y1="65.80" x2="561.64" y2="65.80" stroke="#a6e0a0" stroke-width="1.3" />
<line x1="567.53" y1="72.86" x2="567.53" y2="66.86" stroke="#a6e0a0" stroke-width="1.3" />
<line x1="565.03" y1="66.86" x2="570.03" y2="66.86" stroke="#a6e0a0" stroke-width="1.3" />
<line x1="592.70" y1="65.42" x2="592.70" y2="59.42" stroke="#a6e0a0" stroke-width="1.3" />
<line x1="590.20" y1="59.42" x2="595.20" y2="59.42" stroke="#a6e0a0" stroke-width="1.3" />
<line x1="617.87" y1="66.00" x2="617.87" y2="60.00" stroke="#a6e0a0" stroke-width="1.3" />
<line x1="615.37" y1="60.00" x2="620.37" y2="60.00" stroke="#a6e0a0" stroke-width="1.3" />
<polyline points="517.20,144.36 525.59,121.48 533.98,110.61 542.37,96.88 550.76,82.58 559.14,70.00 567.53,72.86 592.70,65.42 617.87,66.00 643.03,67.71 668.20,67.71" fill="none" stroke="#a6e0a0" stroke-width="1.25" stroke-linejoin="round"/>
<line x1="542.37" y1="91.74" x2="542.37" y2="85.14" stroke="#7880d6" stroke-width="1.3" />
<line x1="539.87" y1="85.14" x2="544.87" y2="85.14" stroke="#7880d6" stroke-width="1.3" />
<line x1="550.76" y1="82.01" x2="550.76" y2="77.21" stroke="#7880d6" stroke-width="1.3" />
<line x1="548.26" y1="77.21" x2="553.26" y2="77.21" stroke="#7880d6" stroke-width="1.3" />
<line x1="567.53" y1="68.28" x2="567.53" y2="62.28" stroke="#7880d6" stroke-width="1.3" />
<line x1="565.03" y1="62.28" x2="570.03" y2="62.28" stroke="#7880d6" stroke-width="1.3" />
<line x1="617.87" y1="61.42" x2="617.87" y2="55.42" stroke="#7880d6" stroke-width="1.3" />
<line x1="615.37" y1="55.42" x2="620.37" y2="55.42" stroke="#7880d6" stroke-width="1.3" />
<line x1="668.20" y1="61.99" x2="668.20" y2="55.99" stroke="#7880d6" stroke-width="1.3" />
<line x1="665.70" y1="55.99" x2="670.70" y2="55.99" stroke="#7880d6" stroke-width="1.3" />
<polyline points="517.20,151.22 525.59,122.62 533.98,111.76 542.37,91.74 550.76,82.01 559.14,79.44 567.53,68.28 592.70,64.85 617.87,61.42 643.03,64.28 668.20,61.99" fill="none" stroke="#7880d6" stroke-width="1.25" stroke-linejoin="round"/>
<line x1="517.20" y1="143.22" x2="517.20" y2="135.42" stroke="#a468cc" stroke-width="1.3" />
<line x1="514.70" y1="135.42" x2="519.70" y2="135.42" stroke="#a468cc" stroke-width="1.3" />
<line x1="550.76" y1="83.16" x2="550.76" y2="77.16" stroke="#a468cc" stroke-width="1.3" />
<line x1="548.26" y1="77.16" x2="553.26" y2="77.16" stroke="#a468cc" stroke-width="1.3" />
<line x1="643.03" y1="63.14" x2="643.03" y2="55.94" stroke="#a468cc" stroke-width="1.3" />
<line x1="640.53" y1="55.94" x2="645.53" y2="55.94" stroke="#a468cc" stroke-width="1.3" />
<line x1="668.20" y1="63.14" x2="668.20" y2="57.14" stroke="#a468cc" stroke-width="1.3" />
<line x1="665.70" y1="57.14" x2="670.70" y2="57.14" stroke="#a468cc" stroke-width="1.3" />
<polyline points="517.20,143.22 525.59,123.77 533.98,113.47 542.37,98.60 550.76,83.16 559.14,70.57 567.53,68.28 592.70,68.86 617.87,67.14 643.03,63.14 668.20,63.14" fill="none" stroke="#a468cc" stroke-width="1.25" stroke-linejoin="round"/>
<line x1="525.59" y1="124.91" x2="525.59" y2="118.91" stroke="#d2a39e" stroke-width="1.3" />
<line x1="523.09" y1="118.91" x2="528.09" y2="118.91" stroke="#d2a39e" stroke-width="1.3" />
<line x1="533.98" y1="115.47" x2="533.98" y2="109.47" stroke="#d2a39e" stroke-width="1.3" />
<line x1="531.48" y1="109.47" x2="536.48" y2="109.47" stroke="#d2a39e" stroke-width="1.3" />
<line x1="559.14" y1="71.14" x2="559.14" y2="65.14" stroke="#d2a39e" stroke-width="1.3" />
<line x1="556.64" y1="65.14" x2="561.64" y2="65.14" stroke="#d2a39e" stroke-width="1.3" />
<line x1="567.53" y1="68.28" x2="567.53" y2="62.28" stroke="#d2a39e" stroke-width="1.3" />
<line x1="565.03" y1="62.28" x2="570.03" y2="62.28" stroke="#d2a39e" stroke-width="1.3" />
<line x1="617.87" y1="67.71" x2="617.87" y2="61.71" stroke="#d2a39e" stroke-width="1.3" />
<line x1="615.37" y1="61.71" x2="620.37" y2="61.71" stroke="#d2a39e" stroke-width="1.3" />
<polyline points="517.20,145.50 525.59,124.91 533.98,115.47 542.37,100.89 550.76,84.87 559.14,71.14 567.53,68.28 592.70,68.00 617.87,67.71 643.03,69.43 668.20,66.57" fill="none" stroke="#d2a39e" stroke-width="1.25" stroke-linejoin="round"/>
<circle cx="517.20" cy="144.36" r="2.75" fill="#fff" stroke="#a6e0a0" stroke-width="1.5"/>
<circle cx="525.59" cy="121.48" r="2.75" fill="#fff" stroke="#a6e0a0" stroke-width="1.5"/>
<circle cx="533.98" cy="110.61" r="2.75" fill="#fff" stroke="#a6e0a0" stroke-width="1.5"/>
<circle cx="542.37" cy="96.88" r="2.75" fill="#fff" stroke="#a6e0a0" stroke-width="1.5"/>
<circle cx="550.76" cy="82.58" r="2.75" fill="#fff" stroke="#a6e0a0" stroke-width="1.5"/>
<circle cx="559.14" cy="70.00" r="2.75" fill="#fff" stroke="#a6e0a0" stroke-width="1.5"/>
<circle cx="567.53" cy="72.86" r="2.75" fill="#fff" stroke="#a6e0a0" stroke-width="1.5"/>
<circle cx="592.70" cy="65.42" r="2.75" fill="#fff" stroke="#a6e0a0" stroke-width="1.5"/>
<circle cx="617.87" cy="66.00" r="2.75" fill="#fff" stroke="#a6e0a0" stroke-width="1.5"/>
<circle cx="643.03" cy="67.71" r="2.75" fill="#fff" stroke="#a6e0a0" stroke-width="1.5"/>
<circle cx="668.20" cy="67.71" r="2.75" fill="#fff" stroke="#a6e0a0" stroke-width="1.5"/>
<circle cx="517.20" cy="151.22" r="2.75" fill="#fff" stroke="#7880d6" stroke-width="1.5"/>
<circle cx="525.59" cy="122.62" r="2.75" fill="#fff" stroke="#7880d6" stroke-width="1.5"/>
<circle cx="533.98" cy="111.76" r="2.75" fill="#fff" stroke="#7880d6" stroke-width="1.5"/>
<circle cx="542.37" cy="91.74" r="2.75" fill="#fff" stroke="#7880d6" stroke-width="1.5"/>
<circle cx="550.76" cy="82.01" r="2.75" fill="#fff" stroke="#7880d6" stroke-width="1.5"/>
<circle cx="559.14" cy="79.44" r="2.75" fill="#fff" stroke="#7880d6" stroke-width="1.5"/>
<circle cx="567.53" cy="68.28" r="2.75" fill="#fff" stroke="#7880d6" stroke-width="1.5"/>
<circle cx="592.70" cy="64.85" r="2.75" fill="#fff" stroke="#7880d6" stroke-width="1.5"/>
<circle cx="617.87" cy="61.42" r="2.75" fill="#fff" stroke="#7880d6" stroke-width="1.5"/>
<circle cx="643.03" cy="64.28" r="2.75" fill="#fff" stroke="#7880d6" stroke-width="1.5"/>
<circle cx="668.20" cy="61.99" r="2.75" fill="#fff" stroke="#7880d6" stroke-width="1.5"/>
<circle cx="517.20" cy="143.22" r="2.75" fill="#fff" stroke="#a468cc" stroke-width="1.5"/>
<circle cx="525.59" cy="123.77" r="2.75" fill="#fff" stroke="#a468cc" stroke-width="1.5"/>
<circle cx="533.98" cy="113.47" r="2.75" fill="#fff" stroke="#a468cc" stroke-width="1.5"/>
<circle cx="542.37" cy="98.60" r="2.75" fill="#fff" stroke="#a468cc" stroke-width="1.5"/>
<circle cx="550.76" cy="83.16" r="2.75" fill="#fff" stroke="#a468cc" stroke-width="1.5"/>
<circle cx="559.14" cy="70.57" r="2.75" fill="#fff" stroke="#a468cc" stroke-width="1.5"/>
<circle cx="567.53" cy="68.28" r="2.75" fill="#fff" stroke="#a468cc" stroke-width="1.5"/>
<circle cx="592.70" cy="68.86" r="2.75" fill="#fff" stroke="#a468cc" stroke-width="1.5"/>
<circle cx="617.87" cy="67.14" r="2.75" fill="#fff" stroke="#a468cc" stroke-width="1.5"/>
<circle cx="643.03" cy="63.14" r="2.75" fill="#fff" stroke="#a468cc" stroke-width="1.5"/>
<circle cx="668.20" cy="63.14" r="2.75" fill="#fff" stroke="#a468cc" stroke-width="1.5"/>
<circle cx="517.20" cy="145.50" r="2.75" fill="#fff" stroke="#d2a39e" stroke-width="1.5"/>
<circle cx="525.59" cy="124.91" r="2.75" fill="#fff" stroke="#d2a39e" stroke-width="1.5"/>
<circle cx="533.98" cy="115.47" r="2.75" fill="#fff" stroke="#d2a39e" stroke-width="1.5"/>
<circle cx="542.37" cy="100.89" r="2.75" fill="#fff" stroke="#d2a39e" stroke-width="1.5"/>
<circle cx="550.76" cy="84.87" r="2.75" fill="#fff" stroke="#d2a39e" stroke-width="1.5"/>
<circle cx="559.14" cy="71.14" r="2.75" fill="#fff" stroke="#d2a39e" stroke-width="1.5"/>
<circle cx="567.53" cy="68.28" r="2.75" fill="#fff" stroke="#d2a39e" stroke-width="1.5"/>
<circle cx="592.70" cy="68.00" r="2.75" fill="#fff" stroke="#d2a39e" stroke-width="1.5"/>
<circle cx="617.87" cy="67.71" r="2.75" fill="#fff" stroke="#d2a39e" stroke-width="1.5"/>
<circle cx="643.03" cy="69.43" r="2.75" fill="#fff" stroke="#d2a39e" stroke-width="1.5"/>
<circle cx="668.20" cy="66.57" r="2.75" fill="#fff" stroke="#d2a39e" stroke-width="1.5"/>
<circle cx="517.20" cy="147.79" r="2.75" fill="#fff" stroke="#7a7a7a" stroke-width="1.5"/>
<circle cx="525.59" cy="146.93" r="2.75" fill="#fff" stroke="#7a7a7a" stroke-width="1.5"/>
<circle cx="533.98" cy="146.08" r="2.75" fill="#fff" stroke="#7a7a7a" stroke-width="1.5"/>
<circle cx="542.37" cy="144.93" r="2.75" fill="#fff" stroke="#7a7a7a" stroke-width="1.5"/>
<circle cx="550.76" cy="143.79" r="2.75" fill="#fff" stroke="#7a7a7a" stroke-width="1.5"/>
<circle cx="559.14" cy="142.93" r="2.75" fill="#fff" stroke="#7a7a7a" stroke-width="1.5"/>
<circle cx="567.53" cy="142.64" r="2.75" fill="#fff" stroke="#7a7a7a" stroke-width="1.5"/>
<circle cx="592.70" cy="142.07" r="2.75" fill="#fff" stroke="#7a7a7a" stroke-width="1.5"/>
<circle cx="617.87" cy="142.64" r="2.75" fill="#fff" stroke="#7a7a7a" stroke-width="1.5"/>
<circle cx="643.03" cy="140.36" r="2.75" fill="#fff" stroke="#7a7a7a" stroke-width="1.5"/>
<circle cx="668.20" cy="140.36" r="2.75" fill="#fff" stroke="#7a7a7a" stroke-width="1.5"/>
<text x="493.40" y="76.30" font-size="13.7" text-anchor="middle" transform="rotate(-90 493.40 76.30)">Temperature (°C)</text>
<circle cx="524.60" cy="21.90" r="3.0" fill="#fff" stroke="#7a7a7a" stroke-width="1.8"/>
<text x="534.10" y="25.60" font-size="10.6" text-anchor="start" fill="#000" >PVA</text>
<circle cx="572.60" cy="21.90" r="3.0" fill="#fff" stroke="#d2a39e" stroke-width="1.8"/>
<text x="582.10" y="25.60" font-size="10.6" text-anchor="start" fill="#000" >PMS</text>
<circle cx="620.80" cy="21.90" r="3.0" fill="#fff" stroke="#a6e0a0" stroke-width="1.8"/>
<text x="630.30" y="25.60" font-size="10.6" text-anchor="start" fill="#000" >PTMS</text>
<circle cx="524.60" cy="34.40" r="3.0" fill="#fff" stroke="#7880d6" stroke-width="1.8"/>
<text x="534.10" y="38.10" font-size="10.6" text-anchor="start" fill="#000" >PIMS</text>
<circle cx="572.60" cy="34.40" r="3.0" fill="#fff" stroke="#a468cc" stroke-width="1.8"/>
<text x="582.10" y="38.10" font-size="10.6" text-anchor="start" fill="#000" >PTIMS</text>
<text x="470.40" y="198.90" font-size="25" text-anchor="start" fill="#000" >c</text>
<rect x="516.80" y="191.30" width="159.90" height="143.30" fill="none" stroke="#000" stroke-width="1.65"/>
<line x1="511.80" y1="191.32" x2="516.80" y2="191.32" stroke="#000" stroke-width="1.5" />
<text x="510.50" y="195.22" font-size="11.5" text-anchor="end" fill="#000" >55</text>
<line x1="511.80" y1="239.08" x2="516.80" y2="239.08" stroke="#000" stroke-width="1.5" />
<text x="510.50" y="242.98" font-size="11.5" text-anchor="end" fill="#000" >45</text>
<line x1="511.80" y1="286.84" x2="516.80" y2="286.84" stroke="#000" stroke-width="1.5" />
<text x="510.50" y="290.74" font-size="11.5" text-anchor="end" fill="#000" >35</text>
<line x1="511.80" y1="334.60" x2="516.80" y2="334.60" stroke="#000" stroke-width="1.5" />
<text x="510.50" y="338.50" font-size="11.5" text-anchor="end" fill="#000" >25</text>
<line x1="516.80" y1="334.60" x2="516.80" y2="340.20" stroke="#000" stroke-width="1.5" />
<text x="516.80" y="352.00" font-size="11.5" text-anchor="middle" fill="#000" >0s</text>
<line x1="541.98" y1="334.60" x2="541.98" y2="340.20" stroke="#000" stroke-width="1.5" />
<text x="541.98" y="352.00" font-size="11.5" text-anchor="middle" fill="#000" >30s</text>
<line x1="567.17" y1="334.60" x2="567.17" y2="340.20" stroke="#000" stroke-width="1.5" />
<text x="567.17" y="352.00" font-size="11.5" text-anchor="middle" fill="#000" >60s</text>
<line x1="592.35" y1="334.60" x2="592.35" y2="340.20" stroke="#000" stroke-width="1.5" />
<text x="592.35" y="352.00" font-size="11.5" text-anchor="middle" fill="#000" >90s</text>
<line x1="617.53" y1="334.60" x2="617.53" y2="340.20" stroke="#000" stroke-width="1.5" />
<text x="617.53" y="352.00" font-size="11.5" text-anchor="middle" fill="#000" >120s</text>
<line x1="642.72" y1="334.60" x2="642.72" y2="340.20" stroke="#000" stroke-width="1.5" />
<text x="642.72" y="352.00" font-size="11.5" text-anchor="middle" fill="#000" >150s</text>
<line x1="667.90" y1="334.60" x2="667.90" y2="340.20" stroke="#000" stroke-width="1.5" />
<text x="667.90" y="352.00" font-size="11.5" text-anchor="middle" fill="#000" >180s</text>
<polyline points="516.80,328.39 525.19,326.48 533.59,325.05 541.98,324.57 550.38,324.09 558.77,323.38 567.17,322.18 592.35,321.70 617.53,321.23 642.72,321.70 667.90,321.23" fill="none" stroke="#7a7a7a" stroke-width="1.25" stroke-linejoin="round"/>
<line x1="516.80" y1="321.23" x2="516.80" y2="316.73" stroke="#a6e0a0" stroke-width="1.3" />
<line x1="514.30" y1="316.73" x2="519.30" y2="316.73" stroke="#a6e0a0" stroke-width="1.3" />
<line x1="525.19" y1="294.96" x2="525.19" y2="290.46" stroke="#a6e0a0" stroke-width="1.3" />
<line x1="522.69" y1="290.46" x2="527.69" y2="290.46" stroke="#a6e0a0" stroke-width="1.3" />
<line x1="533.59" y1="269.17" x2="533.59" y2="262.42" stroke="#a6e0a0" stroke-width="1.3" />
<line x1="531.09" y1="262.42" x2="536.09" y2="262.42" stroke="#a6e0a0" stroke-width="1.3" />
<line x1="541.98" y1="259.62" x2="541.98" y2="255.12" stroke="#a6e0a0" stroke-width="1.3" />
<line x1="539.48" y1="255.12" x2="544.48" y2="255.12" stroke="#a6e0a0" stroke-width="1.3" />
<line x1="558.77" y1="243.86" x2="558.77" y2="239.36" stroke="#a6e0a0" stroke-width="1.3" />
<line x1="556.27" y1="239.36" x2="561.27" y2="239.36" stroke="#a6e0a0" stroke-width="1.3" />
<line x1="567.17" y1="240.99" x2="567.17" y2="236.49" stroke="#a6e0a0" stroke-width="1.3" />
<line x1="564.67" y1="236.49" x2="569.67" y2="236.49" stroke="#a6e0a0" stroke-width="1.3" />
<line x1="592.35" y1="238.12" x2="592.35" y2="233.62" stroke="#a6e0a0" stroke-width="1.3" />
<line x1="589.85" y1="233.62" x2="594.85" y2="233.62" stroke="#a6e0a0" stroke-width="1.3" />
<line x1="617.53" y1="237.65" x2="617.53" y2="233.15" stroke="#a6e0a0" stroke-width="1.3" />
<line x1="615.03" y1="233.15" x2="620.03" y2="233.15" stroke="#a6e0a0" stroke-width="1.3" />
<line x1="642.72" y1="237.65" x2="642.72" y2="233.15" stroke="#a6e0a0" stroke-width="1.3" />
<line x1="640.22" y1="233.15" x2="645.22" y2="233.15" stroke="#a6e0a0" stroke-width="1.3" />
<line x1="667.90" y1="236.69" x2="667.90" y2="232.19" stroke="#a6e0a0" stroke-width="1.3" />
<line x1="665.40" y1="232.19" x2="670.40" y2="232.19" stroke="#a6e0a0" stroke-width="1.3" />
<polyline points="516.80,321.23 525.19,294.96 533.59,269.17 541.98,259.62 550.38,251.98 558.77,243.86 567.17,240.99 592.35,238.12 617.53,237.65 642.72,237.65 667.90,236.69" fill="none" stroke="#a6e0a0" stroke-width="1.25" stroke-linejoin="round"/>
<line x1="525.19" y1="294.00" x2="525.19" y2="289.50" stroke="#7880d6" stroke-width="1.3" />
<line x1="522.69" y1="289.50" x2="527.69" y2="289.50" stroke="#7880d6" stroke-width="1.3" />
<line x1="533.59" y1="268.21" x2="533.59" y2="263.71" stroke="#7880d6" stroke-width="1.3" />
<line x1="531.09" y1="263.71" x2="536.09" y2="263.71" stroke="#7880d6" stroke-width="1.3" />
<line x1="541.98" y1="252.45" x2="541.98" y2="247.95" stroke="#7880d6" stroke-width="1.3" />
<line x1="539.48" y1="247.95" x2="544.48" y2="247.95" stroke="#7880d6" stroke-width="1.3" />
<line x1="550.38" y1="252.45" x2="550.38" y2="247.95" stroke="#7880d6" stroke-width="1.3" />
<line x1="547.88" y1="247.95" x2="552.88" y2="247.95" stroke="#7880d6" stroke-width="1.3" />
<line x1="558.77" y1="243.38" x2="558.77" y2="238.88" stroke="#7880d6" stroke-width="1.3" />
<line x1="556.27" y1="238.88" x2="561.27" y2="238.88" stroke="#7880d6" stroke-width="1.3" />
<polyline points="516.80,322.66 525.19,294.00 533.59,268.21 541.98,252.45 550.38,252.45 558.77,243.38 567.17,241.47 592.35,236.69 617.53,234.30 642.72,234.30 667.90,233.35" fill="none" stroke="#7880d6" stroke-width="1.25" stroke-linejoin="round"/>
<line x1="516.80" y1="323.62" x2="516.80" y2="319.12" stroke="#a468cc" stroke-width="1.3" />
<line x1="514.30" y1="319.12" x2="519.30" y2="319.12" stroke="#a468cc" stroke-width="1.3" />
<line x1="550.38" y1="250.54" x2="550.38" y2="246.04" stroke="#a468cc" stroke-width="1.3" />
<line x1="547.88" y1="246.04" x2="552.88" y2="246.04" stroke="#a468cc" stroke-width="1.3" />
<line x1="558.77" y1="242.90" x2="558.77" y2="236.15" stroke="#a468cc" stroke-width="1.3" />
<line x1="556.27" y1="236.15" x2="561.27" y2="236.15" stroke="#a468cc" stroke-width="1.3" />
<line x1="567.17" y1="241.47" x2="567.17" y2="236.97" stroke="#a468cc" stroke-width="1.3" />
<line x1="564.67" y1="236.97" x2="569.67" y2="236.97" stroke="#a468cc" stroke-width="1.3" />
<line x1="592.35" y1="237.17" x2="592.35" y2="232.67" stroke="#a468cc" stroke-width="1.3" />
<line x1="589.85" y1="232.67" x2="594.85" y2="232.67" stroke="#a468cc" stroke-width="1.3" />
<line x1="617.53" y1="232.87" x2="617.53" y2="228.37" stroke="#a468cc" stroke-width="1.3" />
<line x1="615.03" y1="228.37" x2="620.03" y2="228.37" stroke="#a468cc" stroke-width="1.3" />
<line x1="642.72" y1="233.35" x2="642.72" y2="228.85" stroke="#a468cc" stroke-width="1.3" />
<line x1="640.22" y1="228.85" x2="645.22" y2="228.85" stroke="#a468cc" stroke-width="1.3" />
<line x1="667.90" y1="231.92" x2="667.90" y2="227.42" stroke="#a468cc" stroke-width="1.3" />
<line x1="665.40" y1="227.42" x2="670.40" y2="227.42" stroke="#a468cc" stroke-width="1.3" />
<polyline points="516.80,323.62 525.19,293.53 533.59,268.69 541.98,254.36 550.38,250.54 558.77,242.90 567.17,241.47 592.35,237.17 617.53,232.87 642.72,233.35 667.90,231.92" fill="none" stroke="#a468cc" stroke-width="1.25" stroke-linejoin="round"/>
<line x1="525.19" y1="298.02" x2="525.19" y2="293.52" stroke="#d2a39e" stroke-width="1.3" />
<line x1="522.69" y1="293.52" x2="527.69" y2="293.52" stroke="#d2a39e" stroke-width="1.3" />
<line x1="550.38" y1="251.02" x2="550.38" y2="246.52" stroke="#d2a39e" stroke-width="1.3" />
<line x1="547.88" y1="246.52" x2="552.88" y2="246.52" stroke="#d2a39e" stroke-width="1.3" />
<line x1="592.35" y1="236.69" x2="592.35" y2="232.19" stroke="#d2a39e" stroke-width="1.3" />
<line x1="589.85" y1="232.19" x2="594.85" y2="232.19" stroke="#d2a39e" stroke-width="1.3" />
<line x1="642.72" y1="236.21" x2="642.72" y2="231.71" stroke="#d2a39e" stroke-width="1.3" />
<line x1="640.22" y1="231.71" x2="645.22" y2="231.71" stroke="#d2a39e" stroke-width="1.3" />
<polyline points="516.80,323.14 525.19,298.02 533.59,271.08 541.98,255.80 550.38,251.02 558.77,246.48 567.17,242.42 592.35,236.69 617.53,236.21 642.72,236.21 667.90,234.78" fill="none" stroke="#d2a39e" stroke-width="1.25" stroke-linejoin="round"/>
<circle cx="516.80" cy="321.23" r="2.75" fill="#fff" stroke="#a6e0a0" stroke-width="1.5"/>
<circle cx="525.19" cy="294.96" r="2.75" fill="#fff" stroke="#a6e0a0" stroke-width="1.5"/>
<circle cx="533.59" cy="269.17" r="2.75" fill="#fff" stroke="#a6e0a0" stroke-width="1.5"/>
<circle cx="541.98" cy="259.62" r="2.75" fill="#fff" stroke="#a6e0a0" stroke-width="1.5"/>
<circle cx="550.38" cy="251.98" r="2.75" fill="#fff" stroke="#a6e0a0" stroke-width="1.5"/>
<circle cx="558.77" cy="243.86" r="2.75" fill="#fff" stroke="#a6e0a0" stroke-width="1.5"/>
<circle cx="567.17" cy="240.99" r="2.75" fill="#fff" stroke="#a6e0a0" stroke-width="1.5"/>
<circle cx="592.35" cy="238.12" r="2.75" fill="#fff" stroke="#a6e0a0" stroke-width="1.5"/>
<circle cx="617.53" cy="237.65" r="2.75" fill="#fff" stroke="#a6e0a0" stroke-width="1.5"/>
<circle cx="642.72" cy="237.65" r="2.75" fill="#fff" stroke="#a6e0a0" stroke-width="1.5"/>
<circle cx="667.90" cy="236.69" r="2.75" fill="#fff" stroke="#a6e0a0" stroke-width="1.5"/>
<circle cx="516.80" cy="322.66" r="2.75" fill="#fff" stroke="#7880d6" stroke-width="1.5"/>
<circle cx="525.19" cy="294.00" r="2.75" fill="#fff" stroke="#7880d6" stroke-width="1.5"/>
<circle cx="533.59" cy="268.21" r="2.75" fill="#fff" stroke="#7880d6" stroke-width="1.5"/>
<circle cx="541.98" cy="252.45" r="2.75" fill="#fff" stroke="#7880d6" stroke-width="1.5"/>
<circle cx="550.38" cy="252.45" r="2.75" fill="#fff" stroke="#7880d6" stroke-width="1.5"/>
<circle cx="558.77" cy="243.38" r="2.75" fill="#fff" stroke="#7880d6" stroke-width="1.5"/>
<circle cx="567.17" cy="241.47" r="2.75" fill="#fff" stroke="#7880d6" stroke-width="1.5"/>
<circle cx="592.35" cy="236.69" r="2.75" fill="#fff" stroke="#7880d6" stroke-width="1.5"/>
<circle cx="617.53" cy="234.30" r="2.75" fill="#fff" stroke="#7880d6" stroke-width="1.5"/>
<circle cx="642.72" cy="234.30" r="2.75" fill="#fff" stroke="#7880d6" stroke-width="1.5"/>
<circle cx="667.90" cy="233.35" r="2.75" fill="#fff" stroke="#7880d6" stroke-width="1.5"/>
<circle cx="516.80" cy="323.62" r="2.75" fill="#fff" stroke="#a468cc" stroke-width="1.5"/>
<circle cx="525.19" cy="293.53" r="2.75" fill="#fff" stroke="#a468cc" stroke-width="1.5"/>
<circle cx="533.59" cy="268.69" r="2.75" fill="#fff" stroke="#a468cc" stroke-width="1.5"/>
<circle cx="541.98" cy="254.36" r="2.75" fill="#fff" stroke="#a468cc" stroke-width="1.5"/>
<circle cx="550.38" cy="250.54" r="2.75" fill="#fff" stroke="#a468cc" stroke-width="1.5"/>
<circle cx="558.77" cy="242.90" r="2.75" fill="#fff" stroke="#a468cc" stroke-width="1.5"/>
<circle cx="567.17" cy="241.47" r="2.75" fill="#fff" stroke="#a468cc" stroke-width="1.5"/>
<circle cx="592.35" cy="237.17" r="2.75" fill="#fff" stroke="#a468cc" stroke-width="1.5"/>
<circle cx="617.53" cy="232.87" r="2.75" fill="#fff" stroke="#a468cc" stroke-width="1.5"/>
<circle cx="642.72" cy="233.35" r="2.75" fill="#fff" stroke="#a468cc" stroke-width="1.5"/>
<circle cx="667.90" cy="231.92" r="2.75" fill="#fff" stroke="#a468cc" stroke-width="1.5"/>
<circle cx="516.80" cy="323.14" r="2.75" fill="#fff" stroke="#d2a39e" stroke-width="1.5"/>
<circle cx="525.19" cy="298.02" r="2.75" fill="#fff" stroke="#d2a39e" stroke-width="1.5"/>
<circle cx="533.59" cy="271.08" r="2.75" fill="#fff" stroke="#d2a39e" stroke-width="1.5"/>
<circle cx="541.98" cy="255.80" r="2.75" fill="#fff" stroke="#d2a39e" stroke-width="1.5"/>
<circle cx="550.38" cy="251.02" r="2.75" fill="#fff" stroke="#d2a39e" stroke-width="1.5"/>
<circle cx="558.77" cy="246.48" r="2.75" fill="#fff" stroke="#d2a39e" stroke-width="1.5"/>
<circle cx="567.17" cy="242.42" r="2.75" fill="#fff" stroke="#d2a39e" stroke-width="1.5"/>
<circle cx="592.35" cy="236.69" r="2.75" fill="#fff" stroke="#d2a39e" stroke-width="1.5"/>
<circle cx="617.53" cy="236.21" r="2.75" fill="#fff" stroke="#d2a39e" stroke-width="1.5"/>
<circle cx="642.72" cy="236.21" r="2.75" fill="#fff" stroke="#d2a39e" stroke-width="1.5"/>
<circle cx="667.90" cy="234.78" r="2.75" fill="#fff" stroke="#d2a39e" stroke-width="1.5"/>
<circle cx="516.80" cy="328.39" r="2.75" fill="#fff" stroke="#7a7a7a" stroke-width="1.5"/>
<circle cx="525.19" cy="326.48" r="2.75" fill="#fff" stroke="#7a7a7a" stroke-width="1.5"/>
<circle cx="533.59" cy="325.05" r="2.75" fill="#fff" stroke="#7a7a7a" stroke-width="1.5"/>
<circle cx="541.98" cy="324.57" r="2.75" fill="#fff" stroke="#7a7a7a" stroke-width="1.5"/>
<circle cx="550.38" cy="324.09" r="2.75" fill="#fff" stroke="#7a7a7a" stroke-width="1.5"/>
<circle cx="558.77" cy="323.38" r="2.75" fill="#fff" stroke="#7a7a7a" stroke-width="1.5"/>
<circle cx="567.17" cy="322.18" r="2.75" fill="#fff" stroke="#7a7a7a" stroke-width="1.5"/>
<circle cx="592.35" cy="321.70" r="2.75" fill="#fff" stroke="#7a7a7a" stroke-width="1.5"/>
<circle cx="617.53" cy="321.23" r="2.75" fill="#fff" stroke="#7a7a7a" stroke-width="1.5"/>
<circle cx="642.72" cy="321.70" r="2.75" fill="#fff" stroke="#7a7a7a" stroke-width="1.5"/>
<circle cx="667.90" cy="321.23" r="2.75" fill="#fff" stroke="#7a7a7a" stroke-width="1.5"/>
<text x="493.30" y="254.40" font-size="13.7" text-anchor="middle" transform="rotate(-90 493.30 254.40)">Temperature (°C)</text>
<circle cx="525.50" cy="199.30" r="3.0" fill="#fff" stroke="#7a7a7a" stroke-width="1.8"/>
<text x="535.00" y="203.00" font-size="10.6" text-anchor="start" fill="#000" >PVA</text>
<circle cx="572.70" cy="199.30" r="3.0" fill="#fff" stroke="#d2a39e" stroke-width="1.8"/>
<text x="582.20" y="203.00" font-size="10.6" text-anchor="start" fill="#000" >PMS</text>
<circle cx="621.70" cy="199.30" r="3.0" fill="#fff" stroke="#a6e0a0" stroke-width="1.8"/>
<text x="631.20" y="203.00" font-size="10.6" text-anchor="start" fill="#000" >PTMS</text>
<circle cx="525.50" cy="211.80" r="3.0" fill="#fff" stroke="#7880d6" stroke-width="1.8"/>
<text x="535.00" y="215.50" font-size="10.6" text-anchor="start" fill="#000" >PIMS</text>
<circle cx="572.70" cy="211.80" r="3.0" fill="#fff" stroke="#a468cc" stroke-width="1.8"/>
<text x="582.20" y="215.50" font-size="10.6" text-anchor="start" fill="#000" >PTIMS</text>
<text x="470.20" y="377.30" font-size="25" text-anchor="start" fill="#000" >d</text>
<rect x="517.00" y="370.60" width="159.60" height="143.30" fill="none" stroke="#000" stroke-width="1.65"/>
<line x1="512.00" y1="370.50" x2="517.00" y2="370.50" stroke="#000" stroke-width="1.5" />
<text x="511.00" y="374.40" font-size="11.5" text-anchor="end" fill="#000" >50</text>
<line x1="512.00" y1="396.00" x2="517.00" y2="396.00" stroke="#000" stroke-width="1.5" />
<text x="511.00" y="399.90" font-size="11.5" text-anchor="end" fill="#000" >45</text>
<line x1="512.00" y1="421.50" x2="517.00" y2="421.50" stroke="#000" stroke-width="1.5" />
<text x="511.00" y="425.40" font-size="11.5" text-anchor="end" fill="#000" >40</text>
<line x1="512.00" y1="447.00" x2="517.00" y2="447.00" stroke="#000" stroke-width="1.5" />
<text x="511.00" y="450.90" font-size="11.5" text-anchor="end" fill="#000" >35</text>
<line x1="512.00" y1="472.50" x2="517.00" y2="472.50" stroke="#000" stroke-width="1.5" />
<text x="511.00" y="476.40" font-size="11.5" text-anchor="end" fill="#000" >30</text>
<line x1="512.00" y1="498.00" x2="517.00" y2="498.00" stroke="#000" stroke-width="1.5" />
<text x="511.00" y="501.90" font-size="11.5" text-anchor="end" fill="#000" >25</text>
<line x1="531.50" y1="513.90" x2="531.50" y2="519.50" stroke="#000" stroke-width="1.5" />
<text x="531.50" y="531.30" font-size="11.5" text-anchor="middle" fill="#000" >0s</text>
<line x1="574.83" y1="513.90" x2="574.83" y2="519.50" stroke="#000" stroke-width="1.5" />
<text x="574.83" y="531.30" font-size="11.5" text-anchor="middle" fill="#000" >300s</text>
<line x1="618.17" y1="513.90" x2="618.17" y2="519.50" stroke="#000" stroke-width="1.5" />
<text x="618.17" y="531.30" font-size="11.5" text-anchor="middle" fill="#000" >600s</text>
<line x1="661.50" y1="513.90" x2="661.50" y2="519.50" stroke="#000" stroke-width="1.5" />
<text x="661.50" y="531.30" font-size="11.5" text-anchor="middle" fill="#000" >900s</text>
<polyline points="531.50,493.41 532.94,451.08 534.39,418.44 535.83,404.67 537.28,397.02 538.72,391.41 540.17,390.39 541.61,443.43 543.06,469.44 544.50,476.07 545.94,481.17 547.39,483.72 548.83,485.25 550.28,486.78 551.72,487.80 553.17,488.31 554.61,489.07 556.06,489.84 557.50,490.86 558.94,451.08 560.39,418.44 561.83,404.67 563.28,397.02 564.72,391.41 566.17,390.39 567.61,443.43 569.06,469.44 570.50,476.07 571.94,481.17 573.39,483.72 574.83,485.25 576.28,486.78 577.72,487.80 579.17,488.31 580.61,489.07 582.06,489.84 583.50,490.86 584.94,451.08 586.39,418.44 587.83,404.67 589.28,397.02 590.72,391.41 592.17,390.39 593.61,443.43 595.06,469.44 596.50,476.07 597.94,481.17 599.39,483.72 600.83,485.25 602.28,486.78 603.72,487.80 605.17,488.31 606.61,489.07 608.06,489.84 609.50,490.86 610.94,451.08 612.39,418.44 613.83,404.67 615.28,397.02 616.72,391.41 618.17,390.39 619.61,443.43 621.06,469.44 622.50,476.07 623.94,481.17 625.39,483.72 626.83,485.25 628.28,486.78 629.72,487.80 631.17,488.31 632.61,489.07 634.06,489.84 635.50,490.86 636.94,451.08 638.39,418.44 639.83,404.67 641.28,397.02 642.72,391.41 644.17,390.39 645.61,443.43 647.06,469.44 648.50,476.07 649.94,481.17 651.39,483.72 652.83,485.25 654.28,486.78 655.72,487.80 657.17,488.31 658.61,489.07 660.06,489.84 661.50,491.88" fill="none" stroke="#b084d4" stroke-width="1.7" stroke-linejoin="round"/>
<line x1="532.94" y1="451.08" x2="532.94" y2="445.58" stroke="#b084d4" stroke-width="1.2" />
<line x1="530.64" y1="445.58" x2="535.24" y2="445.58" stroke="#b084d4" stroke-width="1.2" />
<line x1="534.39" y1="418.44" x2="534.39" y2="412.94" stroke="#b084d4" stroke-width="1.2" />
<line x1="532.09" y1="412.94" x2="536.69" y2="412.94" stroke="#b084d4" stroke-width="1.2" />
<line x1="538.72" y1="391.41" x2="538.72" y2="385.91" stroke="#b084d4" stroke-width="1.2" />
<line x1="536.42" y1="385.91" x2="541.02" y2="385.91" stroke="#b084d4" stroke-width="1.2" />
<line x1="540.17" y1="390.39" x2="540.17" y2="384.89" stroke="#b084d4" stroke-width="1.2" />
<line x1="537.87" y1="384.89" x2="542.47" y2="384.89" stroke="#b084d4" stroke-width="1.2" />
<line x1="541.61" y1="443.43" x2="541.61" y2="437.93" stroke="#b084d4" stroke-width="1.2" />
<line x1="539.31" y1="437.93" x2="543.91" y2="437.93" stroke="#b084d4" stroke-width="1.2" />
<line x1="543.06" y1="469.44" x2="543.06" y2="463.94" stroke="#b084d4" stroke-width="1.2" />
<line x1="540.76" y1="463.94" x2="545.36" y2="463.94" stroke="#b084d4" stroke-width="1.2" />
<line x1="558.94" y1="451.08" x2="558.94" y2="445.58" stroke="#b084d4" stroke-width="1.2" />
<line x1="556.64" y1="445.58" x2="561.24" y2="445.58" stroke="#b084d4" stroke-width="1.2" />
<line x1="560.39" y1="418.44" x2="560.39" y2="412.94" stroke="#b084d4" stroke-width="1.2" />
<line x1="558.09" y1="412.94" x2="562.69" y2="412.94" stroke="#b084d4" stroke-width="1.2" />
<line x1="564.72" y1="391.41" x2="564.72" y2="385.91" stroke="#b084d4" stroke-width="1.2" />
<line x1="562.42" y1="385.91" x2="567.02" y2="385.91" stroke="#b084d4" stroke-width="1.2" />
<line x1="566.17" y1="390.39" x2="566.17" y2="384.89" stroke="#b084d4" stroke-width="1.2" />
<line x1="563.87" y1="384.89" x2="568.47" y2="384.89" stroke="#b084d4" stroke-width="1.2" />
<line x1="567.61" y1="443.43" x2="567.61" y2="437.93" stroke="#b084d4" stroke-width="1.2" />
<line x1="565.31" y1="437.93" x2="569.91" y2="437.93" stroke="#b084d4" stroke-width="1.2" />
<line x1="569.06" y1="469.44" x2="569.06" y2="463.94" stroke="#b084d4" stroke-width="1.2" />
<line x1="566.76" y1="463.94" x2="571.36" y2="463.94" stroke="#b084d4" stroke-width="1.2" />
<line x1="584.94" y1="451.08" x2="584.94" y2="445.58" stroke="#b084d4" stroke-width="1.2" />
<line x1="582.64" y1="445.58" x2="587.24" y2="445.58" stroke="#b084d4" stroke-width="1.2" />
<line x1="586.39" y1="418.44" x2="586.39" y2="412.94" stroke="#b084d4" stroke-width="1.2" />
<line x1="584.09" y1="412.94" x2="588.69" y2="412.94" stroke="#b084d4" stroke-width="1.2" />
<line x1="590.72" y1="391.41" x2="590.72" y2="385.91" stroke="#b084d4" stroke-width="1.2" />
<line x1="588.42" y1="385.91" x2="593.02" y2="385.91" stroke="#b084d4" stroke-width="1.2" />
<line x1="592.17" y1="390.39" x2="592.17" y2="384.89" stroke="#b084d4" stroke-width="1.2" />
<line x1="589.87" y1="384.89" x2="594.47" y2="384.89" stroke="#b084d4" stroke-width="1.2" />
<line x1="593.61" y1="443.43" x2="593.61" y2="437.93" stroke="#b084d4" stroke-width="1.2" />
<line x1="591.31" y1="437.93" x2="595.91" y2="437.93" stroke="#b084d4" stroke-width="1.2" />
<line x1="595.06" y1="469.44" x2="595.06" y2="463.94" stroke="#b084d4" stroke-width="1.2" />
<line x1="592.76" y1="463.94" x2="597.36" y2="463.94" stroke="#b084d4" stroke-width="1.2" />
<line x1="610.94" y1="451.08" x2="610.94" y2="445.58" stroke="#b084d4" stroke-width="1.2" />
<line x1="608.64" y1="445.58" x2="613.24" y2="445.58" stroke="#b084d4" stroke-width="1.2" />
<line x1="612.39" y1="418.44" x2="612.39" y2="412.94" stroke="#b084d4" stroke-width="1.2" />
<line x1="610.09" y1="412.94" x2="614.69" y2="412.94" stroke="#b084d4" stroke-width="1.2" />
<line x1="616.72" y1="391.41" x2="616.72" y2="385.91" stroke="#b084d4" stroke-width="1.2" />
<line x1="614.42" y1="385.91" x2="619.02" y2="385.91" stroke="#b084d4" stroke-width="1.2" />
<line x1="618.17" y1="390.39" x2="618.17" y2="384.89" stroke="#b084d4" stroke-width="1.2" />
<line x1="615.87" y1="384.89" x2="620.47" y2="384.89" stroke="#b084d4" stroke-width="1.2" />
<line x1="619.61" y1="443.43" x2="619.61" y2="437.93" stroke="#b084d4" stroke-width="1.2" />
<line x1="617.31" y1="437.93" x2="621.91" y2="437.93" stroke="#b084d4" stroke-width="1.2" />
<line x1="621.06" y1="469.44" x2="621.06" y2="463.94" stroke="#b084d4" stroke-width="1.2" />
<line x1="618.76" y1="463.94" x2="623.36" y2="463.94" stroke="#b084d4" stroke-width="1.2" />
<line x1="636.94" y1="451.08" x2="636.94" y2="445.58" stroke="#b084d4" stroke-width="1.2" />
<line x1="634.64" y1="445.58" x2="639.24" y2="445.58" stroke="#b084d4" stroke-width="1.2" />
<line x1="638.39" y1="418.44" x2="638.39" y2="412.94" stroke="#b084d4" stroke-width="1.2" />
<line x1="636.09" y1="412.94" x2="640.69" y2="412.94" stroke="#b084d4" stroke-width="1.2" />
<line x1="642.72" y1="391.41" x2="642.72" y2="385.91" stroke="#b084d4" stroke-width="1.2" />
<line x1="640.42" y1="385.91" x2="645.02" y2="385.91" stroke="#b084d4" stroke-width="1.2" />
<line x1="644.17" y1="390.39" x2="644.17" y2="384.89" stroke="#b084d4" stroke-width="1.2" />
<line x1="641.87" y1="384.89" x2="646.47" y2="384.89" stroke="#b084d4" stroke-width="1.2" />
<line x1="645.61" y1="443.43" x2="645.61" y2="437.93" stroke="#b084d4" stroke-width="1.2" />
<line x1="643.31" y1="437.93" x2="647.91" y2="437.93" stroke="#b084d4" stroke-width="1.2" />
<line x1="647.06" y1="469.44" x2="647.06" y2="463.94" stroke="#b084d4" stroke-width="1.2" />
<line x1="644.76" y1="463.94" x2="649.36" y2="463.94" stroke="#b084d4" stroke-width="1.2" />
<circle cx="531.50" cy="493.41" r="2.75" fill="#fff" stroke="#b084d4" stroke-width="1.7"/>
<circle cx="532.94" cy="451.08" r="2.75" fill="#fff" stroke="#b084d4" stroke-width="1.7"/>
<circle cx="534.39" cy="418.44" r="2.75" fill="#fff" stroke="#b084d4" stroke-width="1.7"/>
<circle cx="535.83" cy="404.67" r="2.75" fill="#fff" stroke="#b084d4" stroke-width="1.7"/>
<circle cx="537.28" cy="397.02" r="2.75" fill="#fff" stroke="#b084d4" stroke-width="1.7"/>
<circle cx="538.72" cy="391.41" r="2.75" fill="#fff" stroke="#b084d4" stroke-width="1.7"/>
<circle cx="540.17" cy="390.39" r="2.75" fill="#fff" stroke="#b084d4" stroke-width="1.7"/>
<circle cx="541.61" cy="443.43" r="2.75" fill="#fff" stroke="#b084d4" stroke-width="1.7"/>
<circle cx="543.06" cy="469.44" r="2.75" fill="#fff" stroke="#b084d4" stroke-width="1.7"/>
<circle cx="544.50" cy="476.07" r="2.75" fill="#fff" stroke="#b084d4" stroke-width="1.7"/>
<circle cx="545.94" cy="481.17" r="2.75" fill="#fff" stroke="#b084d4" stroke-width="1.7"/>
<circle cx="547.39" cy="483.72" r="2.75" fill="#fff" stroke="#b084d4" stroke-width="1.7"/>
<circle cx="548.83" cy="485.25" r="2.75" fill="#fff" stroke="#b084d4" stroke-width="1.7"/>
<circle cx="550.28" cy="486.78" r="2.75" fill="#fff" stroke="#b084d4" stroke-width="1.7"/>
<circle cx="551.72" cy="487.80" r="2.75" fill="#fff" stroke="#b084d4" stroke-width="1.7"/>
<circle cx="553.17" cy="488.31" r="2.75" fill="#fff" stroke="#b084d4" stroke-width="1.7"/>
<circle cx="554.61" cy="489.07" r="2.75" fill="#fff" stroke="#b084d4" stroke-width="1.7"/>
<circle cx="556.06" cy="489.84" r="2.75" fill="#fff" stroke="#b084d4" stroke-width="1.7"/>
<circle cx="557.50" cy="490.86" r="2.75" fill="#fff" stroke="#b084d4" stroke-width="1.7"/>
<circle cx="558.94" cy="451.08" r="2.75" fill="#fff" stroke="#b084d4" stroke-width="1.7"/>
<circle cx="560.39" cy="418.44" r="2.75" fill="#fff" stroke="#b084d4" stroke-width="1.7"/>
<circle cx="561.83" cy="404.67" r="2.75" fill="#fff" stroke="#b084d4" stroke-width="1.7"/>
<circle cx="563.28" cy="397.02" r="2.75" fill="#fff" stroke="#b084d4" stroke-width="1.7"/>
<circle cx="564.72" cy="391.41" r="2.75" fill="#fff" stroke="#b084d4" stroke-width="1.7"/>
<circle cx="566.17" cy="390.39" r="2.75" fill="#fff" stroke="#b084d4" stroke-width="1.7"/>
<circle cx="567.61" cy="443.43" r="2.75" fill="#fff" stroke="#b084d4" stroke-width="1.7"/>
<circle cx="569.06" cy="469.44" r="2.75" fill="#fff" stroke="#b084d4" stroke-width="1.7"/>
<circle cx="570.50" cy="476.07" r="2.75" fill="#fff" stroke="#b084d4" stroke-width="1.7"/>
<circle cx="571.94" cy="481.17" r="2.75" fill="#fff" stroke="#b084d4" stroke-width="1.7"/>
<circle cx="573.39" cy="483.72" r="2.75" fill="#fff" stroke="#b084d4" stroke-width="1.7"/>
<circle cx="574.83" cy="485.25" r="2.75" fill="#fff" stroke="#b084d4" stroke-width="1.7"/>
<circle cx="576.28" cy="486.78" r="2.75" fill="#fff" stroke="#b084d4" stroke-width="1.7"/>
<circle cx="577.72" cy="487.80" r="2.75" fill="#fff" stroke="#b084d4" stroke-width="1.7"/>
<circle cx="579.17" cy="488.31" r="2.75" fill="#fff" stroke="#b084d4" stroke-width="1.7"/>
<circle cx="580.61" cy="489.07" r="2.75" fill="#fff" stroke="#b084d4" stroke-width="1.7"/>
<circle cx="582.06" cy="489.84" r="2.75" fill="#fff" stroke="#b084d4" stroke-width="1.7"/>
<circle cx="583.50" cy="490.86" r="2.75" fill="#fff" stroke="#b084d4" stroke-width="1.7"/>
<circle cx="584.94" cy="451.08" r="2.75" fill="#fff" stroke="#b084d4" stroke-width="1.7"/>
<circle cx="586.39" cy="418.44" r="2.75" fill="#fff" stroke="#b084d4" stroke-width="1.7"/>
<circle cx="587.83" cy="404.67" r="2.75" fill="#fff" stroke="#b084d4" stroke-width="1.7"/>
<circle cx="589.28" cy="397.02" r="2.75" fill="#fff" stroke="#b084d4" stroke-width="1.7"/>
<circle cx="590.72" cy="391.41" r="2.75" fill="#fff" stroke="#b084d4" stroke-width="1.7"/>
<circle cx="592.17" cy="390.39" r="2.75" fill="#fff" stroke="#b084d4" stroke-width="1.7"/>
<circle cx="593.61" cy="443.43" r="2.75" fill="#fff" stroke="#b084d4" stroke-width="1.7"/>
<circle cx="595.06" cy="469.44" r="2.75" fill="#fff" stroke="#b084d4" stroke-width="1.7"/>
<circle cx="596.50" cy="476.07" r="2.75" fill="#fff" stroke="#b084d4" stroke-width="1.7"/>
<circle cx="597.94" cy="481.17" r="2.75" fill="#fff" stroke="#b084d4" stroke-width="1.7"/>
<circle cx="599.39" cy="483.72" r="2.75" fill="#fff" stroke="#b084d4" stroke-width="1.7"/>
<circle cx="600.83" cy="485.25" r="2.75" fill="#fff" stroke="#b084d4" stroke-width="1.7"/>
<circle cx="602.28" cy="486.78" r="2.75" fill="#fff" stroke="#b084d4" stroke-width="1.7"/>
<circle cx="603.72" cy="487.80" r="2.75" fill="#fff" stroke="#b084d4" stroke-width="1.7"/>
<circle cx="605.17" cy="488.31" r="2.75" fill="#fff" stroke="#b084d4" stroke-width="1.7"/>
<circle cx="606.61" cy="489.07" r="2.75" fill="#fff" stroke="#b084d4" stroke-width="1.7"/>
<circle cx="608.06" cy="489.84" r="2.75" fill="#fff" stroke="#b084d4" stroke-width="1.7"/>
<circle cx="609.50" cy="490.86" r="2.75" fill="#fff" stroke="#b084d4" stroke-width="1.7"/>
<circle cx="610.94" cy="451.08" r="2.75" fill="#fff" stroke="#b084d4" stroke-width="1.7"/>
<circle cx="612.39" cy="418.44" r="2.75" fill="#fff" stroke="#b084d4" stroke-width="1.7"/>
<circle cx="613.83" cy="404.67" r="2.75" fill="#fff" stroke="#b084d4" stroke-width="1.7"/>
<circle cx="615.28" cy="397.02" r="2.75" fill="#fff" stroke="#b084d4" stroke-width="1.7"/>
<circle cx="616.72" cy="391.41" r="2.75" fill="#fff" stroke="#b084d4" stroke-width="1.7"/>
<circle cx="618.17" cy="390.39" r="2.75" fill="#fff" stroke="#b084d4" stroke-width="1.7"/>
<circle cx="619.61" cy="443.43" r="2.75" fill="#fff" stroke="#b084d4" stroke-width="1.7"/>
<circle cx="621.06" cy="469.44" r="2.75" fill="#fff" stroke="#b084d4" stroke-width="1.7"/>
<circle cx="622.50" cy="476.07" r="2.75" fill="#fff" stroke="#b084d4" stroke-width="1.7"/>
<circle cx="623.94" cy="481.17" r="2.75" fill="#fff" stroke="#b084d4" stroke-width="1.7"/>
<circle cx="625.39" cy="483.72" r="2.75" fill="#fff" stroke="#b084d4" stroke-width="1.7"/>
<circle cx="626.83" cy="485.25" r="2.75" fill="#fff" stroke="#b084d4" stroke-width="1.7"/>
<circle cx="628.28" cy="486.78" r="2.75" fill="#fff" stroke="#b084d4" stroke-width="1.7"/>
<circle cx="629.72" cy="487.80" r="2.75" fill="#fff" stroke="#b084d4" stroke-width="1.7"/>
<circle cx="631.17" cy="488.31" r="2.75" fill="#fff" stroke="#b084d4" stroke-width="1.7"/>
<circle cx="632.61" cy="489.07" r="2.75" fill="#fff" stroke="#b084d4" stroke-width="1.7"/>
<circle cx="634.06" cy="489.84" r="2.75" fill="#fff" stroke="#b084d4" stroke-width="1.7"/>
<circle cx="635.50" cy="490.86" r="2.75" fill="#fff" stroke="#b084d4" stroke-width="1.7"/>
<circle cx="636.94" cy="451.08" r="2.75" fill="#fff" stroke="#b084d4" stroke-width="1.7"/>
<circle cx="638.39" cy="418.44" r="2.75" fill="#fff" stroke="#b084d4" stroke-width="1.7"/>
<circle cx="639.83" cy="404.67" r="2.75" fill="#fff" stroke="#b084d4" stroke-width="1.7"/>
<circle cx="641.28" cy="397.02" r="2.75" fill="#fff" stroke="#b084d4" stroke-width="1.7"/>
<circle cx="642.72" cy="391.41" r="2.75" fill="#fff" stroke="#b084d4" stroke-width="1.7"/>
<circle cx="644.17" cy="390.39" r="2.75" fill="#fff" stroke="#b084d4" stroke-width="1.7"/>
<circle cx="645.61" cy="443.43" r="2.75" fill="#fff" stroke="#b084d4" stroke-width="1.7"/>
<circle cx="647.06" cy="469.44" r="2.75" fill="#fff" stroke="#b084d4" stroke-width="1.7"/>
<circle cx="648.50" cy="476.07" r="2.75" fill="#fff" stroke="#b084d4" stroke-width="1.7"/>
<circle cx="649.94" cy="481.17" r="2.75" fill="#fff" stroke="#b084d4" stroke-width="1.7"/>
<circle cx="651.39" cy="483.72" r="2.75" fill="#fff" stroke="#b084d4" stroke-width="1.7"/>
<circle cx="652.83" cy="485.25" r="2.75" fill="#fff" stroke="#b084d4" stroke-width="1.7"/>
<circle cx="654.28" cy="486.78" r="2.75" fill="#fff" stroke="#b084d4" stroke-width="1.7"/>
<circle cx="655.72" cy="487.80" r="2.75" fill="#fff" stroke="#b084d4" stroke-width="1.7"/>
<circle cx="657.17" cy="488.31" r="2.75" fill="#fff" stroke="#b084d4" stroke-width="1.7"/>
<circle cx="658.61" cy="489.07" r="2.75" fill="#fff" stroke="#b084d4" stroke-width="1.7"/>
<circle cx="660.06" cy="489.84" r="2.75" fill="#fff" stroke="#b084d4" stroke-width="1.7"/>
<circle cx="661.50" cy="491.88" r="2.75" fill="#fff" stroke="#b084d4" stroke-width="1.7"/>
<text x="493.30" y="447.50" font-size="13.4" text-anchor="middle" transform="rotate(-90 493.30 447.50)">Temperature (°C)</text>
<text x="539.50" y="380.90" font-size="9.8" text-anchor="middle" fill="#000" >OFF</text>
<text x="565.50" y="380.90" font-size="9.8" text-anchor="middle" fill="#000" >OFF</text>
<text x="591.90" y="380.90" font-size="9.8" text-anchor="middle" fill="#000" >OFF</text>
<text x="618.50" y="380.90" font-size="9.8" text-anchor="middle" fill="#000" >OFF</text>
<text x="644.20" y="380.90" font-size="9.8" text-anchor="middle" fill="#000" >OFF</text>
<text x="531.00" y="507.40" font-size="9.8" text-anchor="middle" fill="#000" >ON</text>
<text x="557.50" y="507.40" font-size="9.8" text-anchor="middle" fill="#000" >ON</text>
<text x="583.80" y="507.40" font-size="9.8" text-anchor="middle" fill="#000" >ON</text>
<text x="610.20" y="507.40" font-size="9.8" text-anchor="middle" fill="#000" >ON</text>
<text x="636.20" y="507.40" font-size="9.8" text-anchor="middle" fill="#000" >ON</text>
<text x="1.70" y="551.00" font-size="25" text-anchor="start" fill="#000" >e</text>
<rect x="49.00" y="557.10" width="125.50" height="125.10" fill="none" stroke="#000" stroke-width="1.65"/>
<rect x="74.10" y="600.88" width="25.20" height="81.32" fill="#898ccc" stroke="none" stroke-width="1" />
<line x1="86.70" y1="600.88" x2="86.70" y2="595.88" stroke="#898ccc" stroke-width="1.7" />
<line x1="80.50" y1="595.88" x2="92.90" y2="595.88" stroke="#898ccc" stroke-width="1.7" />
<rect x="124.20" y="618.40" width="25.10" height="63.80" fill="#ab7bc5" stroke="none" stroke-width="1" />
<line x1="136.75" y1="618.40" x2="136.75" y2="613.65" stroke="#ab7bc5" stroke-width="1.7" />
<line x1="130.55" y1="613.65" x2="142.95" y2="613.65" stroke="#ab7bc5" stroke-width="1.7" />
<line x1="44.00" y1="682.20" x2="49.00" y2="682.20" stroke="#000" stroke-width="1.5" />
<text x="43.40" y="685.50" font-size="9.7" text-anchor="end" fill="#000" >0</text>
<line x1="44.00" y1="657.18" x2="49.00" y2="657.18" stroke="#000" stroke-width="1.5" />
<text x="43.40" y="660.48" font-size="9.7" text-anchor="end" fill="#000" >20</text>
<line x1="44.00" y1="632.16" x2="49.00" y2="632.16" stroke="#000" stroke-width="1.5" />
<text x="43.40" y="635.46" font-size="9.7" text-anchor="end" fill="#000" >40</text>
<line x1="44.00" y1="607.14" x2="49.00" y2="607.14" stroke="#000" stroke-width="1.5" />
<text x="43.40" y="610.44" font-size="9.7" text-anchor="end" fill="#000" >60</text>
<line x1="44.00" y1="582.12" x2="49.00" y2="582.12" stroke="#000" stroke-width="1.5" />
<text x="43.40" y="585.42" font-size="9.7" text-anchor="end" fill="#000" >80</text>
<line x1="44.00" y1="557.10" x2="49.00" y2="557.10" stroke="#000" stroke-width="1.5" />
<text x="43.40" y="560.40" font-size="9.7" text-anchor="end" fill="#000" >100</text>
<line x1="86.70" y1="682.20" x2="86.70" y2="686.90" stroke="#000" stroke-width="1.5" />
<text x="89.20" y="696.70" font-size="9.8" text-anchor="end" transform="rotate(-32 89.20 696.70)">PIMS</text>
<line x1="136.75" y1="682.20" x2="136.75" y2="686.90" stroke="#000" stroke-width="1.5" />
<text x="139.25" y="696.70" font-size="9.8" text-anchor="end" transform="rotate(-32 139.25 696.70)">PTIMS</text>
<text x="27.30" y="620.35" font-size="13.75" text-anchor="middle" transform="rotate(-90 27.30 620.35)">IDA Entrapment rate (%)</text>
<text x="173.30" y="551.00" font-size="25" text-anchor="start" fill="#000" >f</text>
<rect x="214.70" y="557.10" width="126.10" height="125.30" fill="none" stroke="#000" stroke-width="1.65"/>
<rect x="240.20" y="589.18" width="24.90" height="93.22" fill="#b1e4aa" stroke="none" stroke-width="1" />
<line x1="252.65" y1="589.18" x2="252.65" y2="586.42" stroke="#b1e4aa" stroke-width="1.7" />
<line x1="246.45" y1="586.42" x2="258.85" y2="586.42" stroke="#b1e4aa" stroke-width="1.7" />
<rect x="290.30" y="604.21" width="25.00" height="78.19" fill="#ab7bc5" stroke="none" stroke-width="1" />
<line x1="302.80" y1="604.21" x2="302.80" y2="597.95" stroke="#ab7bc5" stroke-width="1.7" />
<line x1="296.60" y1="597.95" x2="309.00" y2="597.95" stroke="#ab7bc5" stroke-width="1.7" />
<line x1="209.70" y1="682.40" x2="214.70" y2="682.40" stroke="#000" stroke-width="1.5" />
<text x="209.10" y="685.70" font-size="9.7" text-anchor="end" fill="#000" >0</text>
<line x1="209.70" y1="657.34" x2="214.70" y2="657.34" stroke="#000" stroke-width="1.5" />
<text x="209.10" y="660.64" font-size="9.7" text-anchor="end" fill="#000" >20</text>
<line x1="209.70" y1="632.28" x2="214.70" y2="632.28" stroke="#000" stroke-width="1.5" />
<text x="209.10" y="635.58" font-size="9.7" text-anchor="end" fill="#000" >40</text>
<line x1="209.70" y1="607.22" x2="214.70" y2="607.22" stroke="#000" stroke-width="1.5" />
<text x="209.10" y="610.52" font-size="9.7" text-anchor="end" fill="#000" >60</text>
<line x1="209.70" y1="582.16" x2="214.70" y2="582.16" stroke="#000" stroke-width="1.5" />
<text x="209.10" y="585.46" font-size="9.7" text-anchor="end" fill="#000" >80</text>
<line x1="209.70" y1="557.10" x2="214.70" y2="557.10" stroke="#000" stroke-width="1.5" />
<text x="209.10" y="560.40" font-size="9.7" text-anchor="end" fill="#000" >100</text>
<line x1="252.65" y1="682.40" x2="252.65" y2="687.10" stroke="#000" stroke-width="1.5" />
<text x="255.15" y="696.90" font-size="9.8" text-anchor="end" transform="rotate(-32 255.15 696.90)">PTMS</text>
<line x1="302.80" y1="682.40" x2="302.80" y2="687.10" stroke="#000" stroke-width="1.5" />
<text x="305.30" y="696.90" font-size="9.8" text-anchor="end" transform="rotate(-32 305.30 696.90)">PTIMS</text>
<text x="193.60" y="620.45" font-size="13.45" text-anchor="middle" transform="rotate(-90 193.60 620.45)">TQR Entrapment rate (%)</text>
<text x="345.20" y="550.60" font-size="25" text-anchor="start" fill="#000" >g</text>
<rect x="379.40" y="556.30" width="126.10" height="126.10" fill="none" stroke="#000" stroke-width="1.65"/>
<line x1="375.20" y1="682.40" x2="379.40" y2="682.40" stroke="#000" stroke-width="1.5" />
<text x="375.30" y="685.70" font-size="9.7" text-anchor="end" fill="#000" >0</text>
<line x1="375.20" y1="640.37" x2="379.40" y2="640.37" stroke="#000" stroke-width="1.5" />
<text x="375.30" y="643.67" font-size="9.7" text-anchor="end" fill="#000" >50</text>
<line x1="375.20" y1="598.33" x2="379.40" y2="598.33" stroke="#000" stroke-width="1.5" />
<text x="375.30" y="601.63" font-size="9.7" text-anchor="end" fill="#000" >100</text>
<line x1="375.20" y1="556.30" x2="379.40" y2="556.30" stroke="#000" stroke-width="1.5" />
<text x="375.30" y="559.60" font-size="9.7" text-anchor="end" fill="#000" >150</text>
<line x1="380.00" y1="682.40" x2="380.00" y2="687.10" stroke="#000" stroke-width="1.5" />
<text x="380.00" y="697.60" font-size="9.6" text-anchor="middle" fill="#000" >0d</text>
<line x1="411.38" y1="682.40" x2="411.38" y2="687.10" stroke="#000" stroke-width="1.5" />
<text x="411.38" y="697.60" font-size="9.6" text-anchor="middle" fill="#000" >10d</text>
<line x1="442.75" y1="682.40" x2="442.75" y2="687.10" stroke="#000" stroke-width="1.5" />
<text x="442.75" y="697.60" font-size="9.6" text-anchor="middle" fill="#000" >20d</text>
<line x1="474.12" y1="682.40" x2="474.12" y2="687.10" stroke="#000" stroke-width="1.5" />
<text x="474.12" y="697.60" font-size="9.6" text-anchor="middle" fill="#000" >30d</text>
<line x1="505.50" y1="682.40" x2="505.50" y2="687.10" stroke="#000" stroke-width="1.5" />
<text x="505.50" y="697.60" font-size="9.6" text-anchor="middle" fill="#000" >40d</text>
<line x1="401.96" y1="638.01" x2="401.96" y2="627.93" stroke="#c7799a" stroke-width="1.3" />
<line x1="399.46" y1="627.93" x2="404.46" y2="627.93" stroke="#c7799a" stroke-width="1.3" />
<polyline points="380.00,680.30 380.78,673.99 381.57,668.11 383.14,663.91 389.41,651.30 401.96,638.01 423.93,621.03 467.85,606.74" fill="none" stroke="#c7799a" stroke-width="1.5" stroke-linejoin="round"/>
<line x1="383.14" y1="663.91" x2="383.14" y2="659.20" stroke="#9b9b9b" stroke-width="1.3" />
<line x1="380.64" y1="659.20" x2="385.64" y2="659.20" stroke="#9b9b9b" stroke-width="1.3" />
<line x1="389.41" y1="655.50" x2="389.41" y2="648.78" stroke="#9b9b9b" stroke-width="1.3" />
<line x1="386.91" y1="648.78" x2="391.91" y2="648.78" stroke="#9b9b9b" stroke-width="1.3" />
<line x1="401.96" y1="635.32" x2="401.96" y2="627.76" stroke="#9b9b9b" stroke-width="1.3" />
<line x1="399.46" y1="627.76" x2="404.46" y2="627.76" stroke="#9b9b9b" stroke-width="1.3" />
<line x1="423.93" y1="616.83" x2="423.93" y2="611.79" stroke="#9b9b9b" stroke-width="1.3" />
<line x1="421.43" y1="611.79" x2="426.43" y2="611.79" stroke="#9b9b9b" stroke-width="1.3" />
<line x1="467.85" y1="605.06" x2="467.85" y2="601.70" stroke="#9b9b9b" stroke-width="1.3" />
<line x1="465.35" y1="601.70" x2="470.35" y2="601.70" stroke="#9b9b9b" stroke-width="1.3" />
<polyline points="380.00,679.88 380.78,673.15 381.57,667.27 383.14,663.91 389.41,655.50 401.96,635.32 423.93,616.83 467.85,605.06" fill="none" stroke="#9b9b9b" stroke-width="1.5" stroke-linejoin="round"/>
<polyline points="380.00,681.14 380.78,677.36 381.57,673.15 383.14,669.79 389.41,661.38 401.96,648.77 423.93,629.44 467.85,623.55" fill="none" stroke="#a871d6" stroke-width="1.5" stroke-linejoin="round"/>
<line x1="467.85" y1="619.35" x2="467.85" y2="614.31" stroke="#7c84da" stroke-width="1.3" />
<line x1="465.35" y1="614.31" x2="470.35" y2="614.31" stroke="#7c84da" stroke-width="1.3" />
<polyline points="380.00,680.30 380.78,674.83 381.57,671.05 383.14,667.02 389.41,656.84 401.96,644.57 423.93,625.23 467.85,619.35" fill="none" stroke="#7c84da" stroke-width="1.5" stroke-linejoin="round"/>
<circle cx="380.00" cy="680.30" r="2.75" fill="#fff" stroke="#c7799a" stroke-width="1.6"/>
<circle cx="380.78" cy="673.99" r="2.75" fill="#fff" stroke="#c7799a" stroke-width="1.6"/>
<circle cx="381.57" cy="668.11" r="2.75" fill="#fff" stroke="#c7799a" stroke-width="1.6"/>
<circle cx="383.14" cy="663.91" r="2.75" fill="#fff" stroke="#c7799a" stroke-width="1.6"/>
<circle cx="389.41" cy="651.30" r="2.75" fill="#fff" stroke="#c7799a" stroke-width="1.6"/>
<circle cx="401.96" cy="638.01" r="2.75" fill="#fff" stroke="#c7799a" stroke-width="1.6"/>
<circle cx="423.93" cy="621.03" r="2.75" fill="#fff" stroke="#c7799a" stroke-width="1.6"/>
<circle cx="467.85" cy="606.74" r="2.75" fill="#fff" stroke="#c7799a" stroke-width="1.6"/>
<circle cx="380.00" cy="679.88" r="2.75" fill="#fff" stroke="#9b9b9b" stroke-width="1.6"/>
<circle cx="380.78" cy="673.15" r="2.75" fill="#fff" stroke="#9b9b9b" stroke-width="1.6"/>
<circle cx="381.57" cy="667.27" r="2.75" fill="#fff" stroke="#9b9b9b" stroke-width="1.6"/>
<circle cx="383.14" cy="663.91" r="2.75" fill="#fff" stroke="#9b9b9b" stroke-width="1.6"/>
<circle cx="389.41" cy="655.50" r="2.75" fill="#fff" stroke="#9b9b9b" stroke-width="1.6"/>
<circle cx="401.96" cy="635.32" r="2.75" fill="#fff" stroke="#9b9b9b" stroke-width="1.6"/>
<circle cx="423.93" cy="616.83" r="2.75" fill="#fff" stroke="#9b9b9b" stroke-width="1.6"/>
<circle cx="467.85" cy="605.06" r="2.75" fill="#fff" stroke="#9b9b9b" stroke-width="1.6"/>
<circle cx="380.00" cy="681.14" r="2.75" fill="#fff" stroke="#a871d6" stroke-width="1.6"/>
<circle cx="380.78" cy="677.36" r="2.75" fill="#fff" stroke="#a871d6" stroke-width="1.6"/>
<circle cx="381.57" cy="673.15" r="2.75" fill="#fff" stroke="#a871d6" stroke-width="1.6"/>
<circle cx="383.14" cy="669.79" r="2.75" fill="#fff" stroke="#a871d6" stroke-width="1.6"/>
<circle cx="389.41" cy="661.38" r="2.75" fill="#fff" stroke="#a871d6" stroke-width="1.6"/>
<circle cx="401.96" cy="648.77" r="2.75" fill="#fff" stroke="#a871d6" stroke-width="1.6"/>
<circle cx="423.93" cy="629.44" r="2.75" fill="#fff" stroke="#a871d6" stroke-width="1.6"/>
<circle cx="467.85" cy="623.55" r="2.75" fill="#fff" stroke="#a871d6" stroke-width="1.6"/>
<circle cx="380.00" cy="680.30" r="2.75" fill="#fff" stroke="#7c84da" stroke-width="1.6"/>
<circle cx="380.78" cy="674.83" r="2.75" fill="#fff" stroke="#7c84da" stroke-width="1.6"/>
<circle cx="381.57" cy="671.05" r="2.75" fill="#fff" stroke="#7c84da" stroke-width="1.6"/>
<circle cx="383.14" cy="667.02" r="2.75" fill="#fff" stroke="#7c84da" stroke-width="1.6"/>
<circle cx="389.41" cy="656.84" r="2.75" fill="#fff" stroke="#7c84da" stroke-width="1.6"/>
<circle cx="401.96" cy="644.57" r="2.75" fill="#fff" stroke="#7c84da" stroke-width="1.6"/>
<circle cx="423.93" cy="625.23" r="2.75" fill="#fff" stroke="#7c84da" stroke-width="1.6"/>
<circle cx="467.85" cy="619.35" r="2.75" fill="#fff" stroke="#7c84da" stroke-width="1.6"/>
<text x="360.00" y="620.55" font-size="13.8" text-anchor="middle" transform="rotate(-90 360.00 620.55)">IDA Release rate (%)</text>
<circle cx="386.80" cy="563.40" r="2.35" fill="#fff" stroke="#7c84da" stroke-width="1.5"/>
<text x="394.40" y="566.30" font-size="8.6" text-anchor="start" fill="#000" >PIMS</text>
<circle cx="424.60" cy="563.40" r="2.35" fill="#fff" stroke="#a871d6" stroke-width="1.5"/>
<text x="432.20" y="566.30" font-size="8.6" text-anchor="start" fill="#000" >PTIMS</text>
<circle cx="386.80" cy="576.50" r="2.35" fill="#fff" stroke="#9b9b9b" stroke-width="1.5"/>
<text x="394.40" y="579.40" font-size="8.6" text-anchor="start" fill="#000" >PIMS+NIR</text>
<circle cx="386.80" cy="589.10" r="2.35" fill="#fff" stroke="#c7799a" stroke-width="1.5"/>
<text x="394.40" y="592.00" font-size="8.6" text-anchor="start" fill="#000" >PTIMS+NIR</text>
<polyline points="473.10,606.40 478.30,606.40 478.30,619.30 473.10,619.30" fill="none" stroke="#222" stroke-width="1.25"/>
<path d="M479.85 609.10L484.95 609.10M481.12 606.89L483.67 611.31M483.67 606.89L481.12 611.31" stroke="#1a1a1a" stroke-width="0.85" fill="none"/>
<path d="M479.85 616.40L484.95 616.40M481.12 614.19L483.67 618.61M483.67 614.19L481.12 618.61" stroke="#1a1a1a" stroke-width="0.85" fill="none"/>
<polyline points="489.80,606.40 495.00,606.40 495.00,624.80 489.80,624.80" fill="none" stroke="#222" stroke-width="1.25"/>
<path d="M497.25 608.10L502.35 608.10M498.53 605.89L501.07 610.31M501.07 605.89L498.53 610.31" stroke="#1a1a1a" stroke-width="0.85" fill="none"/>
<path d="M497.25 615.00L502.35 615.00M498.53 612.79L501.07 617.21M501.07 612.79L498.53 617.21" stroke="#1a1a1a" stroke-width="0.85" fill="none"/>
<path d="M497.25 621.90L502.35 621.90M498.53 619.69L501.07 624.11M501.07 619.69L498.53 624.11" stroke="#1a1a1a" stroke-width="0.85" fill="none"/>
<text x="512.70" y="551.10" font-size="25" text-anchor="start" fill="#000" >h</text>
<rect x="550.20" y="557.10" width="126.10" height="126.10" fill="none" stroke="#000" stroke-width="1.65"/>
<line x1="546.00" y1="683.20" x2="550.20" y2="683.20" stroke="#000" stroke-width="1.5" />
<text x="546.10" y="686.50" font-size="9.7" text-anchor="end" fill="#000" >0</text>
<line x1="546.00" y1="641.17" x2="550.20" y2="641.17" stroke="#000" stroke-width="1.5" />
<text x="546.10" y="644.47" font-size="9.7" text-anchor="end" fill="#000" >50</text>
<line x1="546.00" y1="599.13" x2="550.20" y2="599.13" stroke="#000" stroke-width="1.5" />
<text x="546.10" y="602.43" font-size="9.7" text-anchor="end" fill="#000" >100</text>
<line x1="546.00" y1="557.10" x2="550.20" y2="557.10" stroke="#000" stroke-width="1.5" />
<text x="546.10" y="560.40" font-size="9.7" text-anchor="end" fill="#000" >150</text>
<line x1="551.00" y1="683.20" x2="551.00" y2="687.90" stroke="#000" stroke-width="1.5" />
<text x="551.00" y="698.40" font-size="9.6" text-anchor="middle" fill="#000" >0d</text>
<line x1="582.33" y1="683.20" x2="582.33" y2="687.90" stroke="#000" stroke-width="1.5" />
<text x="582.33" y="698.40" font-size="9.6" text-anchor="middle" fill="#000" >10d</text>
<line x1="613.65" y1="683.20" x2="613.65" y2="687.90" stroke="#000" stroke-width="1.5" />
<text x="613.65" y="698.40" font-size="9.6" text-anchor="middle" fill="#000" >20d</text>
<line x1="644.97" y1="683.20" x2="644.97" y2="687.90" stroke="#000" stroke-width="1.5" />
<text x="644.97" y="698.40" font-size="9.6" text-anchor="middle" fill="#000" >30d</text>
<line x1="676.30" y1="683.20" x2="676.30" y2="687.90" stroke="#000" stroke-width="1.5" />
<text x="676.30" y="698.40" font-size="9.6" text-anchor="middle" fill="#000" >40d</text>
<line x1="594.86" y1="610.90" x2="594.86" y2="608.38" stroke="#c7799a" stroke-width="1.3" />
<line x1="592.36" y1="608.38" x2="597.36" y2="608.38" stroke="#c7799a" stroke-width="1.3" />
<polyline points="551.00,680.68 551.78,672.27 552.57,665.55 554.13,653.78 560.40,641.17 572.93,627.72 594.86,610.90 638.71,605.86" fill="none" stroke="#c7799a" stroke-width="1.5" stroke-linejoin="round"/>
<line x1="560.40" y1="642.01" x2="560.40" y2="639.49" stroke="#9b9b9b" stroke-width="1.3" />
<line x1="557.90" y1="639.49" x2="562.90" y2="639.49" stroke="#9b9b9b" stroke-width="1.3" />
<line x1="572.93" y1="623.68" x2="572.93" y2="620.32" stroke="#9b9b9b" stroke-width="1.3" />
<line x1="570.43" y1="620.32" x2="575.43" y2="620.32" stroke="#9b9b9b" stroke-width="1.3" />
<line x1="594.86" y1="611.49" x2="594.86" y2="609.81" stroke="#9b9b9b" stroke-width="1.3" />
<line x1="592.36" y1="609.81" x2="597.36" y2="609.81" stroke="#9b9b9b" stroke-width="1.3" />
<line x1="638.71" y1="603.93" x2="638.71" y2="601.07" stroke="#9b9b9b" stroke-width="1.3" />
<line x1="636.21" y1="601.07" x2="641.21" y2="601.07" stroke="#9b9b9b" stroke-width="1.3" />
<polyline points="551.00,680.68 551.78,672.27 552.57,664.71 554.13,654.20 560.40,642.01 572.93,623.68 594.86,611.49 638.71,603.93" fill="none" stroke="#9b9b9b" stroke-width="1.5" stroke-linejoin="round"/>
<polyline points="551.00,681.52 551.78,677.32 552.57,670.59 554.13,664.71 560.40,652.10 572.93,631.08 594.86,621.83 638.71,617.63" fill="none" stroke="#a871d6" stroke-width="1.5" stroke-linejoin="round"/>
<polyline points="551.00,680.68 551.78,672.94 552.57,666.81 554.13,658.57 560.40,648.90 572.93,629.90 594.86,619.48 638.71,612.58" fill="none" stroke="#a6e3a0" stroke-width="1.5" stroke-linejoin="round"/>
<circle cx="551.00" cy="680.68" r="2.75" fill="#fff" stroke="#c7799a" stroke-width="1.6"/>
<circle cx="551.78" cy="672.27" r="2.75" fill="#fff" stroke="#c7799a" stroke-width="1.6"/>
<circle cx="552.57" cy="665.55" r="2.75" fill="#fff" stroke="#c7799a" stroke-width="1.6"/>
<circle cx="554.13" cy="653.78" r="2.75" fill="#fff" stroke="#c7799a" stroke-width="1.6"/>
<circle cx="560.40" cy="641.17" r="2.75" fill="#fff" stroke="#c7799a" stroke-width="1.6"/>
<circle cx="572.93" cy="627.72" r="2.75" fill="#fff" stroke="#c7799a" stroke-width="1.6"/>
<circle cx="594.86" cy="610.90" r="2.75" fill="#fff" stroke="#c7799a" stroke-width="1.6"/>
<circle cx="638.71" cy="605.86" r="2.75" fill="#fff" stroke="#c7799a" stroke-width="1.6"/>
<circle cx="551.00" cy="680.68" r="2.75" fill="#fff" stroke="#9b9b9b" stroke-width="1.6"/>
<circle cx="551.78" cy="672.27" r="2.75" fill="#fff" stroke="#9b9b9b" stroke-width="1.6"/>
<circle cx="552.57" cy="664.71" r="2.75" fill="#fff" stroke="#9b9b9b" stroke-width="1.6"/>
<circle cx="554.13" cy="654.20" r="2.75" fill="#fff" stroke="#9b9b9b" stroke-width="1.6"/>
<circle cx="560.40" cy="642.01" r="2.75" fill="#fff" stroke="#9b9b9b" stroke-width="1.6"/>
<circle cx="572.93" cy="623.68" r="2.75" fill="#fff" stroke="#9b9b9b" stroke-width="1.6"/>
<circle cx="594.86" cy="611.49" r="2.75" fill="#fff" stroke="#9b9b9b" stroke-width="1.6"/>
<circle cx="638.71" cy="603.93" r="2.75" fill="#fff" stroke="#9b9b9b" stroke-width="1.6"/>
<circle cx="551.00" cy="681.52" r="2.75" fill="#fff" stroke="#a871d6" stroke-width="1.6"/>
<circle cx="551.78" cy="677.32" r="2.75" fill="#fff" stroke="#a871d6" stroke-width="1.6"/>
<circle cx="552.57" cy="670.59" r="2.75" fill="#fff" stroke="#a871d6" stroke-width="1.6"/>
<circle cx="554.13" cy="664.71" r="2.75" fill="#fff" stroke="#a871d6" stroke-width="1.6"/>
<circle cx="560.40" cy="652.10" r="2.75" fill="#fff" stroke="#a871d6" stroke-width="1.6"/>
<circle cx="572.93" cy="631.08" r="2.75" fill="#fff" stroke="#a871d6" stroke-width="1.6"/>
<circle cx="594.86" cy="621.83" r="2.75" fill="#fff" stroke="#a871d6" stroke-width="1.6"/>
<circle cx="638.71" cy="617.63" r="2.75" fill="#fff" stroke="#a871d6" stroke-width="1.6"/>
<circle cx="551.00" cy="680.68" r="2.75" fill="#fff" stroke="#a6e3a0" stroke-width="1.6"/>
<circle cx="551.78" cy="672.94" r="2.75" fill="#fff" stroke="#a6e3a0" stroke-width="1.6"/>
<circle cx="552.57" cy="666.81" r="2.75" fill="#fff" stroke="#a6e3a0" stroke-width="1.6"/>
<circle cx="554.13" cy="658.57" r="2.75" fill="#fff" stroke="#a6e3a0" stroke-width="1.6"/>
<circle cx="560.40" cy="648.90" r="2.75" fill="#fff" stroke="#a6e3a0" stroke-width="1.6"/>
<circle cx="572.93" cy="629.90" r="2.75" fill="#fff" stroke="#a6e3a0" stroke-width="1.6"/>
<circle cx="594.86" cy="619.48" r="2.75" fill="#fff" stroke="#a6e3a0" stroke-width="1.6"/>
<circle cx="638.71" cy="612.58" r="2.75" fill="#fff" stroke="#a6e3a0" stroke-width="1.6"/>
<text x="532.70" y="619.55" font-size="13.6" text-anchor="middle" transform="rotate(-90 532.70 619.55)">TQR Release rate (%)</text>
<circle cx="557.60" cy="564.20" r="2.35" fill="#fff" stroke="#a6e3a0" stroke-width="1.5"/>
<text x="565.20" y="567.10" font-size="8.6" text-anchor="start" fill="#000" >PTMS</text>
<circle cx="595.70" cy="564.20" r="2.35" fill="#fff" stroke="#a871d6" stroke-width="1.5"/>
<text x="603.30" y="567.10" font-size="8.6" text-anchor="start" fill="#000" >PTIMS</text>
<circle cx="557.60" cy="577.30" r="2.35" fill="#fff" stroke="#9b9b9b" stroke-width="1.5"/>
<text x="565.20" y="580.20" font-size="8.6" text-anchor="start" fill="#000" >PTMS+NIR</text>
<circle cx="557.60" cy="589.90" r="2.35" fill="#fff" stroke="#c7799a" stroke-width="1.5"/>
<text x="565.20" y="592.80" font-size="8.6" text-anchor="start" fill="#000" >PTIMS+NIR</text>
<polyline points="643.50,603.60 648.70,603.60 648.70,613.30 643.50,613.30" fill="none" stroke="#222" stroke-width="1.25"/>
<path d="M650.65 601.30L655.75 601.30M651.93 599.09L654.48 603.51M654.48 599.09L651.93 603.51" stroke="#1a1a1a" stroke-width="0.85" fill="none"/>
<path d="M650.65 608.50L655.75 608.50M651.93 606.29L654.48 610.71M654.48 606.29L651.93 610.71" stroke="#1a1a1a" stroke-width="0.85" fill="none"/>
<path d="M650.65 615.60L655.75 615.60M651.93 613.39L654.48 617.81M654.48 613.39L651.93 617.81" stroke="#1a1a1a" stroke-width="0.85" fill="none"/>
<polyline points="659.40,606.50 664.60,606.50 664.60,618.00 659.40,618.00" fill="none" stroke="#222" stroke-width="1.25"/>
<path d="M666.65 605.30L671.75 605.30M667.93 603.09L670.48 607.51M670.48 603.09L667.93 607.51" stroke="#1a1a1a" stroke-width="0.85" fill="none"/>
<path d="M666.65 612.50L671.75 612.50M667.93 610.29L670.48 614.71M670.48 610.29L667.93 614.71" stroke="#1a1a1a" stroke-width="0.85" fill="none"/>
<path d="M666.65 619.60L671.75 619.60M667.93 617.39L670.48 621.81M670.48 617.39L667.93 621.81" stroke="#1a1a1a" stroke-width="0.85" fill="none"/>
</svg>
</body></html>
